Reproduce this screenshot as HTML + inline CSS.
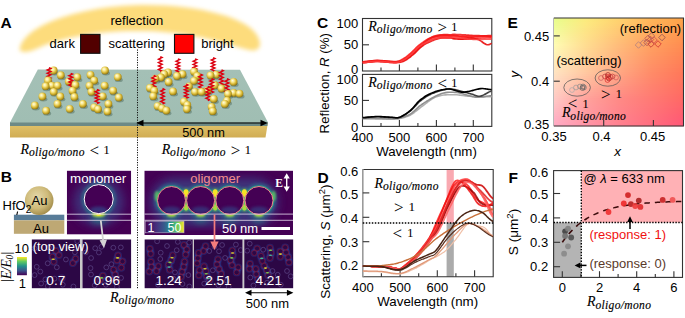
<!DOCTYPE html>
<html><head><meta charset="utf-8"><style>
html,body{margin:0;padding:0;background:#fff;width:685px;height:318px;overflow:hidden}
svg{display:block}
text{font-family:"Liberation Sans",sans-serif}
</style></head><body>
<svg width="685" height="318" viewBox="0 0 685 318">
<defs>
<filter id="blur07" x="-50%" y="-50%" width="200%" height="200%"><feGaussianBlur stdDeviation="0.7"/></filter>
<filter id="blur1" x="-50%" y="-50%" width="200%" height="200%"><feGaussianBlur stdDeviation="1"/></filter>
<filter id="blur15" x="-50%" y="-50%" width="200%" height="200%"><feGaussianBlur stdDeviation="1.5"/></filter>
<filter id="blur3" x="-50%" y="-50%" width="200%" height="200%"><feGaussianBlur stdDeviation="3"/></filter>
<filter id="blur5" x="-50%" y="-50%" width="200%" height="200%"><feGaussianBlur stdDeviation="5"/></filter>
<filter id="blur2b" x="-50%" y="-50%" width="200%" height="200%"><feGaussianBlur stdDeviation="2"/></filter>
<clipPath id="clipMonoIn"><circle cx="98.7" cy="199.1" r="14"/></clipPath>
<clipPath id="clipO0"><circle cx="171.5" cy="200.5" r="13.5"/></clipPath>
<clipPath id="clipO1"><circle cx="200.6" cy="200.5" r="13.5"/></clipPath>
<clipPath id="clipO2"><circle cx="229.8" cy="200.5" r="13.5"/></clipPath>
<clipPath id="clipO3"><circle cx="259" cy="200.5" r="13.5"/></clipPath>
<filter id="blur2" x="-10%" y="-30%" width="120%" height="160%"><feGaussianBlur stdDeviation="2.2"/></filter>
<linearGradient id="goldside" x1="0" y1="0" x2="0" y2="1"><stop offset="0" stop-color="#e4c66c"/><stop offset="1" stop-color="#d0ac54"/></linearGradient>
<linearGradient id="slabtop" x1="0" y1="0" x2="0" y2="1"><stop offset="0" stop-color="#a4c0b6"/><stop offset="1" stop-color="#a0beb3"/></linearGradient>
<radialGradient id="sph" cx="0.42" cy="0.4" r="0.68" fx="0.36" fy="0.32"><stop offset="0" stop-color="#fffde6"/><stop offset="0.3" stop-color="#f8e88e"/><stop offset="0.58" stop-color="#dcbc3a"/><stop offset="0.85" stop-color="#a08418"/><stop offset="1" stop-color="#6a5a1c"/></radialGradient>
<radialGradient id="bigsph" cx="0.42" cy="0.38" r="0.65"><stop offset="0" stop-color="#e4d8aa"/><stop offset="0.6" stop-color="#cfbb7a"/><stop offset="1" stop-color="#a08a48"/></radialGradient>
<radialGradient id="halo"><stop offset="0.3" stop-color="#3e3f86" stop-opacity="0.9"/><stop offset="0.65" stop-color="#472a78" stop-opacity="0.6"/><stop offset="1" stop-color="#440154" stop-opacity="0"/></radialGradient>
<radialGradient id="ring"><stop offset="0.8" stop-color="#2a7a8e"/><stop offset="0.88" stop-color="#2f6090" stop-opacity="0.7"/><stop offset="1" stop-color="#3b3f86" stop-opacity="0"/></radialGradient>
<radialGradient id="teal"><stop offset="0" stop-color="#2ab07e"/><stop offset="0.45" stop-color="#23888d" stop-opacity="0.8"/><stop offset="1" stop-color="#3b528b" stop-opacity="0"/></radialGradient>
<radialGradient id="hotspot"><stop offset="0" stop-color="#fde725"/><stop offset="0.5" stop-color="#a0da40"/><stop offset="1" stop-color="#5ec962" stop-opacity="0"/></radialGradient>
<radialGradient id="blueglow"><stop offset="0.45" stop-color="#2a4aa0" stop-opacity="0.75"/><stop offset="1" stop-color="#2c0747" stop-opacity="0"/></radialGradient>
<linearGradient id="vir_v" x1="0" y1="1" x2="0" y2="0"><stop offset="0" stop-color="#440154"/><stop offset="0.25" stop-color="#3b528b"/><stop offset="0.5" stop-color="#21918c"/><stop offset="0.75" stop-color="#5ec962"/><stop offset="1" stop-color="#fde725"/></linearGradient>
<linearGradient id="vir_h" x1="0" y1="0" x2="1" y2="0"><stop offset="0" stop-color="#440154"/><stop offset="0.3" stop-color="#46327e"/><stop offset="0.5" stop-color="#365c8d"/><stop offset="0.65" stop-color="#21918c"/><stop offset="0.82" stop-color="#5ec962"/><stop offset="1" stop-color="#fde725"/></linearGradient>
<clipPath id="clipC1"><rect x="362.5" y="18.5" width="129.3" height="52.5"/></clipPath>
<clipPath id="clipC2"><rect x="362.5" y="74.4" width="129.3" height="52"/></clipPath>
<clipPath id="clipD"><rect x="362.8" y="169.5" width="130.4" height="107.3"/></clipPath>
<clipPath id="clipF"><rect x="554" y="170" width="128.5" height="107.4"/></clipPath>
<clipPath id="clipMono"><rect x="66.8" y="170.6" width="64.4" height="64"/></clipPath>
<clipPath id="clipOlig"><rect x="144.3" y="170.6" width="148.7" height="64.4"/></clipPath>
<clipPath id="clipTV0"><rect x="31.6" y="239.3" width="48.4" height="49.1"/></clipPath><clipPath id="clipTV1"><rect x="82.2" y="239.3" width="49.1" height="49.1"/></clipPath><clipPath id="clipTV2"><rect x="144.4" y="239.3" width="48.5" height="49.1"/></clipPath><clipPath id="clipTV3"><rect x="194" y="239.3" width="48.8" height="49.1"/></clipPath><clipPath id="clipTV4"><rect x="244.1" y="239.3" width="49.3" height="49.1"/></clipPath>
</defs>
<text x="0.40" y="27.70" font-size="15.5" text-anchor="start" fill="#000" font-weight="bold">A</text>
<path d="M20,48 C26,22 90,5 145,5 C200,5 250,18 258,37 C263,47 258,52 249,50 C228,45 195,32 145,31 C100,30 58,38 36,49 C27,53 18,53 20,48 Z" fill="#fddc7c" filter="url(#blur2)"/>
<text x="110.50" y="24.70" font-size="13" text-anchor="start" fill="#000" >reflection</text>
<text x="49.60" y="47.70" font-size="13" text-anchor="start" fill="#000" >dark</text>
<rect x="80.6" y="34.4" width="19.4" height="18.9" fill="#520000" stroke="#111" stroke-width="1.1"/>
<text x="108.50" y="47.70" font-size="13" text-anchor="start" fill="#000" >scattering</text>
<rect x="174.5" y="34.4" width="19.4" height="18.9" fill="#ff0000" stroke="#111" stroke-width="1.1"/>
<text x="201.20" y="47.70" font-size="13" text-anchor="start" fill="#000" >bright</text>
<polygon points="10,122 268,122 265.5,137.6 10,137.6" fill="url(#goldside)"/>
<polygon points="10,122 268,122 267.4,126 10,126" fill="#6d8a86"/>
<polygon points="37.8,69.5 240,69.8 268,122.4 10,122.4" fill="url(#slabtop)"/>
<path d="M160.3,72.0 L162.1,71.1 L158.5,69.4 L162.1,67.7 L158.5,66.0 L162.1,64.3 L158.5,62.6 L162.1,60.9 L158.5,59.2 L162.1,57.5 L160.3,56.6" fill="none" stroke="#dc0010" stroke-width="1.45" stroke-linejoin="miter"/>
<path d="M213.1,72.0 L214.9,71.2 L211.3,69.6 L214.9,68.0 L211.3,66.4 L214.9,64.8 L211.3,63.3 L214.9,61.7 L211.3,60.1 L214.9,58.5 L213.1,57.7" fill="none" stroke="#dc0010" stroke-width="1.45" stroke-linejoin="miter"/>
<path d="M177.9,73.1 L179.7,72.3 L176.1,70.7 L179.7,69.1 L176.1,67.5 L179.7,65.9 L176.1,64.4 L179.7,62.8 L176.1,61.2 L179.7,59.6 L177.9,58.8" fill="none" stroke="#dc0010" stroke-width="1.45" stroke-linejoin="miter"/>
<path d="M195.0,73.1 L196.8,72.3 L193.2,70.7 L196.8,69.1 L193.2,67.5 L196.8,65.9 L193.2,64.4 L196.8,62.8 L193.2,61.2 L196.8,59.6 L195.0,58.8" fill="none" stroke="#dc0010" stroke-width="1.45" stroke-linejoin="miter"/>
<ellipse cx="54.7" cy="73.3" rx="4" ry="2.2" fill="#3d5a4a" opacity="0.4"/>
<circle cx="53.7" cy="70.5" r="3.9" fill="url(#sph)"/>
<ellipse cx="106.0" cy="73.3" rx="4" ry="2.2" fill="#3d5a4a" opacity="0.4"/>
<circle cx="105.0" cy="70.5" r="3.9" fill="url(#sph)"/>
<ellipse cx="195.0" cy="74.4" rx="4" ry="2.2" fill="#3d5a4a" opacity="0.4"/>
<circle cx="194.0" cy="71.6" r="3.9" fill="url(#sph)"/>
<ellipse cx="169.0" cy="75.3" rx="4" ry="2.2" fill="#3d5a4a" opacity="0.4"/>
<circle cx="168.0" cy="72.5" r="3.9" fill="url(#sph)"/>
<ellipse cx="165.2" cy="77.0" rx="4" ry="2.2" fill="#3d5a4a" opacity="0.4"/>
<circle cx="164.2" cy="74.2" r="3.9" fill="url(#sph)"/>
<ellipse cx="183.5" cy="77.0" rx="4" ry="2.2" fill="#3d5a4a" opacity="0.4"/>
<circle cx="182.5" cy="74.2" r="3.9" fill="url(#sph)"/>
<ellipse cx="217.0" cy="77.5" rx="4" ry="2.2" fill="#3d5a4a" opacity="0.4"/>
<circle cx="216.0" cy="74.7" r="3.9" fill="url(#sph)"/>
<ellipse cx="91.5" cy="77.6" rx="4" ry="2.2" fill="#3d5a4a" opacity="0.4"/>
<circle cx="90.5" cy="74.8" r="3.9" fill="url(#sph)"/>
<ellipse cx="61.8" cy="78.0" rx="4" ry="2.2" fill="#3d5a4a" opacity="0.4"/>
<circle cx="60.8" cy="75.2" r="3.9" fill="url(#sph)"/>
<ellipse cx="211.5" cy="78.1" rx="4" ry="2.2" fill="#3d5a4a" opacity="0.4"/>
<circle cx="210.5" cy="75.3" r="3.9" fill="url(#sph)"/>
<ellipse cx="178.0" cy="78.8" rx="4" ry="2.2" fill="#3d5a4a" opacity="0.4"/>
<circle cx="177.0" cy="76.0" r="3.9" fill="url(#sph)"/>
<ellipse cx="198.2" cy="78.8" rx="4" ry="2.2" fill="#3d5a4a" opacity="0.4"/>
<circle cx="197.2" cy="76.0" r="3.9" fill="url(#sph)"/>
<ellipse cx="78.3" cy="79.9" rx="4" ry="2.2" fill="#3d5a4a" opacity="0.4"/>
<circle cx="77.3" cy="77.1" r="3.9" fill="url(#sph)"/>
<ellipse cx="118.8" cy="79.9" rx="4" ry="2.2" fill="#3d5a4a" opacity="0.4"/>
<circle cx="117.8" cy="77.1" r="3.9" fill="url(#sph)"/>
<ellipse cx="161.9" cy="80.3" rx="4" ry="2.2" fill="#3d5a4a" opacity="0.4"/>
<circle cx="160.9" cy="77.5" r="3.9" fill="url(#sph)"/>
<ellipse cx="156.4" cy="81.4" rx="4" ry="2.2" fill="#3d5a4a" opacity="0.4"/>
<circle cx="155.4" cy="78.6" r="3.9" fill="url(#sph)"/>
<path d="M49.0,81.8 L50.8,81.0 L47.2,79.5 L50.8,77.9 L47.2,76.3 L50.8,74.8 L47.2,73.2 L50.8,71.6 L47.2,70.0 L50.8,68.5 L49.0,67.7" fill="none" stroke="#dc0010" stroke-width="1.45" stroke-linejoin="miter"/>
<ellipse cx="49.0" cy="83.3" rx="4" ry="2.2" fill="#3d5a4a" opacity="0.4"/>
<circle cx="48.0" cy="80.5" r="3.9" fill="url(#sph)"/>
<ellipse cx="95.2" cy="83.3" rx="4" ry="2.2" fill="#3d5a4a" opacity="0.4"/>
<circle cx="94.2" cy="80.5" r="3.9" fill="url(#sph)"/>
<ellipse cx="195.0" cy="83.6" rx="4" ry="2.2" fill="#3d5a4a" opacity="0.4"/>
<circle cx="194.0" cy="80.8" r="3.9" fill="url(#sph)"/>
<ellipse cx="69.8" cy="84.2" rx="4" ry="2.2" fill="#3d5a4a" opacity="0.4"/>
<circle cx="68.8" cy="81.4" r="3.9" fill="url(#sph)"/>
<ellipse cx="169.6" cy="84.7" rx="4" ry="2.2" fill="#3d5a4a" opacity="0.4"/>
<circle cx="168.6" cy="81.9" r="3.9" fill="url(#sph)"/>
<ellipse cx="234.6" cy="84.7" rx="4" ry="2.2" fill="#3d5a4a" opacity="0.4"/>
<circle cx="233.6" cy="81.9" r="3.9" fill="url(#sph)"/>
<path d="M221.5,85.2 L223.3,84.3 L219.7,82.6 L223.3,80.9 L219.7,79.2 L223.3,77.5 L219.7,75.8 L223.3,74.1 L219.7,72.4 L223.3,70.7 L221.5,69.8" fill="none" stroke="#dc0010" stroke-width="1.45" stroke-linejoin="miter"/>
<path d="M70.7,87.5 L72.5,86.7 L68.9,85.1 L72.5,83.6 L68.9,82.0 L72.5,80.4 L68.9,78.8 L72.5,77.2 L68.9,75.7 L72.5,74.1 L70.7,73.3" fill="none" stroke="#dc0010" stroke-width="1.45" stroke-linejoin="miter"/>
<ellipse cx="76.4" cy="87.8" rx="4" ry="2.2" fill="#3d5a4a" opacity="0.4"/>
<circle cx="75.4" cy="85.0" r="3.9" fill="url(#sph)"/>
<ellipse cx="215.9" cy="88.0" rx="4" ry="2.2" fill="#3d5a4a" opacity="0.4"/>
<circle cx="214.9" cy="85.2" r="3.9" fill="url(#sph)"/>
<ellipse cx="52.8" cy="88.4" rx="4" ry="2.2" fill="#3d5a4a" opacity="0.4"/>
<circle cx="51.8" cy="85.6" r="3.9" fill="url(#sph)"/>
<ellipse cx="58.5" cy="88.4" rx="4" ry="2.2" fill="#3d5a4a" opacity="0.4"/>
<circle cx="57.5" cy="85.6" r="3.9" fill="url(#sph)"/>
<ellipse cx="90.5" cy="88.4" rx="4" ry="2.2" fill="#3d5a4a" opacity="0.4"/>
<circle cx="89.5" cy="85.6" r="3.9" fill="url(#sph)"/>
<ellipse cx="105.6" cy="88.4" rx="4" ry="2.2" fill="#3d5a4a" opacity="0.4"/>
<circle cx="104.6" cy="85.6" r="3.9" fill="url(#sph)"/>
<ellipse cx="46.6" cy="89.0" rx="4" ry="2.2" fill="#3d5a4a" opacity="0.4"/>
<circle cx="45.6" cy="86.2" r="3.9" fill="url(#sph)"/>
<ellipse cx="189.9" cy="89.1" rx="4" ry="2.2" fill="#3d5a4a" opacity="0.4"/>
<circle cx="188.9" cy="86.3" r="3.9" fill="url(#sph)"/>
<path d="M200.5,89.6 L202.3,88.7 L198.7,87.0 L202.3,85.3 L198.7,83.6 L202.3,81.9 L198.7,80.2 L202.3,78.5 L198.7,76.8 L202.3,75.1 L200.5,74.2" fill="none" stroke="#dc0010" stroke-width="1.45" stroke-linejoin="miter"/>
<path d="M153.7,90.7 L155.5,89.8 L151.9,88.1 L155.5,86.4 L151.9,84.7 L155.5,83.0 L151.9,81.3 L155.5,79.6 L151.9,77.9 L155.5,76.2 L153.7,75.3" fill="none" stroke="#dc0010" stroke-width="1.45" stroke-linejoin="miter"/>
<ellipse cx="150.9" cy="90.7" rx="4" ry="2.2" fill="#3d5a4a" opacity="0.4"/>
<circle cx="149.9" cy="87.9" r="3.9" fill="url(#sph)"/>
<ellipse cx="222.5" cy="91.3" rx="4" ry="2.2" fill="#3d5a4a" opacity="0.4"/>
<circle cx="221.5" cy="88.5" r="3.9" fill="url(#sph)"/>
<path d="M211.6,92.9 L213.4,92.1 L209.8,90.5 L213.4,88.9 L209.8,87.3 L213.4,85.8 L209.8,84.2 L213.4,82.6 L209.8,81.0 L213.4,79.4 L211.6,78.6" fill="none" stroke="#dc0010" stroke-width="1.45" stroke-linejoin="miter"/>
<ellipse cx="73.5" cy="93.5" rx="4" ry="2.2" fill="#3d5a4a" opacity="0.4"/>
<circle cx="72.5" cy="90.7" r="3.9" fill="url(#sph)"/>
<ellipse cx="114.1" cy="93.5" rx="4" ry="2.2" fill="#3d5a4a" opacity="0.4"/>
<circle cx="113.1" cy="90.7" r="3.9" fill="url(#sph)"/>
<ellipse cx="155.3" cy="93.5" rx="4" ry="2.2" fill="#3d5a4a" opacity="0.4"/>
<circle cx="154.3" cy="90.7" r="3.9" fill="url(#sph)"/>
<ellipse cx="208.2" cy="93.5" rx="4" ry="2.2" fill="#3d5a4a" opacity="0.4"/>
<circle cx="207.2" cy="90.7" r="3.9" fill="url(#sph)"/>
<path d="M227.0,94.0 L228.8,93.1 L225.2,91.4 L228.8,89.7 L225.2,88.0 L228.8,86.3 L225.2,84.6 L228.8,82.9 L225.2,81.2 L228.8,79.5 L227.0,78.6" fill="none" stroke="#dc0010" stroke-width="1.45" stroke-linejoin="miter"/>
<ellipse cx="174.0" cy="94.2" rx="4" ry="2.2" fill="#3d5a4a" opacity="0.4"/>
<circle cx="173.0" cy="91.4" r="3.9" fill="url(#sph)"/>
<ellipse cx="54.7" cy="94.6" rx="4" ry="2.2" fill="#3d5a4a" opacity="0.4"/>
<circle cx="53.7" cy="91.8" r="3.9" fill="url(#sph)"/>
<ellipse cx="92.4" cy="94.6" rx="4" ry="2.2" fill="#3d5a4a" opacity="0.4"/>
<circle cx="91.4" cy="91.8" r="3.9" fill="url(#sph)"/>
<ellipse cx="196.0" cy="94.6" rx="4" ry="2.2" fill="#3d5a4a" opacity="0.4"/>
<circle cx="195.0" cy="91.8" r="3.9" fill="url(#sph)"/>
<ellipse cx="202.6" cy="94.6" rx="4" ry="2.2" fill="#3d5a4a" opacity="0.4"/>
<circle cx="201.6" cy="91.8" r="3.9" fill="url(#sph)"/>
<ellipse cx="234.6" cy="95.7" rx="4" ry="2.2" fill="#3d5a4a" opacity="0.4"/>
<circle cx="233.6" cy="92.9" r="3.9" fill="url(#sph)"/>
<ellipse cx="240.5" cy="96.4" rx="4" ry="2.2" fill="#3d5a4a" opacity="0.4"/>
<circle cx="239.5" cy="93.6" r="3.9" fill="url(#sph)"/>
<ellipse cx="229.0" cy="96.8" rx="4" ry="2.2" fill="#3d5a4a" opacity="0.4"/>
<circle cx="228.0" cy="94.0" r="3.9" fill="url(#sph)"/>
<path d="M186.2,98.4 L188.0,97.6 L184.4,96.0 L188.0,94.4 L184.4,92.8 L188.0,91.2 L184.4,89.7 L188.0,88.1 L184.4,86.5 L188.0,84.9 L186.2,84.1" fill="none" stroke="#dc0010" stroke-width="1.45" stroke-linejoin="miter"/>
<ellipse cx="154.2" cy="99.0" rx="4" ry="2.2" fill="#3d5a4a" opacity="0.4"/>
<circle cx="153.2" cy="96.2" r="3.9" fill="url(#sph)"/>
<ellipse cx="103.7" cy="99.1" rx="4" ry="2.2" fill="#3d5a4a" opacity="0.4"/>
<circle cx="102.7" cy="96.3" r="3.9" fill="url(#sph)"/>
<ellipse cx="43.4" cy="99.3" rx="4" ry="2.2" fill="#3d5a4a" opacity="0.4"/>
<circle cx="42.4" cy="96.5" r="3.9" fill="url(#sph)"/>
<ellipse cx="61.3" cy="99.3" rx="4" ry="2.2" fill="#3d5a4a" opacity="0.4"/>
<circle cx="60.3" cy="96.5" r="3.9" fill="url(#sph)"/>
<ellipse cx="75.4" cy="99.7" rx="4" ry="2.2" fill="#3d5a4a" opacity="0.4"/>
<circle cx="74.4" cy="96.9" r="3.9" fill="url(#sph)"/>
<ellipse cx="119.8" cy="100.3" rx="4" ry="2.2" fill="#3d5a4a" opacity="0.4"/>
<circle cx="118.8" cy="97.5" r="3.9" fill="url(#sph)"/>
<path d="M207.8,100.6 L209.6,99.8 L206.0,98.2 L209.6,96.6 L206.0,95.0 L209.6,93.4 L206.0,91.9 L209.6,90.3 L206.0,88.7 L209.6,87.1 L207.8,86.3" fill="none" stroke="#dc0010" stroke-width="1.45" stroke-linejoin="miter"/>
<ellipse cx="214.8" cy="101.7" rx="4" ry="2.2" fill="#3d5a4a" opacity="0.4"/>
<circle cx="213.8" cy="98.9" r="3.9" fill="url(#sph)"/>
<path d="M97.0,103.5 L98.8,102.7 L95.2,101.2 L98.8,99.6 L95.2,98.0 L98.8,96.5 L95.2,94.9 L98.8,93.3 L95.2,91.8 L98.8,90.2 L97.0,89.4" fill="none" stroke="#dc0010" stroke-width="1.45" stroke-linejoin="miter"/>
<ellipse cx="228.0" cy="103.4" rx="4" ry="2.2" fill="#3d5a4a" opacity="0.4"/>
<circle cx="227.0" cy="100.6" r="3.9" fill="url(#sph)"/>
<path d="M162.5,104.0 L164.3,103.1 L160.7,101.4 L164.3,99.7 L160.7,98.0 L164.3,96.2 L160.7,94.5 L164.3,92.8 L160.7,91.1 L164.3,89.4 L162.5,88.5" fill="none" stroke="#dc0010" stroke-width="1.45" stroke-linejoin="miter"/>
<ellipse cx="185.0" cy="104.5" rx="4" ry="2.2" fill="#3d5a4a" opacity="0.4"/>
<circle cx="184.0" cy="101.7" r="3.9" fill="url(#sph)"/>
<ellipse cx="58.5" cy="106.7" rx="4" ry="2.2" fill="#3d5a4a" opacity="0.4"/>
<circle cx="57.5" cy="103.9" r="3.9" fill="url(#sph)"/>
<ellipse cx="83.9" cy="106.7" rx="4" ry="2.2" fill="#3d5a4a" opacity="0.4"/>
<circle cx="82.9" cy="103.9" r="3.9" fill="url(#sph)"/>
<ellipse cx="109.4" cy="106.7" rx="4" ry="2.2" fill="#3d5a4a" opacity="0.4"/>
<circle cx="108.4" cy="103.9" r="3.9" fill="url(#sph)"/>
<ellipse cx="225.8" cy="106.7" rx="4" ry="2.2" fill="#3d5a4a" opacity="0.4"/>
<circle cx="224.8" cy="103.9" r="3.9" fill="url(#sph)"/>
<ellipse cx="188.3" cy="107.8" rx="4" ry="2.2" fill="#3d5a4a" opacity="0.4"/>
<circle cx="187.3" cy="105.0" r="3.9" fill="url(#sph)"/>
<ellipse cx="35.8" cy="108.2" rx="4" ry="2.2" fill="#3d5a4a" opacity="0.4"/>
<circle cx="34.8" cy="105.4" r="3.9" fill="url(#sph)"/>
<ellipse cx="158.6" cy="108.9" rx="4" ry="2.2" fill="#3d5a4a" opacity="0.4"/>
<circle cx="157.6" cy="106.1" r="3.9" fill="url(#sph)"/>
<ellipse cx="212.6" cy="109.6" rx="4" ry="2.2" fill="#3d5a4a" opacity="0.4"/>
<circle cx="211.6" cy="106.8" r="3.9" fill="url(#sph)"/>
<ellipse cx="95.2" cy="110.1" rx="4" ry="2.2" fill="#3d5a4a" opacity="0.4"/>
<circle cx="94.2" cy="107.3" r="3.9" fill="url(#sph)"/>
<ellipse cx="163.0" cy="111.1" rx="4" ry="2.2" fill="#3d5a4a" opacity="0.4"/>
<circle cx="162.0" cy="108.3" r="3.9" fill="url(#sph)"/>
<ellipse cx="70.7" cy="111.6" rx="4" ry="2.2" fill="#3d5a4a" opacity="0.4"/>
<circle cx="69.7" cy="108.8" r="3.9" fill="url(#sph)"/>
<ellipse cx="187.9" cy="111.8" rx="4" ry="2.2" fill="#3d5a4a" opacity="0.4"/>
<circle cx="186.9" cy="109.0" r="3.9" fill="url(#sph)"/>
<ellipse cx="99.0" cy="112.0" rx="4" ry="2.2" fill="#3d5a4a" opacity="0.4"/>
<circle cx="98.0" cy="109.2" r="3.9" fill="url(#sph)"/>
<ellipse cx="167.4" cy="113.3" rx="4" ry="2.2" fill="#3d5a4a" opacity="0.4"/>
<circle cx="166.4" cy="110.5" r="3.9" fill="url(#sph)"/>
<ellipse cx="47.1" cy="113.5" rx="4" ry="2.2" fill="#3d5a4a" opacity="0.4"/>
<circle cx="46.1" cy="110.7" r="3.9" fill="url(#sph)"/>
<ellipse cx="213.7" cy="114.0" rx="4" ry="2.2" fill="#3d5a4a" opacity="0.4"/>
<circle cx="212.7" cy="111.2" r="3.9" fill="url(#sph)"/>
<ellipse cx="108.5" cy="114.2" rx="4" ry="2.2" fill="#3d5a4a" opacity="0.4"/>
<circle cx="107.5" cy="111.4" r="3.9" fill="url(#sph)"/>
<line x1="137.5" y1="49.5" x2="137.5" y2="289" stroke="#111" stroke-width="1" stroke-dasharray="1.2,1.3"/>
<line x1="140" y1="123" x2="264" y2="123" stroke="#000" stroke-width="1.2"/>
<path d="M136.3,123 L143.5,119.8 L143.5,126.2 Z M267.7,123 L260.5,119.8 L260.5,126.2 Z" fill="#000"/>
<text x="203.50" y="137.00" font-size="12.8" text-anchor="middle" fill="#000" >500 nm</text>
<text x="20.5" y="153.8" font-size="14" style="font-family:'Liberation Serif',serif" font-style="italic" stroke="#000" stroke-width="0.1">R</text>
<text x="28.9" y="156.1" font-size="11.5" style="font-family:'Liberation Serif',serif" font-style="italic" textLength="55.5" lengthAdjust="spacing" stroke="#000" stroke-width="0.15">oligo/mono</text>
<text x="89.6" y="156.0" font-size="17" style="font-family:'Liberation Serif',serif">&lt;</text>
<text x="103.2" y="153.8" font-size="13.2" style="font-family:'Liberation Serif',serif">1</text>
<text x="161.7" y="153.8" font-size="14" style="font-family:'Liberation Serif',serif" font-style="italic" stroke="#000" stroke-width="0.1">R</text>
<text x="170.1" y="156.1" font-size="11.5" style="font-family:'Liberation Serif',serif" font-style="italic" textLength="55.5" lengthAdjust="spacing" stroke="#000" stroke-width="0.15">oligo/mono</text>
<text x="230.8" y="156.0" font-size="17" style="font-family:'Liberation Serif',serif">&gt;</text>
<text x="244.4" y="153.8" font-size="13.2" style="font-family:'Liberation Serif',serif">1</text>
<text x="0.80" y="182.40" font-size="15.5" text-anchor="start" fill="#000" font-weight="bold">B</text>
<rect x="13.9" y="214.7" width="50.4" height="5.6" fill="#587c98"/>
<rect x="13.9" y="220.3" width="50.4" height="13.5" fill="#bea874"/>
<circle cx="39.2" cy="200.6" r="14.3" fill="url(#bigsph)"/>
<text x="31.60" y="205.20" font-size="13" text-anchor="start" fill="#000" >Au</text>
<text x="33.00" y="232.60" font-size="13" text-anchor="start" fill="#000" >Au</text>
<text x="2.6" y="210.2" font-size="13">HfO<tspan font-size="10" dy="3">2</tspan></text>
<line x1="17.6" y1="211.5" x2="16.8" y2="215" stroke="#000" stroke-width="1.1"/>
<g clip-path="url(#clipMono)">
<rect x="66.8" y="170.6" width="64.4" height="64" fill="#440154"/>
<ellipse cx="98.7" cy="202" rx="25" ry="24" fill="#3d3f85" opacity="0.75" filter="url(#blur5)"/>
<circle cx="98.7" cy="199.1" r="15.8" fill="none" stroke="#2c7a8e" stroke-width="2.5" opacity="0.8" filter="url(#blur15)"/>
<ellipse cx="98.7" cy="219" rx="8" ry="5" fill="#21918c" opacity="0.6" filter="url(#blur3)"/>
<ellipse cx="98.7" cy="208" rx="12" ry="5" fill="#2d6e8e" opacity="0.8" filter="url(#blur2b)"/>
<ellipse cx="98.7" cy="214.2" rx="6.5" ry="2.8" fill="#b8de3a" filter="url(#blur1)"/>
<ellipse cx="98.7" cy="214.3" rx="2.5" ry="1.5" fill="#fde725"/>
<circle cx="98.7" cy="199.1" r="14.5" fill="#440154"/>
<ellipse cx="98.7" cy="210" rx="9" ry="3.5" fill="#31488a" opacity="0.7" filter="url(#blur15)" clip-path="url(#clipMonoIn)"/>
<circle cx="98.7" cy="199.1" r="14.5" fill="none" stroke="#fff" stroke-width="1"/>
<line x1="66.8" y1="214.2" x2="131.2" y2="214.2" stroke="#e8e0f0" stroke-width="0.8"/>
<line x1="66.8" y1="220.3" x2="131.2" y2="220.3" stroke="#e8e0f0" stroke-width="0.8"/>
</g>
<text x="98.20" y="183.20" font-size="13.3" text-anchor="middle" fill="#fff" >monomer</text>
<g clip-path="url(#clipOlig)">
<rect x="144.3" y="170.6" width="148.7" height="64.4" fill="#440154"/>
<rect x="150" y="178" width="128" height="48" rx="24" fill="#3d3f85" opacity="0.8" filter="url(#blur5)"/>
<circle cx="171.5" cy="200.5" r="15.5" fill="none" stroke="#2a6f8e" stroke-width="3" opacity="0.8" filter="url(#blur15)"/>
<circle cx="171.5" cy="200.5" r="14.6" fill="none" stroke="#25a088" stroke-width="1.4" opacity="0.9" filter="url(#blur07)"/>
<ellipse cx="171.5" cy="219" rx="7" ry="4.5" fill="#21918c" opacity="0.55" filter="url(#blur3)"/>
<ellipse cx="171.5" cy="214.6" rx="4.5" ry="2.2" fill="#b8de3a" filter="url(#blur1)"/>
<circle cx="200.6" cy="200.5" r="15.5" fill="none" stroke="#2a6f8e" stroke-width="3" opacity="0.8" filter="url(#blur15)"/>
<circle cx="200.6" cy="200.5" r="14.6" fill="none" stroke="#25a088" stroke-width="1.4" opacity="0.9" filter="url(#blur07)"/>
<ellipse cx="200.6" cy="219" rx="7" ry="4.5" fill="#21918c" opacity="0.55" filter="url(#blur3)"/>
<ellipse cx="200.6" cy="214.6" rx="4.5" ry="2.2" fill="#b8de3a" filter="url(#blur1)"/>
<circle cx="229.8" cy="200.5" r="15.5" fill="none" stroke="#2a6f8e" stroke-width="3" opacity="0.8" filter="url(#blur15)"/>
<circle cx="229.8" cy="200.5" r="14.6" fill="none" stroke="#25a088" stroke-width="1.4" opacity="0.9" filter="url(#blur07)"/>
<ellipse cx="229.8" cy="219" rx="7" ry="4.5" fill="#21918c" opacity="0.55" filter="url(#blur3)"/>
<ellipse cx="229.8" cy="214.6" rx="4.5" ry="2.2" fill="#b8de3a" filter="url(#blur1)"/>
<circle cx="259" cy="200.5" r="15.5" fill="none" stroke="#2a6f8e" stroke-width="3" opacity="0.8" filter="url(#blur15)"/>
<circle cx="259" cy="200.5" r="14.6" fill="none" stroke="#25a088" stroke-width="1.4" opacity="0.9" filter="url(#blur07)"/>
<ellipse cx="259" cy="219" rx="7" ry="4.5" fill="#21918c" opacity="0.55" filter="url(#blur3)"/>
<ellipse cx="259" cy="214.6" rx="4.5" ry="2.2" fill="#b8de3a" filter="url(#blur1)"/>
<ellipse cx="186.05" cy="200" rx="3.5" ry="12" fill="#5ec962" filter="url(#blur15)"/>
<ellipse cx="186.05" cy="193" rx="2.6" ry="3.8" fill="#f6e426" filter="url(#blur07)"/>
<ellipse cx="186.05" cy="207.5" rx="2.2" ry="3" fill="#a8d840" filter="url(#blur07)"/>
<ellipse cx="215.2" cy="200" rx="3.5" ry="12" fill="#5ec962" filter="url(#blur15)"/>
<ellipse cx="215.2" cy="193" rx="2.6" ry="3.8" fill="#f6e426" filter="url(#blur07)"/>
<ellipse cx="215.2" cy="207.5" rx="2.2" ry="3" fill="#a8d840" filter="url(#blur07)"/>
<ellipse cx="244.4" cy="200" rx="3.5" ry="12" fill="#5ec962" filter="url(#blur15)"/>
<ellipse cx="244.4" cy="193" rx="2.6" ry="3.8" fill="#f6e426" filter="url(#blur07)"/>
<ellipse cx="244.4" cy="207.5" rx="2.2" ry="3" fill="#a8d840" filter="url(#blur07)"/>
<ellipse cx="157" cy="196" rx="2.5" ry="5" fill="#5ec962" opacity="0.8" filter="url(#blur1)"/>
<ellipse cx="273.5" cy="196" rx="2.5" ry="5" fill="#5ec962" opacity="0.8" filter="url(#blur1)"/>
<circle cx="171.5" cy="200.5" r="14" fill="#440154"/>
<ellipse cx="171.5" cy="210" rx="9" ry="3.5" fill="#31488a" opacity="0.6" filter="url(#blur15)" clip-path="url(#clipO0)"/>
<circle cx="171.5" cy="200.5" r="14" fill="none" stroke="#f08a8a" stroke-width="1"/>
<circle cx="200.6" cy="200.5" r="14" fill="#440154"/>
<ellipse cx="200.6" cy="210" rx="9" ry="3.5" fill="#31488a" opacity="0.6" filter="url(#blur15)" clip-path="url(#clipO1)"/>
<circle cx="200.6" cy="200.5" r="14" fill="none" stroke="#f08a8a" stroke-width="1"/>
<circle cx="229.8" cy="200.5" r="14" fill="#440154"/>
<ellipse cx="229.8" cy="210" rx="9" ry="3.5" fill="#31488a" opacity="0.6" filter="url(#blur15)" clip-path="url(#clipO2)"/>
<circle cx="229.8" cy="200.5" r="14" fill="none" stroke="#f08a8a" stroke-width="1"/>
<circle cx="259" cy="200.5" r="14" fill="#440154"/>
<ellipse cx="259" cy="210" rx="9" ry="3.5" fill="#31488a" opacity="0.6" filter="url(#blur15)" clip-path="url(#clipO3)"/>
<circle cx="259" cy="200.5" r="14" fill="none" stroke="#f08a8a" stroke-width="1"/>
<line x1="144.3" y1="214.1" x2="293" y2="214.1" stroke="#e8e0f0" stroke-width="0.8"/>
<line x1="144.3" y1="220.3" x2="293" y2="220.3" stroke="#e8e0f0" stroke-width="0.8"/>
</g>
<text x="215.20" y="183.40" font-size="13" text-anchor="middle" fill="#f48c8c" >oligomer</text>
<text x="275.2" y="186.6" font-size="11.5" style="font-family:'Liberation Serif',serif" font-weight="bold" fill="#fff">E</text>
<line x1="286.7" y1="176.5" x2="286.7" y2="188.5" stroke="#fff" stroke-width="1.4"/>
<path d="M286.7,173.3 L283.6,178.6 L289.8,178.6 Z M286.7,191.7 L283.6,186.4 L289.8,186.4 Z" fill="#fff"/>
<rect x="145.2" y="221.2" width="38.8" height="11.6" fill="url(#vir_h)" stroke="#b8b0c8" stroke-width="0.6"/>
<text x="147.60" y="232.30" font-size="12.5" text-anchor="start" fill="#fff" >1</text>
<text x="167.50" y="232.30" font-size="12.5" text-anchor="start" fill="#fff" >50</text>
<text x="222.00" y="232.80" font-size="13" text-anchor="start" fill="#fff" >50 nm</text>
<rect x="261.5" y="227" width="28.5" height="3" fill="#fff"/>
<g clip-path="url(#clipTV0)">
<rect x="31.6" y="239.3" width="48.4" height="49.1" fill="#2c0745"/>
<circle cx="52.5" cy="256.8" r="3.2" fill="none" stroke="#3050b0" stroke-width="1.5" opacity="0.3" filter="url(#blur07)"/>
<circle cx="53.8" cy="261.8" r="3.2" fill="none" stroke="#3050b0" stroke-width="1.5" opacity="0.3" filter="url(#blur07)"/>
<circle cx="75.6" cy="258.7" r="3.2" fill="none" stroke="#3050b0" stroke-width="1.5" opacity="0.3" filter="url(#blur07)"/>
<circle cx="72.8" cy="263.1" r="3.2" fill="none" stroke="#3050b0" stroke-width="1.5" opacity="0.3" filter="url(#blur07)"/>
<circle cx="56.0" cy="250.8" r="3.2" fill="none" stroke="#3050b0" stroke-width="1.5" opacity="0.3" filter="url(#blur07)"/>
<circle cx="58.9" cy="255.1" r="3.2" fill="none" stroke="#3050b0" stroke-width="1.5" opacity="0.3" filter="url(#blur07)"/>
<circle cx="61.8" cy="278.2" r="3.2" fill="none" stroke="#3050b0" stroke-width="1.5" opacity="0.3" filter="url(#blur07)"/>
<ellipse cx="53.2" cy="259.3" rx="3.4" ry="2.4" fill="#2f5ac0" opacity="0.5" filter="url(#blur1)"/>
<ellipse cx="74.2" cy="260.9" rx="3.4" ry="2.4" fill="#2f5ac0" opacity="0.5" filter="url(#blur1)"/>
<ellipse cx="57.5" cy="252.9" rx="3.4" ry="2.4" fill="#2f5ac0" opacity="0.5" filter="url(#blur1)"/>
<circle cx="52.5" cy="256.8" r="2.5" fill="#2c0745" stroke="#80183c" stroke-width="0.8" opacity="0.9"/>
<circle cx="53.8" cy="261.8" r="2.5" fill="#2c0745" stroke="#80183c" stroke-width="0.8" opacity="0.9"/>
<circle cx="75.6" cy="258.7" r="2.5" fill="#2c0745" stroke="#80183c" stroke-width="0.8" opacity="0.9"/>
<circle cx="72.8" cy="263.1" r="2.5" fill="#2c0745" stroke="#80183c" stroke-width="0.8" opacity="0.9"/>
<circle cx="56.0" cy="250.8" r="2.5" fill="#2c0745" stroke="#80183c" stroke-width="0.8" opacity="0.9"/>
<circle cx="58.9" cy="255.1" r="2.5" fill="#2c0745" stroke="#80183c" stroke-width="0.8" opacity="0.9"/>
<circle cx="61.8" cy="278.2" r="2.5" fill="#2c0745" stroke="#80183c" stroke-width="0.8" opacity="0.9"/>
<circle cx="34.6" cy="275.1" r="2.4" fill="none" stroke="#7262a4" stroke-width="0.7" opacity="0.7"/>
<circle cx="34.5" cy="248.4" r="2.4" fill="none" stroke="#7262a4" stroke-width="0.7" opacity="0.7"/>
<circle cx="65.9" cy="259.5" r="2.4" fill="none" stroke="#7262a4" stroke-width="0.7" opacity="0.7"/>
<circle cx="40.3" cy="271.6" r="2.4" fill="none" stroke="#7262a4" stroke-width="0.7" opacity="0.7"/>
<circle cx="54.5" cy="278.7" r="2.4" fill="none" stroke="#7262a4" stroke-width="0.7" opacity="0.7"/>
<circle cx="62.8" cy="284.7" r="2.4" fill="none" stroke="#7262a4" stroke-width="0.7" opacity="0.7"/>
<circle cx="73.4" cy="286.5" r="2.4" fill="none" stroke="#7262a4" stroke-width="0.7" opacity="0.7"/>
<circle cx="36.7" cy="266.8" r="2.4" fill="none" stroke="#7262a4" stroke-width="0.7" opacity="0.7"/>
<circle cx="48.8" cy="247.7" r="2.4" fill="none" stroke="#7262a4" stroke-width="0.7" opacity="0.7"/>
<circle cx="47.7" cy="263.3" r="2.4" fill="none" stroke="#7262a4" stroke-width="0.7" opacity="0.7"/>
<circle cx="45.4" cy="279.4" r="2.4" fill="none" stroke="#7262a4" stroke-width="0.7" opacity="0.7"/>
<circle cx="77.2" cy="241.1" r="2.4" fill="none" stroke="#7262a4" stroke-width="0.7" opacity="0.7"/>
<circle cx="56.8" cy="267.3" r="2.4" fill="none" stroke="#7262a4" stroke-width="0.7" opacity="0.7"/>
<circle cx="47.7" cy="286.1" r="2.4" fill="none" stroke="#7262a4" stroke-width="0.7" opacity="0.7"/>
<circle cx="74.9" cy="252.3" r="2.4" fill="none" stroke="#7262a4" stroke-width="0.7" opacity="0.7"/>
<circle cx="41.1" cy="283.5" r="2.4" fill="none" stroke="#7262a4" stroke-width="0.7" opacity="0.7"/>
<ellipse cx="53.2" cy="259.3" rx="1.7" ry="0.8" fill="#d8e030" opacity="0.95"/>
</g>
<text x="55.80" y="285.30" font-size="13.6" text-anchor="middle" fill="#fff" >0.7</text>
<g clip-path="url(#clipTV1)">
<rect x="82.2" y="239.3" width="49.1" height="49.1" fill="#2c0745"/>
<circle cx="118.1" cy="255.4" r="3.2" fill="none" stroke="#3050b0" stroke-width="1.5" opacity="0.3" filter="url(#blur07)"/>
<circle cx="117.0" cy="260.4" r="3.2" fill="none" stroke="#3050b0" stroke-width="1.5" opacity="0.3" filter="url(#blur07)"/>
<circle cx="102.9" cy="275.6" r="3.2" fill="none" stroke="#3050b0" stroke-width="1.5" opacity="0.3" filter="url(#blur07)"/>
<circle cx="100.2" cy="280.1" r="3.2" fill="none" stroke="#3050b0" stroke-width="1.5" opacity="0.3" filter="url(#blur07)"/>
<circle cx="122.5" cy="261.4" r="3.2" fill="none" stroke="#3050b0" stroke-width="1.5" opacity="0.3" filter="url(#blur07)"/>
<circle cx="113.6" cy="269.7" r="3.2" fill="none" stroke="#3050b0" stroke-width="1.5" opacity="0.3" filter="url(#blur07)"/>
<circle cx="115.2" cy="274.6" r="3.2" fill="none" stroke="#3050b0" stroke-width="1.5" opacity="0.3" filter="url(#blur07)"/>
<circle cx="114.8" cy="279.8" r="3.2" fill="none" stroke="#3050b0" stroke-width="1.5" opacity="0.3" filter="url(#blur07)"/>
<circle cx="121.3" cy="267.7" r="3.2" fill="none" stroke="#3050b0" stroke-width="1.5" opacity="0.3" filter="url(#blur07)"/>
<ellipse cx="117.6" cy="257.9" rx="3.4" ry="2.4" fill="#2f5ac0" opacity="0.5" filter="url(#blur1)"/>
<ellipse cx="101.6" cy="277.9" rx="3.4" ry="2.4" fill="#2f5ac0" opacity="0.5" filter="url(#blur1)"/>
<ellipse cx="114.4" cy="272.2" rx="3.4" ry="2.4" fill="#2f5ac0" opacity="0.5" filter="url(#blur1)"/>
<ellipse cx="115.0" cy="277.2" rx="3.4" ry="2.4" fill="#2f5ac0" opacity="0.5" filter="url(#blur1)"/>
<circle cx="118.1" cy="255.4" r="2.5" fill="#2c0745" stroke="#80183c" stroke-width="0.8" opacity="0.9"/>
<circle cx="117.0" cy="260.4" r="2.5" fill="#2c0745" stroke="#80183c" stroke-width="0.8" opacity="0.9"/>
<circle cx="102.9" cy="275.6" r="2.5" fill="#2c0745" stroke="#80183c" stroke-width="0.8" opacity="0.9"/>
<circle cx="100.2" cy="280.1" r="2.5" fill="#2c0745" stroke="#80183c" stroke-width="0.8" opacity="0.9"/>
<circle cx="122.5" cy="261.4" r="2.5" fill="#2c0745" stroke="#80183c" stroke-width="0.8" opacity="0.9"/>
<circle cx="113.6" cy="269.7" r="2.5" fill="#2c0745" stroke="#80183c" stroke-width="0.8" opacity="0.9"/>
<circle cx="115.2" cy="274.6" r="2.5" fill="#2c0745" stroke="#80183c" stroke-width="0.8" opacity="0.9"/>
<circle cx="114.8" cy="279.8" r="2.5" fill="#2c0745" stroke="#80183c" stroke-width="0.8" opacity="0.9"/>
<circle cx="121.3" cy="267.7" r="2.5" fill="#2c0745" stroke="#80183c" stroke-width="0.8" opacity="0.9"/>
<circle cx="85.8" cy="252.4" r="2.4" fill="none" stroke="#7262a4" stroke-width="0.7" opacity="0.7"/>
<circle cx="113.3" cy="247.7" r="2.4" fill="none" stroke="#7262a4" stroke-width="0.7" opacity="0.7"/>
<circle cx="91.0" cy="274.5" r="2.4" fill="none" stroke="#7262a4" stroke-width="0.7" opacity="0.7"/>
<circle cx="105.8" cy="284.8" r="2.4" fill="none" stroke="#7262a4" stroke-width="0.7" opacity="0.7"/>
<circle cx="91.1" cy="258.0" r="2.4" fill="none" stroke="#7262a4" stroke-width="0.7" opacity="0.7"/>
<circle cx="90.5" cy="268.1" r="2.4" fill="none" stroke="#7262a4" stroke-width="0.7" opacity="0.7"/>
<circle cx="101.4" cy="246.8" r="2.4" fill="none" stroke="#7262a4" stroke-width="0.7" opacity="0.7"/>
<circle cx="98.9" cy="252.5" r="2.4" fill="none" stroke="#7262a4" stroke-width="0.7" opacity="0.7"/>
<circle cx="120.8" cy="247.4" r="2.4" fill="none" stroke="#7262a4" stroke-width="0.7" opacity="0.7"/>
<circle cx="111.4" cy="264.2" r="2.4" fill="none" stroke="#7262a4" stroke-width="0.7" opacity="0.7"/>
<circle cx="94.7" cy="285.3" r="2.4" fill="none" stroke="#7262a4" stroke-width="0.7" opacity="0.7"/>
<circle cx="95.2" cy="248.2" r="2.4" fill="none" stroke="#7262a4" stroke-width="0.7" opacity="0.7"/>
<circle cx="116.9" cy="286.6" r="2.4" fill="none" stroke="#7262a4" stroke-width="0.7" opacity="0.7"/>
<circle cx="121.1" cy="277.9" r="2.4" fill="none" stroke="#7262a4" stroke-width="0.7" opacity="0.7"/>
<circle cx="106.3" cy="267.4" r="2.4" fill="none" stroke="#7262a4" stroke-width="0.7" opacity="0.7"/>
<ellipse cx="117.6" cy="257.9" rx="1.7" ry="0.8" fill="#d8e030" opacity="0.95"/>
<ellipse cx="101.6" cy="277.9" rx="1.7" ry="0.8" fill="#7ad050" opacity="0.95"/>
</g>
<text x="106.75" y="285.30" font-size="13.6" text-anchor="middle" fill="#fff" >0.96</text>
<g clip-path="url(#clipTV2)">
<rect x="144.4" y="239.3" width="48.5" height="49.1" fill="#2c0745"/>
<circle cx="172.7" cy="255.2" r="3.2" fill="none" stroke="#3050b0" stroke-width="1.5" opacity="0.3" filter="url(#blur07)"/>
<circle cx="171.3" cy="260.2" r="3.2" fill="none" stroke="#3050b0" stroke-width="1.5" opacity="0.3" filter="url(#blur07)"/>
<circle cx="168.5" cy="264.6" r="3.2" fill="none" stroke="#3050b0" stroke-width="1.5" opacity="0.3" filter="url(#blur07)"/>
<circle cx="169.7" cy="269.7" r="3.2" fill="none" stroke="#3050b0" stroke-width="1.5" opacity="0.3" filter="url(#blur07)"/>
<circle cx="151.0" cy="261.8" r="3.2" fill="none" stroke="#3050b0" stroke-width="1.5" opacity="0.3" filter="url(#blur07)"/>
<circle cx="151.5" cy="266.9" r="3.2" fill="none" stroke="#3050b0" stroke-width="1.5" opacity="0.3" filter="url(#blur07)"/>
<circle cx="149.3" cy="271.6" r="3.2" fill="none" stroke="#3050b0" stroke-width="1.5" opacity="0.3" filter="url(#blur07)"/>
<circle cx="183.9" cy="245.0" r="3.2" fill="none" stroke="#3050b0" stroke-width="1.5" opacity="0.3" filter="url(#blur07)"/>
<circle cx="186.7" cy="249.4" r="3.2" fill="none" stroke="#3050b0" stroke-width="1.5" opacity="0.3" filter="url(#blur07)"/>
<circle cx="185.7" cy="254.5" r="3.2" fill="none" stroke="#3050b0" stroke-width="1.5" opacity="0.3" filter="url(#blur07)"/>
<circle cx="158.4" cy="266.2" r="3.2" fill="none" stroke="#3050b0" stroke-width="1.5" opacity="0.3" filter="url(#blur07)"/>
<circle cx="156.5" cy="271.1" r="3.2" fill="none" stroke="#3050b0" stroke-width="1.5" opacity="0.3" filter="url(#blur07)"/>
<circle cx="149.9" cy="248.7" r="3.2" fill="none" stroke="#3050b0" stroke-width="1.5" opacity="0.3" filter="url(#blur07)"/>
<circle cx="150.7" cy="253.8" r="3.2" fill="none" stroke="#3050b0" stroke-width="1.5" opacity="0.3" filter="url(#blur07)"/>
<circle cx="184.5" cy="261.7" r="3.2" fill="none" stroke="#3050b0" stroke-width="1.5" opacity="0.3" filter="url(#blur07)"/>
<circle cx="183.7" cy="266.8" r="3.2" fill="none" stroke="#3050b0" stroke-width="1.5" opacity="0.3" filter="url(#blur07)"/>
<circle cx="182.1" cy="271.8" r="3.2" fill="none" stroke="#3050b0" stroke-width="1.5" opacity="0.3" filter="url(#blur07)"/>
<circle cx="181.0" cy="276.9" r="3.2" fill="none" stroke="#3050b0" stroke-width="1.5" opacity="0.3" filter="url(#blur07)"/>
<ellipse cx="172.0" cy="257.7" rx="3.4" ry="2.4" fill="#2f5ac0" opacity="0.5" filter="url(#blur1)"/>
<ellipse cx="169.9" cy="262.4" rx="3.4" ry="2.4" fill="#2f5ac0" opacity="0.5" filter="url(#blur1)"/>
<ellipse cx="169.1" cy="267.1" rx="3.4" ry="2.4" fill="#2f5ac0" opacity="0.5" filter="url(#blur1)"/>
<ellipse cx="151.3" cy="264.3" rx="3.4" ry="2.4" fill="#2f5ac0" opacity="0.5" filter="url(#blur1)"/>
<ellipse cx="150.4" cy="269.3" rx="3.4" ry="2.4" fill="#2f5ac0" opacity="0.5" filter="url(#blur1)"/>
<ellipse cx="185.3" cy="247.2" rx="3.4" ry="2.4" fill="#2f5ac0" opacity="0.5" filter="url(#blur1)"/>
<ellipse cx="186.2" cy="251.9" rx="3.4" ry="2.4" fill="#2f5ac0" opacity="0.5" filter="url(#blur1)"/>
<ellipse cx="157.4" cy="268.7" rx="3.4" ry="2.4" fill="#2f5ac0" opacity="0.5" filter="url(#blur1)"/>
<ellipse cx="150.3" cy="251.3" rx="3.4" ry="2.4" fill="#2f5ac0" opacity="0.5" filter="url(#blur1)"/>
<ellipse cx="184.1" cy="264.3" rx="3.4" ry="2.4" fill="#2f5ac0" opacity="0.5" filter="url(#blur1)"/>
<ellipse cx="182.9" cy="269.3" rx="3.4" ry="2.4" fill="#2f5ac0" opacity="0.5" filter="url(#blur1)"/>
<ellipse cx="181.6" cy="274.3" rx="3.4" ry="2.4" fill="#2f5ac0" opacity="0.5" filter="url(#blur1)"/>
<circle cx="172.7" cy="255.2" r="2.5" fill="#2c0745" stroke="#80183c" stroke-width="0.8" opacity="0.9"/>
<circle cx="171.3" cy="260.2" r="2.5" fill="#2c0745" stroke="#80183c" stroke-width="0.8" opacity="0.9"/>
<circle cx="168.5" cy="264.6" r="2.5" fill="#2c0745" stroke="#80183c" stroke-width="0.8" opacity="0.9"/>
<circle cx="169.7" cy="269.7" r="2.5" fill="#2c0745" stroke="#80183c" stroke-width="0.8" opacity="0.9"/>
<circle cx="151.0" cy="261.8" r="2.5" fill="#2c0745" stroke="#80183c" stroke-width="0.8" opacity="0.9"/>
<circle cx="151.5" cy="266.9" r="2.5" fill="#2c0745" stroke="#80183c" stroke-width="0.8" opacity="0.9"/>
<circle cx="149.3" cy="271.6" r="2.5" fill="#2c0745" stroke="#80183c" stroke-width="0.8" opacity="0.9"/>
<circle cx="183.9" cy="245.0" r="2.5" fill="#2c0745" stroke="#80183c" stroke-width="0.8" opacity="0.9"/>
<circle cx="186.7" cy="249.4" r="2.5" fill="#2c0745" stroke="#80183c" stroke-width="0.8" opacity="0.9"/>
<circle cx="185.7" cy="254.5" r="2.5" fill="#2c0745" stroke="#80183c" stroke-width="0.8" opacity="0.9"/>
<circle cx="158.4" cy="266.2" r="2.5" fill="#2c0745" stroke="#80183c" stroke-width="0.8" opacity="0.9"/>
<circle cx="156.5" cy="271.1" r="2.5" fill="#2c0745" stroke="#80183c" stroke-width="0.8" opacity="0.9"/>
<circle cx="149.9" cy="248.7" r="2.5" fill="#2c0745" stroke="#80183c" stroke-width="0.8" opacity="0.9"/>
<circle cx="150.7" cy="253.8" r="2.5" fill="#2c0745" stroke="#80183c" stroke-width="0.8" opacity="0.9"/>
<circle cx="184.5" cy="261.7" r="2.5" fill="#2c0745" stroke="#80183c" stroke-width="0.8" opacity="0.9"/>
<circle cx="183.7" cy="266.8" r="2.5" fill="#2c0745" stroke="#80183c" stroke-width="0.8" opacity="0.9"/>
<circle cx="182.1" cy="271.8" r="2.5" fill="#2c0745" stroke="#80183c" stroke-width="0.8" opacity="0.9"/>
<circle cx="181.0" cy="276.9" r="2.5" fill="#2c0745" stroke="#80183c" stroke-width="0.8" opacity="0.9"/>
<circle cx="173.8" cy="278.9" r="2.4" fill="none" stroke="#7262a4" stroke-width="0.7" opacity="0.7"/>
<circle cx="189.3" cy="286.5" r="2.4" fill="none" stroke="#7262a4" stroke-width="0.7" opacity="0.7"/>
<circle cx="160.3" cy="259.0" r="2.4" fill="none" stroke="#7262a4" stroke-width="0.7" opacity="0.7"/>
<circle cx="188.4" cy="275.1" r="2.4" fill="none" stroke="#7262a4" stroke-width="0.7" opacity="0.7"/>
<circle cx="167.0" cy="246.0" r="2.4" fill="none" stroke="#7262a4" stroke-width="0.7" opacity="0.7"/>
<circle cx="175.0" cy="272.4" r="2.4" fill="none" stroke="#7262a4" stroke-width="0.7" opacity="0.7"/>
<circle cx="158.0" cy="284.8" r="2.4" fill="none" stroke="#7262a4" stroke-width="0.7" opacity="0.7"/>
<circle cx="160.7" cy="252.7" r="2.4" fill="none" stroke="#7262a4" stroke-width="0.7" opacity="0.7"/>
<circle cx="176.7" cy="250.2" r="2.4" fill="none" stroke="#7262a4" stroke-width="0.7" opacity="0.7"/>
<circle cx="189.2" cy="242.6" r="2.4" fill="none" stroke="#7262a4" stroke-width="0.7" opacity="0.7"/>
<circle cx="182.5" cy="284.0" r="2.4" fill="none" stroke="#7262a4" stroke-width="0.7" opacity="0.7"/>
<circle cx="177.8" cy="241.9" r="2.4" fill="none" stroke="#7262a4" stroke-width="0.7" opacity="0.7"/>
<circle cx="157.1" cy="241.3" r="2.4" fill="none" stroke="#7262a4" stroke-width="0.7" opacity="0.7"/>
<ellipse cx="172.0" cy="257.7" rx="1.7" ry="0.8" fill="#d8e030" opacity="0.95"/>
<ellipse cx="169.9" cy="262.4" rx="1.7" ry="0.8" fill="#7ad050" opacity="0.95"/>
<ellipse cx="169.1" cy="267.1" rx="1.7" ry="0.8" fill="#40c0a0" opacity="0.95"/>
</g>
<text x="168.65" y="285.30" font-size="13.6" text-anchor="middle" fill="#fff" >1.24</text>
<g clip-path="url(#clipTV3)">
<rect x="194" y="239.3" width="48.8" height="49.1" fill="#2c0745"/>
<circle cx="204.0" cy="266.3" r="3.2" fill="none" stroke="#3050b0" stroke-width="1.5" opacity="0.3" filter="url(#blur07)"/>
<circle cx="205.9" cy="271.2" r="3.2" fill="none" stroke="#3050b0" stroke-width="1.5" opacity="0.3" filter="url(#blur07)"/>
<circle cx="206.7" cy="276.3" r="3.2" fill="none" stroke="#3050b0" stroke-width="1.5" opacity="0.3" filter="url(#blur07)"/>
<circle cx="209.6" cy="280.6" r="3.2" fill="none" stroke="#3050b0" stroke-width="1.5" opacity="0.3" filter="url(#blur07)"/>
<circle cx="232.3" cy="250.4" r="3.2" fill="none" stroke="#3050b0" stroke-width="1.5" opacity="0.3" filter="url(#blur07)"/>
<circle cx="232.8" cy="255.6" r="3.2" fill="none" stroke="#3050b0" stroke-width="1.5" opacity="0.3" filter="url(#blur07)"/>
<circle cx="230.5" cy="260.2" r="3.2" fill="none" stroke="#3050b0" stroke-width="1.5" opacity="0.3" filter="url(#blur07)"/>
<circle cx="232.1" cy="265.2" r="3.2" fill="none" stroke="#3050b0" stroke-width="1.5" opacity="0.3" filter="url(#blur07)"/>
<circle cx="218.0" cy="259.3" r="3.2" fill="none" stroke="#3050b0" stroke-width="1.5" opacity="0.3" filter="url(#blur07)"/>
<circle cx="217.0" cy="264.4" r="3.2" fill="none" stroke="#3050b0" stroke-width="1.5" opacity="0.3" filter="url(#blur07)"/>
<circle cx="219.1" cy="269.1" r="3.2" fill="none" stroke="#3050b0" stroke-width="1.5" opacity="0.3" filter="url(#blur07)"/>
<circle cx="221.2" cy="273.9" r="3.2" fill="none" stroke="#3050b0" stroke-width="1.5" opacity="0.3" filter="url(#blur07)"/>
<circle cx="205.6" cy="246.2" r="3.2" fill="none" stroke="#3050b0" stroke-width="1.5" opacity="0.3" filter="url(#blur07)"/>
<circle cx="203.6" cy="251.0" r="3.2" fill="none" stroke="#3050b0" stroke-width="1.5" opacity="0.3" filter="url(#blur07)"/>
<circle cx="198.5" cy="253.0" r="3.2" fill="none" stroke="#3050b0" stroke-width="1.5" opacity="0.3" filter="url(#blur07)"/>
<circle cx="197.8" cy="258.2" r="3.2" fill="none" stroke="#3050b0" stroke-width="1.5" opacity="0.3" filter="url(#blur07)"/>
<circle cx="197.1" cy="263.3" r="3.2" fill="none" stroke="#3050b0" stroke-width="1.5" opacity="0.3" filter="url(#blur07)"/>
<circle cx="238.2" cy="267.4" r="3.2" fill="none" stroke="#3050b0" stroke-width="1.5" opacity="0.3" filter="url(#blur07)"/>
<circle cx="236.7" cy="272.4" r="3.2" fill="none" stroke="#3050b0" stroke-width="1.5" opacity="0.3" filter="url(#blur07)"/>
<circle cx="199.5" cy="270.2" r="3.2" fill="none" stroke="#3050b0" stroke-width="1.5" opacity="0.3" filter="url(#blur07)"/>
<circle cx="198.9" cy="275.3" r="3.2" fill="none" stroke="#3050b0" stroke-width="1.5" opacity="0.3" filter="url(#blur07)"/>
<ellipse cx="205.0" cy="268.8" rx="3.4" ry="2.4" fill="#2f5ac0" opacity="0.5" filter="url(#blur1)"/>
<ellipse cx="206.3" cy="273.8" rx="3.4" ry="2.4" fill="#2f5ac0" opacity="0.5" filter="url(#blur1)"/>
<ellipse cx="208.2" cy="278.5" rx="3.4" ry="2.4" fill="#2f5ac0" opacity="0.5" filter="url(#blur1)"/>
<ellipse cx="232.6" cy="253.0" rx="3.4" ry="2.4" fill="#2f5ac0" opacity="0.5" filter="url(#blur1)"/>
<ellipse cx="231.7" cy="257.9" rx="3.4" ry="2.4" fill="#2f5ac0" opacity="0.5" filter="url(#blur1)"/>
<ellipse cx="231.3" cy="262.7" rx="3.4" ry="2.4" fill="#2f5ac0" opacity="0.5" filter="url(#blur1)"/>
<ellipse cx="217.5" cy="261.8" rx="3.4" ry="2.4" fill="#2f5ac0" opacity="0.5" filter="url(#blur1)"/>
<ellipse cx="218.0" cy="266.8" rx="3.4" ry="2.4" fill="#2f5ac0" opacity="0.5" filter="url(#blur1)"/>
<ellipse cx="220.1" cy="271.5" rx="3.4" ry="2.4" fill="#2f5ac0" opacity="0.5" filter="url(#blur1)"/>
<ellipse cx="204.6" cy="248.6" rx="3.4" ry="2.4" fill="#2f5ac0" opacity="0.5" filter="url(#blur1)"/>
<ellipse cx="198.1" cy="255.6" rx="3.4" ry="2.4" fill="#2f5ac0" opacity="0.5" filter="url(#blur1)"/>
<ellipse cx="197.4" cy="260.8" rx="3.4" ry="2.4" fill="#2f5ac0" opacity="0.5" filter="url(#blur1)"/>
<ellipse cx="237.4" cy="269.9" rx="3.4" ry="2.4" fill="#2f5ac0" opacity="0.5" filter="url(#blur1)"/>
<ellipse cx="199.2" cy="272.7" rx="3.4" ry="2.4" fill="#2f5ac0" opacity="0.5" filter="url(#blur1)"/>
<circle cx="204.0" cy="266.3" r="2.5" fill="#2c0745" stroke="#80183c" stroke-width="0.8" opacity="0.9"/>
<circle cx="205.9" cy="271.2" r="2.5" fill="#2c0745" stroke="#80183c" stroke-width="0.8" opacity="0.9"/>
<circle cx="206.7" cy="276.3" r="2.5" fill="#2c0745" stroke="#80183c" stroke-width="0.8" opacity="0.9"/>
<circle cx="209.6" cy="280.6" r="2.5" fill="#2c0745" stroke="#80183c" stroke-width="0.8" opacity="0.9"/>
<circle cx="232.3" cy="250.4" r="2.5" fill="#2c0745" stroke="#80183c" stroke-width="0.8" opacity="0.9"/>
<circle cx="232.8" cy="255.6" r="2.5" fill="#2c0745" stroke="#80183c" stroke-width="0.8" opacity="0.9"/>
<circle cx="230.5" cy="260.2" r="2.5" fill="#2c0745" stroke="#80183c" stroke-width="0.8" opacity="0.9"/>
<circle cx="232.1" cy="265.2" r="2.5" fill="#2c0745" stroke="#80183c" stroke-width="0.8" opacity="0.9"/>
<circle cx="218.0" cy="259.3" r="2.5" fill="#2c0745" stroke="#80183c" stroke-width="0.8" opacity="0.9"/>
<circle cx="217.0" cy="264.4" r="2.5" fill="#2c0745" stroke="#80183c" stroke-width="0.8" opacity="0.9"/>
<circle cx="219.1" cy="269.1" r="2.5" fill="#2c0745" stroke="#80183c" stroke-width="0.8" opacity="0.9"/>
<circle cx="221.2" cy="273.9" r="2.5" fill="#2c0745" stroke="#80183c" stroke-width="0.8" opacity="0.9"/>
<circle cx="205.6" cy="246.2" r="2.5" fill="#2c0745" stroke="#80183c" stroke-width="0.8" opacity="0.9"/>
<circle cx="203.6" cy="251.0" r="2.5" fill="#2c0745" stroke="#80183c" stroke-width="0.8" opacity="0.9"/>
<circle cx="198.5" cy="253.0" r="2.5" fill="#2c0745" stroke="#80183c" stroke-width="0.8" opacity="0.9"/>
<circle cx="197.8" cy="258.2" r="2.5" fill="#2c0745" stroke="#80183c" stroke-width="0.8" opacity="0.9"/>
<circle cx="197.1" cy="263.3" r="2.5" fill="#2c0745" stroke="#80183c" stroke-width="0.8" opacity="0.9"/>
<circle cx="238.2" cy="267.4" r="2.5" fill="#2c0745" stroke="#80183c" stroke-width="0.8" opacity="0.9"/>
<circle cx="236.7" cy="272.4" r="2.5" fill="#2c0745" stroke="#80183c" stroke-width="0.8" opacity="0.9"/>
<circle cx="199.5" cy="270.2" r="2.5" fill="#2c0745" stroke="#80183c" stroke-width="0.8" opacity="0.9"/>
<circle cx="198.9" cy="275.3" r="2.5" fill="#2c0745" stroke="#80183c" stroke-width="0.8" opacity="0.9"/>
<circle cx="228.7" cy="286.7" r="2.4" fill="none" stroke="#7262a4" stroke-width="0.7" opacity="0.7"/>
<circle cx="240.7" cy="250.1" r="2.4" fill="none" stroke="#7262a4" stroke-width="0.7" opacity="0.7"/>
<circle cx="227.0" cy="280.8" r="2.4" fill="none" stroke="#7262a4" stroke-width="0.7" opacity="0.7"/>
<circle cx="235.9" cy="244.6" r="2.4" fill="none" stroke="#7262a4" stroke-width="0.7" opacity="0.7"/>
<circle cx="209.3" cy="251.0" r="2.4" fill="none" stroke="#7262a4" stroke-width="0.7" opacity="0.7"/>
<circle cx="225.1" cy="257.9" r="2.4" fill="none" stroke="#7262a4" stroke-width="0.7" opacity="0.7"/>
<circle cx="214.5" cy="246.7" r="2.4" fill="none" stroke="#7262a4" stroke-width="0.7" opacity="0.7"/>
<circle cx="218.4" cy="285.3" r="2.4" fill="none" stroke="#7262a4" stroke-width="0.7" opacity="0.7"/>
<circle cx="212.8" cy="270.3" r="2.4" fill="none" stroke="#7262a4" stroke-width="0.7" opacity="0.7"/>
<circle cx="219.0" cy="251.3" r="2.4" fill="none" stroke="#7262a4" stroke-width="0.7" opacity="0.7"/>
<circle cx="222.1" cy="245.0" r="2.4" fill="none" stroke="#7262a4" stroke-width="0.7" opacity="0.7"/>
<circle cx="204.2" cy="283.6" r="2.4" fill="none" stroke="#7262a4" stroke-width="0.7" opacity="0.7"/>
<ellipse cx="205.0" cy="268.8" rx="1.7" ry="0.8" fill="#d8e030" opacity="0.95"/>
<ellipse cx="206.3" cy="273.8" rx="1.7" ry="0.8" fill="#7ad050" opacity="0.95"/>
<ellipse cx="208.2" cy="278.5" rx="1.7" ry="0.8" fill="#40c0a0" opacity="0.95"/>
<ellipse cx="232.6" cy="253.0" rx="1.7" ry="0.8" fill="#d8e030" opacity="0.95"/>
<ellipse cx="231.7" cy="257.9" rx="1.7" ry="0.8" fill="#7ad050" opacity="0.95"/>
</g>
<text x="218.40" y="285.30" font-size="13.6" text-anchor="middle" fill="#fff" >2.51</text>
<g clip-path="url(#clipTV4)">
<rect x="244.1" y="239.3" width="49.3" height="49.1" fill="#2c0745"/>
<circle cx="280.3" cy="251.5" r="3.2" fill="none" stroke="#3050b0" stroke-width="1.5" opacity="0.3" filter="url(#blur07)"/>
<circle cx="280.4" cy="256.7" r="3.2" fill="none" stroke="#3050b0" stroke-width="1.5" opacity="0.3" filter="url(#blur07)"/>
<circle cx="270.0" cy="247.7" r="3.2" fill="none" stroke="#3050b0" stroke-width="1.5" opacity="0.3" filter="url(#blur07)"/>
<circle cx="271.0" cy="252.8" r="3.2" fill="none" stroke="#3050b0" stroke-width="1.5" opacity="0.3" filter="url(#blur07)"/>
<circle cx="270.0" cy="257.9" r="3.2" fill="none" stroke="#3050b0" stroke-width="1.5" opacity="0.3" filter="url(#blur07)"/>
<circle cx="264.2" cy="265.8" r="3.2" fill="none" stroke="#3050b0" stroke-width="1.5" opacity="0.3" filter="url(#blur07)"/>
<circle cx="266.8" cy="270.3" r="3.2" fill="none" stroke="#3050b0" stroke-width="1.5" opacity="0.3" filter="url(#blur07)"/>
<circle cx="268.1" cy="275.3" r="3.2" fill="none" stroke="#3050b0" stroke-width="1.5" opacity="0.3" filter="url(#blur07)"/>
<circle cx="261.0" cy="255.9" r="3.2" fill="none" stroke="#3050b0" stroke-width="1.5" opacity="0.3" filter="url(#blur07)"/>
<circle cx="262.4" cy="260.9" r="3.2" fill="none" stroke="#3050b0" stroke-width="1.5" opacity="0.3" filter="url(#blur07)"/>
<circle cx="250.0" cy="263.7" r="3.2" fill="none" stroke="#3050b0" stroke-width="1.5" opacity="0.3" filter="url(#blur07)"/>
<circle cx="249.4" cy="268.8" r="3.2" fill="none" stroke="#3050b0" stroke-width="1.5" opacity="0.3" filter="url(#blur07)"/>
<circle cx="255.8" cy="269.0" r="3.2" fill="none" stroke="#3050b0" stroke-width="1.5" opacity="0.3" filter="url(#blur07)"/>
<circle cx="256.3" cy="274.2" r="3.2" fill="none" stroke="#3050b0" stroke-width="1.5" opacity="0.3" filter="url(#blur07)"/>
<circle cx="258.1" cy="279.1" r="3.2" fill="none" stroke="#3050b0" stroke-width="1.5" opacity="0.3" filter="url(#blur07)"/>
<circle cx="257.1" cy="248.5" r="3.2" fill="none" stroke="#3050b0" stroke-width="1.5" opacity="0.3" filter="url(#blur07)"/>
<circle cx="254.3" cy="252.9" r="3.2" fill="none" stroke="#3050b0" stroke-width="1.5" opacity="0.3" filter="url(#blur07)"/>
<circle cx="285.2" cy="247.4" r="3.2" fill="none" stroke="#3050b0" stroke-width="1.5" opacity="0.3" filter="url(#blur07)"/>
<circle cx="286.0" cy="252.5" r="3.2" fill="none" stroke="#3050b0" stroke-width="1.5" opacity="0.3" filter="url(#blur07)"/>
<circle cx="288.2" cy="257.2" r="3.2" fill="none" stroke="#3050b0" stroke-width="1.5" opacity="0.3" filter="url(#blur07)"/>
<circle cx="289.0" cy="262.4" r="3.2" fill="none" stroke="#3050b0" stroke-width="1.5" opacity="0.3" filter="url(#blur07)"/>
<ellipse cx="280.4" cy="254.1" rx="3.4" ry="2.4" fill="#2f5ac0" opacity="0.5" filter="url(#blur1)"/>
<ellipse cx="270.5" cy="250.2" rx="3.4" ry="2.4" fill="#2f5ac0" opacity="0.5" filter="url(#blur1)"/>
<ellipse cx="270.5" cy="255.3" rx="3.4" ry="2.4" fill="#2f5ac0" opacity="0.5" filter="url(#blur1)"/>
<ellipse cx="265.5" cy="268.1" rx="3.4" ry="2.4" fill="#2f5ac0" opacity="0.5" filter="url(#blur1)"/>
<ellipse cx="267.5" cy="272.8" rx="3.4" ry="2.4" fill="#2f5ac0" opacity="0.5" filter="url(#blur1)"/>
<ellipse cx="261.7" cy="258.4" rx="3.4" ry="2.4" fill="#2f5ac0" opacity="0.5" filter="url(#blur1)"/>
<ellipse cx="249.7" cy="266.2" rx="3.4" ry="2.4" fill="#2f5ac0" opacity="0.5" filter="url(#blur1)"/>
<ellipse cx="256.0" cy="271.6" rx="3.4" ry="2.4" fill="#2f5ac0" opacity="0.5" filter="url(#blur1)"/>
<ellipse cx="257.2" cy="276.6" rx="3.4" ry="2.4" fill="#2f5ac0" opacity="0.5" filter="url(#blur1)"/>
<ellipse cx="255.7" cy="250.7" rx="3.4" ry="2.4" fill="#2f5ac0" opacity="0.5" filter="url(#blur1)"/>
<ellipse cx="285.6" cy="249.9" rx="3.4" ry="2.4" fill="#2f5ac0" opacity="0.5" filter="url(#blur1)"/>
<ellipse cx="287.1" cy="254.9" rx="3.4" ry="2.4" fill="#2f5ac0" opacity="0.5" filter="url(#blur1)"/>
<ellipse cx="288.6" cy="259.8" rx="3.4" ry="2.4" fill="#2f5ac0" opacity="0.5" filter="url(#blur1)"/>
<circle cx="280.3" cy="251.5" r="2.5" fill="#2c0745" stroke="#80183c" stroke-width="0.8" opacity="0.9"/>
<circle cx="280.4" cy="256.7" r="2.5" fill="#2c0745" stroke="#80183c" stroke-width="0.8" opacity="0.9"/>
<circle cx="270.0" cy="247.7" r="2.5" fill="#2c0745" stroke="#80183c" stroke-width="0.8" opacity="0.9"/>
<circle cx="271.0" cy="252.8" r="2.5" fill="#2c0745" stroke="#80183c" stroke-width="0.8" opacity="0.9"/>
<circle cx="270.0" cy="257.9" r="2.5" fill="#2c0745" stroke="#80183c" stroke-width="0.8" opacity="0.9"/>
<circle cx="264.2" cy="265.8" r="2.5" fill="#2c0745" stroke="#80183c" stroke-width="0.8" opacity="0.9"/>
<circle cx="266.8" cy="270.3" r="2.5" fill="#2c0745" stroke="#80183c" stroke-width="0.8" opacity="0.9"/>
<circle cx="268.1" cy="275.3" r="2.5" fill="#2c0745" stroke="#80183c" stroke-width="0.8" opacity="0.9"/>
<circle cx="261.0" cy="255.9" r="2.5" fill="#2c0745" stroke="#80183c" stroke-width="0.8" opacity="0.9"/>
<circle cx="262.4" cy="260.9" r="2.5" fill="#2c0745" stroke="#80183c" stroke-width="0.8" opacity="0.9"/>
<circle cx="250.0" cy="263.7" r="2.5" fill="#2c0745" stroke="#80183c" stroke-width="0.8" opacity="0.9"/>
<circle cx="249.4" cy="268.8" r="2.5" fill="#2c0745" stroke="#80183c" stroke-width="0.8" opacity="0.9"/>
<circle cx="255.8" cy="269.0" r="2.5" fill="#2c0745" stroke="#80183c" stroke-width="0.8" opacity="0.9"/>
<circle cx="256.3" cy="274.2" r="2.5" fill="#2c0745" stroke="#80183c" stroke-width="0.8" opacity="0.9"/>
<circle cx="258.1" cy="279.1" r="2.5" fill="#2c0745" stroke="#80183c" stroke-width="0.8" opacity="0.9"/>
<circle cx="257.1" cy="248.5" r="2.5" fill="#2c0745" stroke="#80183c" stroke-width="0.8" opacity="0.9"/>
<circle cx="254.3" cy="252.9" r="2.5" fill="#2c0745" stroke="#80183c" stroke-width="0.8" opacity="0.9"/>
<circle cx="285.2" cy="247.4" r="2.5" fill="#2c0745" stroke="#80183c" stroke-width="0.8" opacity="0.9"/>
<circle cx="286.0" cy="252.5" r="2.5" fill="#2c0745" stroke="#80183c" stroke-width="0.8" opacity="0.9"/>
<circle cx="288.2" cy="257.2" r="2.5" fill="#2c0745" stroke="#80183c" stroke-width="0.8" opacity="0.9"/>
<circle cx="289.0" cy="262.4" r="2.5" fill="#2c0745" stroke="#80183c" stroke-width="0.8" opacity="0.9"/>
<circle cx="287.0" cy="271.0" r="2.4" fill="none" stroke="#7262a4" stroke-width="0.7" opacity="0.7"/>
<circle cx="277.7" cy="274.8" r="2.4" fill="none" stroke="#7262a4" stroke-width="0.7" opacity="0.7"/>
<circle cx="249.7" cy="243.7" r="2.4" fill="none" stroke="#7262a4" stroke-width="0.7" opacity="0.7"/>
<circle cx="290.7" cy="276.3" r="2.4" fill="none" stroke="#7262a4" stroke-width="0.7" opacity="0.7"/>
<circle cx="247.2" cy="250.7" r="2.4" fill="none" stroke="#7262a4" stroke-width="0.7" opacity="0.7"/>
<circle cx="263.2" cy="249.7" r="2.4" fill="none" stroke="#7262a4" stroke-width="0.7" opacity="0.7"/>
<circle cx="272.5" cy="271.0" r="2.4" fill="none" stroke="#7262a4" stroke-width="0.7" opacity="0.7"/>
<circle cx="280.8" cy="284.7" r="2.4" fill="none" stroke="#7262a4" stroke-width="0.7" opacity="0.7"/>
<circle cx="267.1" cy="282.7" r="2.4" fill="none" stroke="#7262a4" stroke-width="0.7" opacity="0.7"/>
<circle cx="250.3" cy="277.5" r="2.4" fill="none" stroke="#7262a4" stroke-width="0.7" opacity="0.7"/>
<circle cx="253.4" cy="285.5" r="2.4" fill="none" stroke="#7262a4" stroke-width="0.7" opacity="0.7"/>
<ellipse cx="280.4" cy="254.1" rx="1.7" ry="0.8" fill="#d8e030" opacity="0.95"/>
<ellipse cx="270.5" cy="250.2" rx="1.7" ry="0.8" fill="#7ad050" opacity="0.95"/>
<ellipse cx="270.5" cy="255.3" rx="1.7" ry="0.8" fill="#40c0a0" opacity="0.95"/>
<ellipse cx="265.5" cy="268.1" rx="1.7" ry="0.8" fill="#d8e030" opacity="0.95"/>
<ellipse cx="267.5" cy="272.8" rx="1.7" ry="0.8" fill="#7ad050" opacity="0.95"/>
<ellipse cx="261.7" cy="258.4" rx="1.7" ry="0.8" fill="#40c0a0" opacity="0.95"/>
</g>
<text x="268.75" y="285.30" font-size="13.6" text-anchor="middle" fill="#fff" >4.21</text>
<rect x="80" y="239.3" width="2.2" height="49.1" fill="#c8c8c8"/>
<rect x="192.9" y="239.3" width="1.1" height="49.1" fill="#c8c8c8"/>
<rect x="242.8" y="239.3" width="1.3" height="49.1" fill="#c8c8c8"/>
<text x="32.70" y="251.20" font-size="12.9" text-anchor="start" fill="#fff" >(top view)</text>
<line x1="100.8" y1="220.5" x2="103.2" y2="241" stroke="#d4d4d4" stroke-width="1.8"/>
<path d="M104,248.3 L99.6,240.3 L107,239.6 Z" fill="#d4d4d4"/>
<line x1="214.5" y1="214.5" x2="214.5" y2="242" stroke="#f47c7c" stroke-width="1.7"/>
<path d="M214.5,250 L210.3,241.5 L218.7,241.5 Z" fill="#f47c7c"/>
<rect x="17" y="257" width="9.9" height="18.2" fill="url(#vir_v)"/>
<text x="14.60" y="253.20" font-size="13" text-anchor="start" fill="#000" >10</text>
<text x="18.80" y="287.80" font-size="13" text-anchor="start" fill="#000" >1</text>
<text transform="translate(10.6,282.4) rotate(-90)" font-size="13.6" style="font-family:'Liberation Serif',serif" font-style="italic" textLength="31" lengthAdjust="spacing">|E/E<tspan font-size="9.5" dy="2">0</tspan><tspan dy="-2">|</tspan></text>
<text x="110.0" y="302.0" font-size="14" style="font-family:'Liberation Serif',serif" font-style="italic" stroke="#000" stroke-width="0.1">R</text>
<text x="118.4" y="304.3" font-size="11.5" style="font-family:'Liberation Serif',serif" font-style="italic" textLength="55.5" lengthAdjust="spacing" stroke="#000" stroke-width="0.15">oligo/mono</text>
<line x1="248" y1="292.8" x2="290.5" y2="292.8" stroke="#000" stroke-width="1.1"/>
<path d="M245,292.8 L251.5,289.8 L251.5,295.8 Z M293.4,292.8 L286.9,289.8 L286.9,295.8 Z" fill="#000"/>
<text x="267.50" y="307.60" font-size="13" text-anchor="middle" fill="#000" >500 nm</text>
<text x="317.00" y="27.80" font-size="15.5" text-anchor="start" fill="#000" font-weight="bold">C</text>
<rect x="362.5" y="18.5" width="129.3" height="52.5" fill="none" stroke="#333" stroke-width="1.1"/>
<rect x="362.5" y="74.4" width="129.3" height="52" fill="none" stroke="#333" stroke-width="1.1"/>
<line x1="381.0" y1="71" x2="381.0" y2="67.5" stroke="#333" stroke-width="1.1"/>
<line x1="399.4" y1="71" x2="399.4" y2="64.5" stroke="#333" stroke-width="1.1"/>
<line x1="417.9" y1="71" x2="417.9" y2="67.5" stroke="#333" stroke-width="1.1"/>
<line x1="436.4" y1="71" x2="436.4" y2="64.5" stroke="#333" stroke-width="1.1"/>
<line x1="454.9" y1="71" x2="454.9" y2="67.5" stroke="#333" stroke-width="1.1"/>
<line x1="473.3" y1="71" x2="473.3" y2="64.5" stroke="#333" stroke-width="1.1"/>
<line x1="381.0" y1="126.4" x2="381.0" y2="122.9" stroke="#333" stroke-width="1.1"/>
<line x1="399.4" y1="126.4" x2="399.4" y2="119.9" stroke="#333" stroke-width="1.1"/>
<line x1="417.9" y1="126.4" x2="417.9" y2="122.9" stroke="#333" stroke-width="1.1"/>
<line x1="436.4" y1="126.4" x2="436.4" y2="119.9" stroke="#333" stroke-width="1.1"/>
<line x1="454.9" y1="126.4" x2="454.9" y2="122.9" stroke="#333" stroke-width="1.1"/>
<line x1="473.3" y1="126.4" x2="473.3" y2="119.9" stroke="#333" stroke-width="1.1"/>
<line x1="362.5" y1="44.8" x2="369.0" y2="44.8" stroke="#333" stroke-width="1.1"/>
<line x1="362.5" y1="100.4" x2="369.0" y2="100.4" stroke="#333" stroke-width="1.1"/>
<text x="358.30" y="27.60" font-size="13" text-anchor="end" fill="#000" >100</text>
<text x="358.30" y="49.40" font-size="13" text-anchor="end" fill="#000" >50</text>
<text x="358.30" y="73.70" font-size="13" text-anchor="end" fill="#000" >0</text>
<text x="358.30" y="84.00" font-size="13" text-anchor="end" fill="#000" >100</text>
<text x="358.30" y="105.20" font-size="13" text-anchor="end" fill="#000" >50</text>
<text x="358.30" y="131.60" font-size="13" text-anchor="end" fill="#000" >0</text>
<text x="362.50" y="142.00" font-size="13" text-anchor="middle" fill="#000" >400</text>
<text x="399.44" y="142.00" font-size="13" text-anchor="middle" fill="#000" >500</text>
<text x="436.39" y="142.00" font-size="13" text-anchor="middle" fill="#000" >600</text>
<text x="473.33" y="142.00" font-size="13" text-anchor="middle" fill="#000" >700</text>
<text x="426.50" y="156.20" font-size="13.3" text-anchor="middle" fill="#000" >Wavelength (nm)</text>
<text transform="translate(329.3,83.2) rotate(-90)" font-size="13.3" text-anchor="middle">Reflection, <tspan font-style="italic">R</tspan> (%)</text>
<text x="368.3" y="30.8" font-size="14" style="font-family:'Liberation Serif',serif" font-style="italic" stroke="#000" stroke-width="0.1">R</text>
<text x="376.7" y="33.1" font-size="11.5" style="font-family:'Liberation Serif',serif" font-style="italic" textLength="55.5" lengthAdjust="spacing" stroke="#000" stroke-width="0.15">oligo/mono</text>
<text x="437.4" y="33.0" font-size="17" style="font-family:'Liberation Serif',serif">&gt;</text>
<text x="451.0" y="30.8" font-size="13.2" style="font-family:'Liberation Serif',serif">1</text>
<text x="368.3" y="86.8" font-size="14" style="font-family:'Liberation Serif',serif" font-style="italic" stroke="#000" stroke-width="0.1">R</text>
<text x="376.7" y="89.1" font-size="11.5" style="font-family:'Liberation Serif',serif" font-style="italic" textLength="55.5" lengthAdjust="spacing" stroke="#000" stroke-width="0.15">oligo/mono</text>
<text x="437.4" y="89.0" font-size="17" style="font-family:'Liberation Serif',serif">&lt;</text>
<text x="451.0" y="86.8" font-size="13.2" style="font-family:'Liberation Serif',serif">1</text>
<path d="M362.50,62.34 C362.81,62.32 363.73,62.27 364.35,62.22 C364.96,62.17 365.58,62.11 366.19,62.04 C366.81,61.98 367.43,61.90 368.04,61.83 C368.66,61.76 369.27,61.68 369.89,61.61 C370.50,61.53 371.12,61.46 371.74,61.39 C372.35,61.33 372.97,61.26 373.58,61.21 C374.20,61.16 374.81,61.11 375.43,61.08 C376.05,61.05 376.66,61.03 377.28,61.02 C377.89,61.02 378.51,61.03 379.12,61.05 C379.74,61.07 380.36,61.11 380.97,61.15 C381.59,61.18 382.20,61.23 382.82,61.29 C383.43,61.34 384.05,61.40 384.67,61.46 C385.28,61.51 385.90,61.58 386.51,61.64 C387.13,61.70 387.74,61.76 388.36,61.82 C388.98,61.88 389.59,61.93 390.21,61.98 C390.82,62.03 391.44,62.07 392.05,62.11 C392.67,62.14 393.29,62.17 393.90,62.18 C394.52,62.19 395.13,62.20 395.75,62.18 C396.36,62.16 396.98,62.12 397.60,62.03 C398.21,61.95 398.83,61.82 399.44,61.65 C400.06,61.49 400.67,61.28 401.29,61.02 C401.91,60.76 402.52,60.44 403.14,60.10 C403.75,59.76 404.37,59.38 404.98,58.98 C405.60,58.58 406.22,58.15 406.83,57.70 C407.45,57.25 408.06,56.78 408.68,56.30 C409.29,55.81 409.91,55.32 410.53,54.81 C411.14,54.30 411.76,53.79 412.37,53.23 C412.99,52.67 413.60,52.06 414.22,51.45 C414.84,50.84 415.45,50.19 416.07,49.57 C416.68,48.95 417.30,48.32 417.91,47.74 C418.53,47.16 419.15,46.61 419.76,46.10 C420.38,45.59 420.99,45.13 421.61,44.68 C422.22,44.23 422.84,43.80 423.46,43.39 C424.07,42.98 424.69,42.58 425.30,42.21 C425.92,41.83 426.53,41.47 427.15,41.12 C427.77,40.78 428.38,40.45 429.00,40.13 C429.61,39.82 430.23,39.52 430.84,39.23 C431.46,38.95 432.08,38.68 432.69,38.44 C433.31,38.19 433.92,37.96 434.54,37.76 C435.15,37.56 435.77,37.38 436.39,37.24 C437.00,37.09 437.62,36.97 438.23,36.88 C438.85,36.78 439.46,36.71 440.08,36.66 C440.70,36.60 441.31,36.56 441.93,36.53 C442.54,36.50 443.16,36.48 443.77,36.48 C444.39,36.47 445.01,36.47 445.62,36.48 C446.24,36.48 446.85,36.50 447.47,36.51 C448.08,36.53 448.70,36.55 449.32,36.56 C449.93,36.58 450.55,36.72 451.16,36.61 C451.78,36.51 452.39,36.01 453.01,35.92 C453.63,35.83 454.24,36.03 454.86,36.10 C455.47,36.17 456.09,36.25 456.70,36.33 C457.32,36.42 457.94,36.51 458.55,36.60 C459.17,36.70 459.78,36.79 460.40,36.88 C461.01,36.97 461.63,37.05 462.25,37.14 C462.86,37.22 463.48,37.29 464.09,37.37 C464.71,37.45 465.32,37.53 465.94,37.60 C466.56,37.68 467.17,37.75 467.79,37.81 C468.40,37.88 469.02,37.94 469.63,38.00 C470.25,38.06 470.87,38.11 471.48,38.15 C472.10,38.20 472.71,38.23 473.33,38.26 C473.94,38.28 474.56,38.30 475.18,38.30 C475.79,38.30 476.41,38.29 477.02,38.27 C477.64,38.25 478.25,38.22 478.87,38.19 C479.49,38.15 480.10,38.11 480.72,38.07 C481.33,38.03 481.95,37.99 482.56,37.95 C483.18,37.91 483.80,37.86 484.41,37.83 C485.03,37.80 485.64,37.78 486.26,37.77 C486.87,37.75 487.49,37.75 488.11,37.74 C488.72,37.73 489.34,37.72 489.95,37.70 C490.57,37.68 491.49,37.63 491.80,37.62" fill="none" stroke="#ff3030" stroke-width="1.7" opacity="0.85" clip-path="url(#clipC1)"/>
<path d="M362.50,61.94 C362.81,61.92 363.73,61.87 364.35,61.83 C364.96,61.78 365.58,61.71 366.19,61.65 C366.81,61.59 367.43,61.51 368.04,61.44 C368.66,61.37 369.27,61.29 369.89,61.21 C370.50,61.14 371.12,61.07 371.74,61.00 C372.35,60.93 372.97,60.87 373.58,60.82 C374.20,60.76 374.81,60.72 375.43,60.69 C376.05,60.65 376.66,60.64 377.28,60.63 C377.89,60.63 378.51,60.64 379.12,60.66 C379.74,60.68 380.36,60.71 380.97,60.75 C381.59,60.79 382.20,60.84 382.82,60.89 C383.43,60.94 384.05,61.00 384.67,61.06 C385.28,61.12 385.90,61.18 386.51,61.24 C387.13,61.30 387.74,61.37 388.36,61.42 C388.98,61.48 389.59,61.54 390.21,61.58 C390.82,61.63 391.44,61.68 392.05,61.71 C392.67,61.74 393.29,61.77 393.90,61.78 C394.52,61.80 395.13,61.80 395.75,61.79 C396.36,61.77 396.98,61.75 397.60,61.70 C398.21,61.64 398.83,61.57 399.44,61.47 C400.06,61.36 400.67,61.23 401.29,61.06 C401.91,60.89 402.52,60.68 403.14,60.43 C403.75,60.18 404.37,59.88 404.98,59.54 C405.60,59.20 406.22,58.81 406.83,58.40 C407.45,57.99 408.06,57.54 408.68,57.08 C409.29,56.62 409.91,56.12 410.53,55.63 C411.14,55.13 411.76,54.63 412.37,54.11 C412.99,53.59 413.60,53.07 414.22,52.50 C414.84,51.94 415.45,51.33 416.07,50.72 C416.68,50.11 417.30,49.48 417.91,48.87 C418.53,48.26 419.15,47.63 419.76,47.06 C420.38,46.48 420.99,45.93 421.61,45.41 C422.22,44.88 422.84,44.38 423.46,43.89 C424.07,43.39 424.69,42.90 425.30,42.42 C425.92,41.95 426.53,41.48 427.15,41.04 C427.77,40.60 428.38,40.17 429.00,39.78 C429.61,39.38 430.23,39.00 430.84,38.65 C431.46,38.31 432.08,37.99 432.69,37.70 C433.31,37.42 433.92,37.16 434.54,36.92 C435.15,36.69 435.77,36.49 436.39,36.31 C437.00,36.13 437.62,35.97 438.23,35.84 C438.85,35.70 439.46,35.60 440.08,35.51 C440.70,35.42 441.31,35.35 441.93,35.30 C442.54,35.25 443.16,35.22 443.77,35.20 C444.39,35.18 445.01,35.17 445.62,35.17 C446.24,35.17 446.85,35.18 447.47,35.20 C448.08,35.21 448.70,35.23 449.32,35.25 C449.93,35.27 450.55,35.32 451.16,35.30 C451.78,35.28 452.39,35.10 453.01,35.11 C453.63,35.13 454.24,35.29 454.86,35.39 C455.47,35.49 456.09,35.60 456.70,35.71 C457.32,35.81 457.94,35.92 458.55,36.03 C459.17,36.13 459.78,36.23 460.40,36.32 C461.01,36.41 461.63,36.50 462.25,36.57 C462.86,36.64 463.48,36.71 464.09,36.77 C464.71,36.83 465.32,36.88 465.94,36.93 C466.56,36.98 467.17,37.02 467.79,37.05 C468.40,37.08 469.02,37.11 469.63,37.12 C470.25,37.14 470.87,37.15 471.48,37.14 C472.10,37.14 472.71,37.13 473.33,37.11 C473.94,37.08 474.56,37.04 475.18,37.00 C475.79,36.95 476.41,36.88 477.02,36.81 C477.64,36.75 478.25,36.67 478.87,36.59 C479.49,36.51 480.10,36.42 480.72,36.34 C481.33,36.26 481.95,36.17 482.56,36.10 C483.18,36.02 483.80,35.95 484.41,35.89 C485.03,35.83 485.64,35.79 486.26,35.75 C486.87,35.72 487.49,35.70 488.11,35.68 C488.72,35.66 489.34,35.65 489.95,35.63 C490.57,35.62 491.49,35.58 491.80,35.57" fill="none" stroke="#ee1010" stroke-width="1.7" opacity="0.85" clip-path="url(#clipC1)"/>
<path d="M362.50,62.57 C362.81,62.55 363.73,62.50 364.35,62.46 C364.96,62.41 365.58,62.34 366.19,62.28 C366.81,62.22 367.43,62.14 368.04,62.07 C368.66,62.00 369.27,61.92 369.89,61.84 C370.50,61.77 371.12,61.70 371.74,61.63 C372.35,61.56 372.97,61.50 373.58,61.45 C374.20,61.39 374.81,61.35 375.43,61.32 C376.05,61.28 376.66,61.27 377.28,61.26 C377.89,61.26 378.51,61.27 379.12,61.29 C379.74,61.31 380.36,61.34 380.97,61.38 C381.59,61.42 382.20,61.47 382.82,61.52 C383.43,61.58 384.05,61.63 384.67,61.69 C385.28,61.75 385.90,61.82 386.51,61.88 C387.13,61.94 387.74,62.00 388.36,62.06 C388.98,62.12 389.59,62.17 390.21,62.22 C390.82,62.27 391.44,62.31 392.05,62.35 C392.67,62.38 393.29,62.40 393.90,62.42 C394.52,62.43 395.13,62.45 395.75,62.42 C396.36,62.38 396.98,62.32 397.60,62.19 C398.21,62.06 398.83,61.86 399.44,61.62 C400.06,61.38 400.67,61.07 401.29,60.74 C401.91,60.41 402.52,60.03 403.14,59.64 C403.75,59.25 404.37,58.84 404.98,58.41 C405.60,57.99 406.22,57.54 406.83,57.07 C407.45,56.61 408.06,56.13 408.68,55.64 C409.29,55.15 409.91,54.66 410.53,54.12 C411.14,53.58 411.76,53.00 412.37,52.40 C412.99,51.80 413.60,51.15 414.22,50.53 C414.84,49.91 415.45,49.26 416.07,48.66 C416.68,48.06 417.30,47.46 417.91,46.93 C418.53,46.41 419.15,45.94 419.76,45.49 C420.38,45.05 420.99,44.64 421.61,44.25 C422.22,43.86 422.84,43.50 423.46,43.15 C424.07,42.80 424.69,42.48 425.30,42.16 C425.92,41.84 426.53,41.54 427.15,41.24 C427.77,40.95 428.38,40.66 429.00,40.38 C429.61,40.10 430.23,39.82 430.84,39.56 C431.46,39.30 432.08,39.05 432.69,38.83 C433.31,38.61 433.92,38.40 434.54,38.22 C435.15,38.05 435.77,37.90 436.39,37.78 C437.00,37.67 437.62,37.59 438.23,37.52 C438.85,37.46 439.46,37.41 440.08,37.36 C440.70,37.32 441.31,37.30 441.93,37.28 C442.54,37.26 443.16,37.25 443.77,37.25 C444.39,37.25 445.01,37.25 445.62,37.26 C446.24,37.27 446.85,37.29 447.47,37.30 C448.08,37.32 448.70,37.34 449.32,37.35 C449.93,37.37 450.55,37.30 451.16,37.40 C451.78,37.50 452.39,37.82 453.01,37.95 C453.63,38.09 454.24,38.11 454.86,38.20 C455.47,38.28 456.09,38.36 456.70,38.44 C457.32,38.52 457.94,38.60 458.55,38.67 C459.17,38.74 459.78,38.81 460.40,38.86 C461.01,38.91 461.63,38.94 462.25,38.97 C462.86,39.00 463.48,39.01 464.09,39.03 C464.71,39.04 465.32,39.04 465.94,39.04 C466.56,39.04 467.17,39.03 467.79,39.01 C468.40,38.99 469.02,38.97 469.63,38.94 C470.25,38.91 470.87,38.87 471.48,38.82 C472.10,38.78 472.71,38.73 473.33,38.67 C473.94,38.61 474.56,38.54 475.18,38.46 C475.79,38.39 476.41,38.30 477.02,38.21 C477.64,38.13 478.25,38.03 478.87,37.95 C479.49,37.86 480.10,37.77 480.72,37.69 C481.33,37.60 481.95,37.53 482.56,37.46 C483.18,37.40 483.80,37.34 484.41,37.30 C485.03,37.26 485.64,37.24 486.26,37.24 C486.87,37.23 487.49,37.25 488.11,37.26 C488.72,37.28 489.34,37.31 489.95,37.34 C490.57,37.36 491.49,37.40 491.80,37.41" fill="none" stroke="#ff5050" stroke-width="1.7" opacity="0.85" clip-path="url(#clipC1)"/>
<path d="M362.50,62.73 C362.81,62.71 363.73,62.66 364.35,62.61 C364.96,62.56 365.58,62.50 366.19,62.44 C366.81,62.37 367.43,62.30 368.04,62.23 C368.66,62.15 369.27,62.07 369.89,62.00 C370.50,61.93 371.12,61.85 371.74,61.79 C372.35,61.72 372.97,61.66 373.58,61.60 C374.20,61.55 374.81,61.50 375.43,61.47 C376.05,61.44 376.66,61.42 377.28,61.42 C377.89,61.41 378.51,61.43 379.12,61.45 C379.74,61.47 380.36,61.50 380.97,61.54 C381.59,61.58 382.20,61.63 382.82,61.68 C383.43,61.73 384.05,61.79 384.67,61.85 C385.28,61.91 385.90,61.97 386.51,62.03 C387.13,62.09 387.74,62.15 388.36,62.21 C388.98,62.27 389.59,62.32 390.21,62.37 C390.82,62.42 391.44,62.46 392.05,62.50 C392.67,62.53 393.29,62.56 393.90,62.57 C394.52,62.58 395.13,62.59 395.75,62.57 C396.36,62.56 396.98,62.54 397.60,62.49 C398.21,62.45 398.83,62.39 399.44,62.29 C400.06,62.20 400.67,62.08 401.29,61.93 C401.91,61.77 402.52,61.59 403.14,61.35 C403.75,61.12 404.37,60.85 404.98,60.53 C405.60,60.21 406.22,59.84 406.83,59.45 C407.45,59.05 408.06,58.61 408.68,58.15 C409.29,57.70 409.91,57.21 410.53,56.72 C411.14,56.23 411.76,55.72 412.37,55.21 C412.99,54.69 413.60,54.18 414.22,53.62 C414.84,53.05 415.45,52.43 416.07,51.81 C416.68,51.19 417.30,50.53 417.91,49.91 C418.53,49.28 419.15,48.65 419.76,48.07 C420.38,47.50 420.99,46.96 421.61,46.47 C422.22,45.99 422.84,45.58 423.46,45.18 C424.07,44.78 424.69,44.42 425.30,44.07 C425.92,43.72 426.53,43.41 427.15,43.10 C427.77,42.79 428.38,42.51 429.00,42.23 C429.61,41.94 430.23,41.67 430.84,41.40 C431.46,41.13 432.08,40.85 432.69,40.59 C433.31,40.33 433.92,40.06 434.54,39.82 C435.15,39.58 435.77,39.35 436.39,39.14 C437.00,38.93 437.62,38.74 438.23,38.58 C438.85,38.42 439.46,38.29 440.08,38.19 C440.70,38.08 441.31,38.01 441.93,37.96 C442.54,37.90 443.16,37.86 443.77,37.84 C444.39,37.81 445.01,37.80 445.62,37.80 C446.24,37.80 446.85,37.81 447.47,37.82 C448.08,37.83 448.70,37.86 449.32,37.87 C449.93,37.89 450.55,37.77 451.16,37.93 C451.78,38.08 452.39,38.63 453.01,38.79 C453.63,38.95 454.24,38.85 454.86,38.88 C455.47,38.92 456.09,38.95 456.70,38.98 C457.32,39.01 457.94,39.04 458.55,39.06 C459.17,39.08 459.78,39.09 460.40,39.10 C461.01,39.10 461.63,39.09 462.25,39.08 C462.86,39.07 463.48,39.04 464.09,39.02 C464.71,38.99 465.32,38.96 465.94,38.94 C466.56,38.91 467.17,38.87 467.79,38.84 C468.40,38.81 469.02,38.77 469.63,38.74 C470.25,38.71 470.87,38.68 471.48,38.66 C472.10,38.64 472.71,38.63 473.33,38.64 C473.94,38.66 474.56,38.67 475.18,38.75 C475.79,38.82 476.41,38.91 477.02,39.08 C477.64,39.26 478.25,39.48 478.87,39.77 C479.49,40.07 480.10,40.45 480.72,40.85 C481.33,41.25 481.95,41.75 482.56,42.20 C483.18,42.64 483.80,43.15 484.41,43.53 C485.03,43.90 485.64,44.27 486.26,44.47 C486.87,44.67 487.49,44.77 488.11,44.73 C488.72,44.69 489.34,44.49 489.95,44.23 C490.57,43.96 491.49,43.33 491.80,43.15" fill="none" stroke="#e80000" stroke-width="1.7" opacity="0.85" clip-path="url(#clipC1)"/>
<path d="M362.50,62.10 C362.81,62.08 363.73,62.03 364.35,61.98 C364.96,61.93 365.58,61.87 366.19,61.81 C366.81,61.74 367.43,61.67 368.04,61.60 C368.66,61.52 369.27,61.44 369.89,61.37 C370.50,61.30 371.12,61.22 371.74,61.16 C372.35,61.09 372.97,61.03 373.58,60.97 C374.20,60.92 374.81,60.87 375.43,60.84 C376.05,60.81 376.66,60.79 377.28,60.79 C377.89,60.78 378.51,60.80 379.12,60.82 C379.74,60.84 380.36,60.87 380.97,60.91 C381.59,60.95 382.20,61.00 382.82,61.05 C383.43,61.10 384.05,61.16 384.67,61.22 C385.28,61.28 385.90,61.35 386.51,61.41 C387.13,61.47 387.74,61.53 388.36,61.59 C388.98,61.64 389.59,61.70 390.21,61.75 C390.82,61.80 391.44,61.84 392.05,61.87 C392.67,61.91 393.29,61.93 393.90,61.94 C394.52,61.96 395.13,61.99 395.75,61.94 C396.36,61.90 396.98,61.83 397.60,61.68 C398.21,61.52 398.83,61.29 399.44,61.02 C400.06,60.75 400.67,60.40 401.29,60.05 C401.91,59.70 402.52,59.31 403.14,58.92 C403.75,58.52 404.37,58.10 404.98,57.67 C405.60,57.23 406.22,56.78 406.83,56.31 C407.45,55.85 408.06,55.37 408.68,54.87 C409.29,54.37 409.91,53.88 410.53,53.33 C411.14,52.78 411.76,52.19 412.37,51.59 C412.99,51.00 413.60,50.36 414.22,49.74 C414.84,49.13 415.45,48.49 416.07,47.90 C416.68,47.31 417.30,46.72 417.91,46.19 C418.53,45.65 419.15,45.16 419.76,44.68 C420.38,44.19 420.99,43.72 421.61,43.26 C422.22,42.80 422.84,42.35 423.46,41.92 C424.07,41.50 424.69,41.08 425.30,40.69 C425.92,40.30 426.53,39.93 427.15,39.58 C427.77,39.23 428.38,38.90 429.00,38.60 C429.61,38.29 430.23,38.01 430.84,37.76 C431.46,37.50 432.08,37.26 432.69,37.06 C433.31,36.85 433.92,36.67 434.54,36.52 C435.15,36.36 435.77,36.24 436.39,36.14 C437.00,36.04 437.62,35.98 438.23,35.91 C438.85,35.85 439.46,35.81 440.08,35.77 C440.70,35.73 441.31,35.71 441.93,35.69 C442.54,35.68 443.16,35.67 443.77,35.67 C444.39,35.67 445.01,35.68 445.62,35.69 C446.24,35.70 446.85,35.71 447.47,35.73 C448.08,35.74 448.70,35.76 449.32,35.78 C449.93,35.80 450.55,35.74 451.16,35.82 C451.78,35.91 452.39,36.19 453.01,36.26 C453.63,36.33 454.24,36.25 454.86,36.24 C455.47,36.24 456.09,36.25 456.70,36.25 C457.32,36.25 457.94,36.25 458.55,36.26 C459.17,36.26 459.78,36.26 460.40,36.25 C461.01,36.25 461.63,36.24 462.25,36.22 C462.86,36.21 463.48,36.19 464.09,36.18 C464.71,36.16 465.32,36.15 465.94,36.14 C466.56,36.13 467.17,36.12 467.79,36.12 C468.40,36.11 469.02,36.11 469.63,36.10 C470.25,36.10 470.87,36.10 471.48,36.10 C472.10,36.10 472.71,36.10 473.33,36.10 C473.94,36.09 474.56,36.09 475.18,36.08 C475.79,36.08 476.41,36.07 477.02,36.06 C477.64,36.05 478.25,36.04 478.87,36.04 C479.49,36.03 480.10,36.03 480.72,36.04 C481.33,36.05 481.95,36.06 482.56,36.08 C483.18,36.10 483.80,36.13 484.41,36.17 C485.03,36.22 485.64,36.28 486.26,36.35 C486.87,36.42 487.49,36.51 488.11,36.59 C488.72,36.67 489.34,36.76 489.95,36.84 C490.57,36.91 491.49,37.01 491.80,37.04" fill="none" stroke="#ff2020" stroke-width="1.7" opacity="0.85" clip-path="url(#clipC1)"/>
<path d="M362.50,61.79 C362.81,61.77 363.73,61.72 364.35,61.67 C364.96,61.62 365.58,61.56 366.19,61.49 C366.81,61.43 367.43,61.35 368.04,61.28 C368.66,61.21 369.27,61.13 369.89,61.06 C370.50,60.98 371.12,60.91 371.74,60.84 C372.35,60.78 372.97,60.71 373.58,60.66 C374.20,60.61 374.81,60.56 375.43,60.53 C376.05,60.50 376.66,60.48 377.28,60.47 C377.89,60.47 378.51,60.48 379.12,60.50 C379.74,60.52 380.36,60.56 380.97,60.59 C381.59,60.63 382.20,60.68 382.82,60.73 C383.43,60.79 384.05,60.84 384.67,60.90 C385.28,60.96 385.90,61.03 386.51,61.09 C387.13,61.15 387.74,61.21 388.36,61.27 C388.98,61.32 389.59,61.38 390.21,61.43 C390.82,61.48 391.44,61.52 392.05,61.55 C392.67,61.59 393.29,61.61 393.90,61.63 C394.52,61.64 395.13,61.65 395.75,61.63 C396.36,61.61 396.98,61.58 397.60,61.52 C398.21,61.45 398.83,61.36 399.44,61.22 C400.06,61.09 400.67,60.93 401.29,60.71 C401.91,60.50 402.52,60.25 403.14,59.95 C403.75,59.65 404.37,59.30 404.98,58.93 C405.60,58.55 406.22,58.14 406.83,57.71 C407.45,57.27 408.06,56.81 408.68,56.34 C409.29,55.86 409.91,55.37 410.53,54.87 C411.14,54.37 411.76,53.87 412.37,53.34 C412.99,52.80 413.60,52.24 414.22,51.66 C414.84,51.07 415.45,50.45 416.07,49.84 C416.68,49.23 417.30,48.60 417.91,48.00 C418.53,47.40 419.15,46.80 419.76,46.23 C420.38,45.67 420.99,45.15 421.61,44.62 C422.22,44.09 422.84,43.57 423.46,43.05 C424.07,42.54 424.69,42.03 425.30,41.54 C425.92,41.05 426.53,40.56 427.15,40.11 C427.77,39.66 428.38,39.22 429.00,38.82 C429.61,38.43 430.23,38.05 430.84,37.72 C431.46,37.39 432.08,37.09 432.69,36.82 C433.31,36.55 433.92,36.32 434.54,36.11 C435.15,35.90 435.77,35.72 436.39,35.56 C437.00,35.40 437.62,35.27 438.23,35.16 C438.85,35.05 439.46,34.96 440.08,34.89 C440.70,34.82 441.31,34.77 441.93,34.73 C442.54,34.69 443.16,34.67 443.77,34.65 C444.39,34.64 445.01,34.64 445.62,34.64 C446.24,34.65 446.85,34.66 447.47,34.67 C448.08,34.69 448.70,34.71 449.32,34.73 C449.93,34.74 450.55,34.82 451.16,34.77 C451.78,34.73 452.39,34.51 453.01,34.46 C453.63,34.41 454.24,34.45 454.86,34.46 C455.47,34.47 456.09,34.49 456.70,34.51 C457.32,34.53 457.94,34.56 458.55,34.59 C459.17,34.62 459.78,34.66 460.40,34.69 C461.01,34.72 461.63,34.75 462.25,34.78 C462.86,34.81 463.48,34.83 464.09,34.87 C464.71,34.90 465.32,34.94 465.94,34.98 C466.56,35.02 467.17,35.06 467.79,35.10 C468.40,35.15 469.02,35.19 469.63,35.24 C470.25,35.28 470.87,35.33 471.48,35.37 C472.10,35.42 472.71,35.46 473.33,35.50 C473.94,35.54 474.56,35.57 475.18,35.60 C475.79,35.63 476.41,35.64 477.02,35.66 C477.64,35.68 478.25,35.69 478.87,35.70 C479.49,35.72 480.10,35.73 480.72,35.74 C481.33,35.75 481.95,35.76 482.56,35.78 C483.18,35.80 483.80,35.82 484.41,35.85 C485.03,35.88 485.64,35.93 486.26,35.97 C486.87,36.02 487.49,36.08 488.11,36.13 C488.72,36.18 489.34,36.23 489.95,36.27 C490.57,36.31 491.49,36.34 491.80,36.35" fill="none" stroke="#f01818" stroke-width="1.7" opacity="0.85" clip-path="url(#clipC1)"/>
<path d="M362.50,62.73 C362.81,62.71 363.73,62.66 364.35,62.61 C364.96,62.56 365.58,62.50 366.19,62.44 C366.81,62.37 367.43,62.30 368.04,62.23 C368.66,62.15 369.27,62.07 369.89,62.00 C370.50,61.93 371.12,61.85 371.74,61.79 C372.35,61.72 372.97,61.66 373.58,61.60 C374.20,61.55 374.81,61.50 375.43,61.47 C376.05,61.44 376.66,61.42 377.28,61.42 C377.89,61.41 378.51,61.43 379.12,61.45 C379.74,61.47 380.36,61.50 380.97,61.54 C381.59,61.58 382.20,61.63 382.82,61.68 C383.43,61.73 384.05,61.79 384.67,61.85 C385.28,61.91 385.90,61.97 386.51,62.03 C387.13,62.10 387.74,62.16 388.36,62.22 C388.98,62.27 389.59,62.33 390.21,62.38 C390.82,62.42 391.44,62.47 392.05,62.50 C392.67,62.53 393.29,62.56 393.90,62.57 C394.52,62.58 395.13,62.60 395.75,62.57 C396.36,62.55 396.98,62.51 397.60,62.41 C398.21,62.31 398.83,62.16 399.44,61.97 C400.06,61.78 400.67,61.54 401.29,61.26 C401.91,60.98 402.52,60.63 403.14,60.28 C403.75,59.92 404.37,59.52 404.98,59.11 C405.60,58.70 406.22,58.26 406.83,57.81 C407.45,57.35 408.06,56.88 408.68,56.39 C409.29,55.91 409.91,55.42 410.53,54.90 C411.14,54.38 411.76,53.85 412.37,53.27 C412.99,52.69 413.60,52.05 414.22,51.43 C414.84,50.81 415.45,50.15 416.07,49.53 C416.68,48.91 417.30,48.29 417.91,47.73 C418.53,47.17 419.15,46.66 419.76,46.19 C420.38,45.73 420.99,45.33 421.61,44.94 C422.22,44.56 422.84,44.20 423.46,43.87 C424.07,43.53 424.69,43.22 425.30,42.92 C425.92,42.62 426.53,42.34 427.15,42.06 C427.77,41.78 428.38,41.51 429.00,41.24 C429.61,40.97 430.23,40.69 430.84,40.43 C431.46,40.17 432.08,39.90 432.69,39.66 C433.31,39.43 433.92,39.19 434.54,39.00 C435.15,38.80 435.77,38.61 436.39,38.47 C437.00,38.33 437.62,38.22 438.23,38.14 C438.85,38.05 439.46,37.99 440.08,37.94 C440.70,37.89 441.31,37.85 441.93,37.83 C442.54,37.80 443.16,37.79 443.77,37.78 C444.39,37.78 445.01,37.78 445.62,37.79 C446.24,37.80 446.85,37.81 447.47,37.83 C448.08,37.84 448.70,37.86 449.32,37.88 C449.93,37.89 450.55,38.04 451.16,37.92 C451.78,37.81 452.39,37.31 453.01,37.21 C453.63,37.12 454.24,37.29 454.86,37.35 C455.47,37.40 456.09,37.47 456.70,37.54 C457.32,37.61 457.94,37.70 458.55,37.78 C459.17,37.85 459.78,37.94 460.40,38.02 C461.01,38.10 461.63,38.18 462.25,38.25 C462.86,38.33 463.48,38.40 464.09,38.47 C464.71,38.54 465.32,38.62 465.94,38.69 C466.56,38.77 467.17,38.84 467.79,38.91 C468.40,38.97 469.02,39.04 469.63,39.10 C470.25,39.16 470.87,39.22 471.48,39.27 C472.10,39.32 472.71,39.37 473.33,39.40 C473.94,39.44 474.56,39.46 475.18,39.48 C475.79,39.49 476.41,39.49 477.02,39.48 C477.64,39.48 478.25,39.46 478.87,39.44 C479.49,39.42 480.10,39.40 480.72,39.37 C481.33,39.35 481.95,39.32 482.56,39.29 C483.18,39.27 483.80,39.24 484.41,39.22 C485.03,39.20 485.64,39.20 486.26,39.19 C486.87,39.19 487.49,39.20 488.11,39.20 C488.72,39.20 489.34,39.21 489.95,39.19 C490.57,39.18 491.49,39.14 491.80,39.14" fill="none" stroke="#ff4040" stroke-width="1.7" opacity="0.85" clip-path="url(#clipC1)"/>
<path d="M362.50,118.60 C362.81,118.60 363.73,118.61 364.35,118.62 C364.96,118.63 365.58,118.64 366.19,118.65 C366.81,118.66 367.43,118.67 368.04,118.68 C368.66,118.69 369.27,118.70 369.89,118.72 C370.50,118.73 371.12,118.74 371.74,118.76 C372.35,118.77 372.97,118.79 373.58,118.80 C374.20,118.82 374.81,118.83 375.43,118.85 C376.05,118.86 376.66,118.88 377.28,118.89 C377.89,118.91 378.51,118.92 379.12,118.94 C379.74,118.95 380.36,118.96 380.97,118.98 C381.59,118.99 382.20,119.00 382.82,119.02 C383.43,119.03 384.05,119.04 384.67,119.05 C385.28,119.06 385.90,119.07 386.51,119.08 C387.13,119.09 387.74,119.10 388.36,119.10 C388.98,119.11 389.59,119.11 390.21,119.12 C390.82,119.12 391.44,119.12 392.05,119.12 C392.67,119.12 393.29,119.13 393.90,119.12 C394.52,119.11 395.13,119.10 395.75,119.07 C396.36,119.03 396.98,118.99 397.60,118.92 C398.21,118.84 398.83,118.72 399.44,118.60 C400.06,118.48 400.67,118.32 401.29,118.18 C401.91,118.03 402.52,117.89 403.14,117.73 C403.75,117.57 404.37,117.40 404.98,117.22 C405.60,117.03 406.22,116.83 406.83,116.60 C407.45,116.38 408.06,116.14 408.68,115.86 C409.29,115.59 409.91,115.30 410.53,114.96 C411.14,114.62 411.76,114.24 412.37,113.83 C412.99,113.42 413.60,112.96 414.22,112.49 C414.84,112.03 415.45,111.53 416.07,111.03 C416.68,110.53 417.30,110.01 417.91,109.51 C418.53,109.01 419.15,108.50 419.76,108.02 C420.38,107.54 420.99,107.09 421.61,106.64 C422.22,106.19 422.84,105.75 423.46,105.30 C424.07,104.84 424.69,104.37 425.30,103.90 C425.92,103.43 426.53,102.96 427.15,102.49 C427.77,102.03 428.38,101.56 429.00,101.11 C429.61,100.66 430.23,100.22 430.84,99.81 C431.46,99.39 432.08,98.99 432.69,98.62 C433.31,98.25 433.92,97.90 434.54,97.59 C435.15,97.28 435.77,97.00 436.39,96.76 C437.00,96.52 437.62,96.31 438.23,96.13 C438.85,95.94 439.46,95.79 440.08,95.65 C440.70,95.51 441.31,95.39 441.93,95.29 C442.54,95.19 443.16,95.11 443.77,95.04 C444.39,94.97 445.01,94.92 445.62,94.88 C446.24,94.84 446.85,94.81 447.47,94.78 C448.08,94.76 448.70,94.74 449.32,94.73 C449.93,94.72 450.55,94.71 451.16,94.70 C451.78,94.69 452.39,94.67 453.01,94.68 C453.63,94.68 454.24,94.69 454.86,94.71 C455.47,94.73 456.09,94.77 456.70,94.82 C457.32,94.87 457.94,94.93 458.55,94.99 C459.17,95.06 459.78,95.13 460.40,95.20 C461.01,95.28 461.63,95.36 462.25,95.44 C462.86,95.52 463.48,95.60 464.09,95.68 C464.71,95.76 465.32,95.84 465.94,95.91 C466.56,95.98 467.17,96.05 467.79,96.11 C468.40,96.17 469.02,96.22 469.63,96.27 C470.25,96.31 470.87,96.35 471.48,96.39 C472.10,96.43 472.71,96.46 473.33,96.49 C473.94,96.53 474.56,96.55 475.18,96.58 C475.79,96.61 476.41,96.63 477.02,96.65 C477.64,96.68 478.25,96.69 478.87,96.71 C479.49,96.73 480.10,96.75 480.72,96.76 C481.33,96.77 481.95,96.78 482.56,96.79 C483.18,96.80 483.80,96.80 484.41,96.80 C485.03,96.80 485.64,96.80 486.26,96.79 C486.87,96.79 487.49,96.78 488.11,96.78 C488.72,96.77 489.34,96.77 489.95,96.77 C490.57,96.76 491.49,96.76 491.80,96.76" fill="none" stroke="#b0b0b0" stroke-width="1.6" clip-path="url(#clipC2)"/>
<path d="M362.50,118.34 C362.81,118.34 363.73,118.35 364.35,118.35 C364.96,118.36 365.58,118.36 366.19,118.37 C366.81,118.37 367.43,118.38 368.04,118.39 C368.66,118.39 369.27,118.40 369.89,118.41 C370.50,118.42 371.12,118.42 371.74,118.43 C372.35,118.44 372.97,118.45 373.58,118.46 C374.20,118.47 374.81,118.48 375.43,118.49 C376.05,118.49 376.66,118.50 377.28,118.51 C377.89,118.52 378.51,118.53 379.12,118.54 C379.74,118.54 380.36,118.55 380.97,118.56 C381.59,118.57 382.20,118.57 382.82,118.58 C383.43,118.58 384.05,118.59 384.67,118.59 C385.28,118.60 385.90,118.60 386.51,118.61 C387.13,118.61 387.74,118.61 388.36,118.61 C388.98,118.61 389.59,118.61 390.21,118.61 C390.82,118.61 391.44,118.60 392.05,118.60 C392.67,118.60 393.29,118.60 393.90,118.60 C394.52,118.59 395.13,118.60 395.75,118.57 C396.36,118.54 396.98,118.50 397.60,118.42 C398.21,118.34 398.83,118.22 399.44,118.08 C400.06,117.94 400.67,117.77 401.29,117.60 C401.91,117.44 402.52,117.27 403.14,117.09 C403.75,116.90 404.37,116.71 404.98,116.49 C405.60,116.28 406.22,116.05 406.83,115.79 C407.45,115.53 408.06,115.26 408.68,114.95 C409.29,114.63 409.91,114.31 410.53,113.92 C411.14,113.53 411.76,113.09 412.37,112.61 C412.99,112.13 413.60,111.58 414.22,111.03 C414.84,110.48 415.45,109.88 416.07,109.30 C416.68,108.72 417.30,108.12 417.91,107.56 C418.53,107.00 419.15,106.43 419.76,105.94 C420.38,105.44 420.99,104.99 421.61,104.56 C422.22,104.13 422.84,103.76 423.46,103.36 C424.07,102.96 424.69,102.56 425.30,102.17 C425.92,101.78 426.53,101.39 427.15,101.01 C427.77,100.63 428.38,100.25 429.00,99.88 C429.61,99.51 430.23,99.14 430.84,98.79 C431.46,98.43 432.08,98.08 432.69,97.74 C433.31,97.40 433.92,97.07 434.54,96.75 C435.15,96.43 435.77,96.12 436.39,95.83 C437.00,95.53 437.62,95.25 438.23,94.97 C438.85,94.70 439.46,94.44 440.08,94.20 C440.70,93.95 441.31,93.72 441.93,93.51 C442.54,93.31 443.16,93.13 443.77,92.97 C444.39,92.82 445.01,92.69 445.62,92.59 C446.24,92.49 446.85,92.41 447.47,92.35 C448.08,92.28 448.70,92.24 449.32,92.22 C449.93,92.19 450.55,92.19 451.16,92.19 C451.78,92.19 452.39,92.21 453.01,92.24 C453.63,92.26 454.24,92.29 454.86,92.34 C455.47,92.38 456.09,92.43 456.70,92.51 C457.32,92.58 457.94,92.69 458.55,92.81 C459.17,92.94 459.78,93.08 460.40,93.24 C461.01,93.39 461.63,93.57 462.25,93.74 C462.86,93.92 463.48,94.10 464.09,94.29 C464.71,94.47 465.32,94.66 465.94,94.84 C466.56,95.01 467.17,95.19 467.79,95.35 C468.40,95.52 469.02,95.65 469.63,95.81 C470.25,95.96 470.87,96.13 471.48,96.29 C472.10,96.45 472.71,96.62 473.33,96.77 C473.94,96.91 474.56,97.05 475.18,97.13 C475.79,97.22 476.41,97.26 477.02,97.28 C477.64,97.30 478.25,97.26 478.87,97.22 C479.49,97.19 480.10,97.13 480.72,97.07 C481.33,97.01 481.95,96.93 482.56,96.85 C483.18,96.78 483.80,96.69 484.41,96.60 C485.03,96.51 485.64,96.42 486.26,96.33 C486.87,96.24 487.49,96.15 488.11,96.07 C488.72,96.00 489.34,95.92 489.95,95.86 C490.57,95.80 491.49,95.74 491.80,95.72" fill="none" stroke="#909090" stroke-width="1.6" clip-path="url(#clipC2)"/>
<path d="M362.50,117.82 C362.81,117.80 363.73,117.77 364.35,117.73 C364.96,117.69 365.58,117.64 366.19,117.59 C366.81,117.54 367.43,117.48 368.04,117.43 C368.66,117.37 369.27,117.31 369.89,117.25 C370.50,117.19 371.12,117.13 371.74,117.08 C372.35,117.03 372.97,116.98 373.58,116.94 C374.20,116.89 374.81,116.86 375.43,116.83 C376.05,116.80 376.66,116.79 377.28,116.78 C377.89,116.77 378.51,116.78 379.12,116.79 C379.74,116.81 380.36,116.83 380.97,116.86 C381.59,116.89 382.20,116.92 382.82,116.96 C383.43,117.00 384.05,117.04 384.67,117.09 C385.28,117.13 385.90,117.18 386.51,117.23 C387.13,117.27 387.74,117.32 388.36,117.36 C388.98,117.40 389.59,117.44 390.21,117.47 C390.82,117.51 391.44,117.52 392.05,117.56 C392.67,117.60 393.29,117.66 393.90,117.72 C394.52,117.79 395.13,117.89 395.75,117.93 C396.36,117.97 396.98,118.01 397.60,117.95 C398.21,117.89 398.83,117.75 399.44,117.56 C400.06,117.37 400.67,117.08 401.29,116.79 C401.91,116.51 402.52,116.19 403.14,115.86 C403.75,115.52 404.37,115.16 404.98,114.77 C405.60,114.39 406.22,113.98 406.83,113.55 C407.45,113.13 408.06,112.68 408.68,112.22 C409.29,111.77 409.91,111.32 410.53,110.80 C411.14,110.28 411.76,109.73 412.37,109.13 C412.99,108.53 413.60,107.84 414.22,107.18 C414.84,106.51 415.45,105.79 416.07,105.12 C416.68,104.45 417.30,103.76 417.91,103.15 C418.53,102.53 419.15,101.97 419.76,101.44 C420.38,100.91 420.99,100.44 421.61,99.96 C422.22,99.48 422.84,99.02 423.46,98.57 C424.07,98.12 424.69,97.69 425.30,97.27 C425.92,96.86 426.53,96.47 427.15,96.10 C427.77,95.73 428.38,95.37 429.00,95.05 C429.61,94.73 430.23,94.44 430.84,94.16 C431.46,93.88 432.08,93.63 432.69,93.37 C433.31,93.12 433.92,92.87 434.54,92.63 C435.15,92.39 435.77,92.16 436.39,91.94 C437.00,91.72 437.62,91.51 438.23,91.30 C438.85,91.10 439.46,90.91 440.08,90.73 C440.70,90.54 441.31,90.37 441.93,90.21 C442.54,90.05 443.16,89.90 443.77,89.76 C444.39,89.62 445.01,89.49 445.62,89.37 C446.24,89.26 446.85,89.15 447.47,89.06 C448.08,88.98 448.70,88.89 449.32,88.87 C449.93,88.85 450.55,88.88 451.16,88.94 C451.78,89.00 452.39,89.10 453.01,89.22 C453.63,89.33 454.24,89.48 454.86,89.62 C455.47,89.77 456.09,89.93 456.70,90.08 C457.32,90.23 457.94,90.38 458.55,90.52 C459.17,90.66 459.78,90.80 460.40,90.95 C461.01,91.10 461.63,91.26 462.25,91.42 C462.86,91.58 463.48,91.75 464.09,91.92 C464.71,92.09 465.32,92.27 465.94,92.44 C466.56,92.62 467.17,92.80 467.79,92.97 C468.40,93.15 469.02,93.33 469.63,93.50 C470.25,93.67 470.87,93.82 471.48,94.00 C472.10,94.19 472.71,94.40 473.33,94.62 C473.94,94.85 474.56,95.13 475.18,95.35 C475.79,95.58 476.41,95.82 477.02,95.98 C477.64,96.14 478.25,96.27 478.87,96.29 C479.49,96.31 480.10,96.23 480.72,96.10 C481.33,95.96 481.95,95.72 482.56,95.47 C483.18,95.22 483.80,94.89 484.41,94.57 C485.03,94.25 485.64,93.88 486.26,93.54 C486.87,93.20 487.49,92.83 488.11,92.51 C488.72,92.20 489.34,91.88 489.95,91.63 C490.57,91.39 491.49,91.14 491.80,91.04" fill="none" stroke="#404040" stroke-width="1.6" clip-path="url(#clipC2)"/>
<path d="M362.50,117.56 C362.81,117.54 363.73,117.51 364.35,117.47 C364.96,117.43 365.58,117.38 366.19,117.33 C366.81,117.28 367.43,117.22 368.04,117.17 C368.66,117.11 369.27,117.05 369.89,116.99 C370.50,116.93 371.12,116.87 371.74,116.82 C372.35,116.77 372.97,116.72 373.58,116.68 C374.20,116.63 374.81,116.60 375.43,116.57 C376.05,116.54 376.66,116.53 377.28,116.52 C377.89,116.51 378.51,116.52 379.12,116.53 C379.74,116.55 380.36,116.57 380.97,116.60 C381.59,116.63 382.20,116.66 382.82,116.70 C383.43,116.74 384.05,116.78 384.67,116.83 C385.28,116.87 385.90,116.92 386.51,116.97 C387.13,117.01 387.74,117.06 388.36,117.10 C388.98,117.14 389.59,117.18 390.21,117.21 C390.82,117.25 391.44,117.26 392.05,117.30 C392.67,117.34 393.29,117.40 393.90,117.47 C394.52,117.53 395.13,117.64 395.75,117.68 C396.36,117.72 396.98,117.77 397.60,117.71 C398.21,117.64 398.83,117.50 399.44,117.30 C400.06,117.10 400.67,116.80 401.29,116.51 C401.91,116.21 402.52,115.89 403.14,115.54 C403.75,115.19 404.37,114.81 404.98,114.42 C405.60,114.02 406.22,113.59 406.83,113.15 C407.45,112.71 408.06,112.25 408.68,111.77 C409.29,111.29 409.91,110.82 410.53,110.28 C411.14,109.74 411.76,109.16 412.37,108.52 C412.99,107.87 413.60,107.14 414.22,106.43 C414.84,105.72 415.45,104.96 416.07,104.25 C416.68,103.54 417.30,102.81 417.91,102.16 C418.53,101.52 419.15,100.94 419.76,100.40 C420.38,99.86 420.99,99.39 421.61,98.92 C422.22,98.44 422.84,97.98 423.46,97.54 C424.07,97.11 424.69,96.69 425.30,96.29 C425.92,95.90 426.53,95.53 427.15,95.18 C427.77,94.83 428.38,94.50 429.00,94.20 C429.61,93.90 430.23,93.64 430.84,93.38 C431.46,93.12 432.08,92.89 432.69,92.65 C433.31,92.42 433.92,92.19 434.54,91.97 C435.15,91.75 435.77,91.54 436.39,91.33 C437.00,91.13 437.62,90.94 438.23,90.76 C438.85,90.57 439.46,90.40 440.08,90.24 C440.70,90.08 441.31,89.94 441.93,89.80 C442.54,89.67 443.16,89.55 443.77,89.44 C444.39,89.34 445.01,89.25 445.62,89.17 C446.24,89.10 446.85,89.03 447.47,89.00 C448.08,88.97 448.70,88.94 449.32,88.97 C449.93,89.01 450.55,89.10 451.16,89.22 C451.78,89.34 452.39,89.51 453.01,89.68 C453.63,89.85 454.24,90.06 454.86,90.26 C455.47,90.47 456.09,90.69 456.70,90.89 C457.32,91.09 457.94,91.30 458.55,91.47 C459.17,91.64 459.78,91.80 460.40,91.91 C461.01,92.02 461.63,92.11 462.25,92.14 C462.86,92.17 463.48,92.15 464.09,92.11 C464.71,92.07 465.32,91.98 465.94,91.89 C466.56,91.80 467.17,91.68 467.79,91.57 C468.40,91.46 469.02,91.36 469.63,91.23 C470.25,91.11 470.87,90.97 471.48,90.81 C472.10,90.66 472.71,90.49 473.33,90.32 C473.94,90.14 474.56,89.96 475.18,89.79 C475.79,89.62 476.41,89.45 477.02,89.30 C477.64,89.15 478.25,89.00 478.87,88.89 C479.49,88.78 480.10,88.68 480.72,88.63 C481.33,88.57 481.95,88.55 482.56,88.57 C483.18,88.58 483.80,88.63 484.41,88.70 C485.03,88.76 485.64,88.86 486.26,88.95 C486.87,89.04 487.49,89.15 488.11,89.25 C488.72,89.34 489.34,89.45 489.95,89.52 C490.57,89.59 491.49,89.66 491.80,89.69" fill="none" stroke="#000000" stroke-width="1.6" clip-path="url(#clipC2)"/>
<text x="317.60" y="182.60" font-size="15.5" text-anchor="start" fill="#000" font-weight="bold">D</text>
<rect x="446.6" y="169.5" width="7.2" height="53.5" fill="#f9a9b1"/>
<rect x="446.6" y="223" width="7.2" height="53.8" fill="#ababab"/>
<path d="M362.8,169.5 L493.2,169.5 L493.2,276.8 L362.8,276.8" fill="none" stroke="#333" stroke-width="1.1"/>
<line x1="362.8" y1="169" x2="362.8" y2="277.3" stroke="#9a9a9a" stroke-width="1.6"/>
<line x1="381.4" y1="276.8" x2="381.4" y2="273.3" stroke="#333" stroke-width="1.1"/>
<line x1="400.1" y1="276.8" x2="400.1" y2="270.3" stroke="#333" stroke-width="1.1"/>
<line x1="418.7" y1="276.8" x2="418.7" y2="273.3" stroke="#333" stroke-width="1.1"/>
<line x1="437.3" y1="276.8" x2="437.3" y2="270.3" stroke="#333" stroke-width="1.1"/>
<line x1="455.9" y1="276.8" x2="455.9" y2="273.3" stroke="#333" stroke-width="1.1"/>
<line x1="474.6" y1="276.8" x2="474.6" y2="270.3" stroke="#333" stroke-width="1.1"/>
<line x1="362.8" y1="266.1" x2="369.3" y2="266.1" stroke="#333" stroke-width="1.1"/>
<line x1="362.8" y1="241.7" x2="369.3" y2="241.7" stroke="#333" stroke-width="1.1"/>
<line x1="362.8" y1="217.3" x2="369.3" y2="217.3" stroke="#333" stroke-width="1.1"/>
<line x1="362.8" y1="192.9" x2="369.3" y2="192.9" stroke="#333" stroke-width="1.1"/>
<text x="358.30" y="270.10" font-size="13" text-anchor="end" fill="#000" >0.2</text>
<text x="358.30" y="246.50" font-size="13" text-anchor="end" fill="#000" >0.3</text>
<text x="358.30" y="222.80" font-size="13" text-anchor="end" fill="#000" >0.4</text>
<text x="358.30" y="198.80" font-size="13" text-anchor="end" fill="#000" >0.5</text>
<text x="358.30" y="175.90" font-size="13" text-anchor="end" fill="#000" >0.6</text>
<text x="362.80" y="291.60" font-size="13" text-anchor="middle" fill="#000" >400</text>
<text x="400.06" y="291.60" font-size="13" text-anchor="middle" fill="#000" >500</text>
<text x="437.31" y="291.60" font-size="13" text-anchor="middle" fill="#000" >600</text>
<text x="474.57" y="291.60" font-size="13" text-anchor="middle" fill="#000" >700</text>
<text x="427.70" y="306.20" font-size="13.3" text-anchor="middle" fill="#000" >Wavelength (nm)</text>
<text transform="translate(330.2,241.6) rotate(-90)" font-size="13.5" text-anchor="middle">Scattering, <tspan font-style="italic">S</tspan> (μm<tspan font-size="9.5" dy="-5">2</tspan><tspan dy="5">)</tspan></text>
<text x="374.5" y="187.6" font-size="14" style="font-family:'Liberation Serif',serif" font-style="italic" stroke="#000" stroke-width="0.1">R</text>
<text x="382.9" y="189.9" font-size="11.5" style="font-family:'Liberation Serif',serif" font-style="italic" textLength="55.5" lengthAdjust="spacing" stroke="#000" stroke-width="0.15">oligo/mono</text>
<text x="393.9" y="213.0" font-size="17" style="font-family:'Liberation Serif',serif">&gt;</text>
<text x="408.4" y="210.8" font-size="13.2" style="font-family:'Liberation Serif',serif">1</text>
<text x="392.5" y="239.4" font-size="17" style="font-family:'Liberation Serif',serif">&lt;</text>
<text x="407.0" y="237.2" font-size="13.2" style="font-family:'Liberation Serif',serif">1</text>
<path d="M362.80,266.10 C363.11,266.10 364.04,266.12 364.66,266.12 C365.28,266.13 365.90,266.14 366.53,266.15 C367.15,266.16 367.77,266.16 368.39,266.17 C369.01,266.18 369.63,266.19 370.25,266.20 C370.87,266.22 371.49,266.23 372.11,266.24 C372.74,266.25 373.36,266.27 373.98,266.29 C374.60,266.30 375.22,266.32 375.84,266.34 C376.46,266.36 377.08,266.38 377.70,266.41 C378.32,266.43 378.94,266.46 379.57,266.49 C380.19,266.52 380.81,266.55 381.43,266.59 C382.05,266.63 382.67,266.67 383.29,266.72 C383.91,266.77 384.53,266.83 385.15,266.89 C385.78,266.95 386.40,267.02 387.02,267.10 C387.64,267.17 388.26,267.24 388.88,267.32 C389.50,267.40 390.12,267.48 390.74,267.56 C391.36,267.64 391.98,267.70 392.61,267.81 C393.23,267.91 393.85,268.05 394.47,268.20 C395.09,268.35 395.71,268.57 396.33,268.71 C396.95,268.86 397.57,269.03 398.19,269.08 C398.82,269.13 399.44,269.17 400.06,269.03 C400.68,268.89 401.30,268.61 401.92,268.25 C402.54,267.89 403.16,267.37 403.78,266.89 C404.40,266.41 405.02,265.87 405.65,265.37 C406.27,264.86 406.89,264.38 407.51,263.86 C408.13,263.34 408.75,262.81 409.37,262.26 C409.99,261.72 410.61,261.15 411.23,260.57 C411.86,259.99 412.48,259.39 413.10,258.78 C413.72,258.17 414.34,257.54 414.96,256.90 C415.58,256.26 416.20,255.61 416.82,254.93 C417.44,254.26 418.06,253.58 418.69,252.87 C419.31,252.16 419.93,251.43 420.55,250.69 C421.17,249.96 421.79,249.20 422.41,248.47 C423.03,247.73 423.65,247.02 424.27,246.26 C424.90,245.49 425.52,244.73 426.14,243.88 C426.76,243.03 427.38,242.16 428.00,241.15 C428.62,240.15 429.24,239.07 429.86,237.85 C430.48,236.62 431.10,235.22 431.73,233.80 C432.35,232.38 432.97,230.82 433.59,229.31 C434.21,227.81 434.83,226.24 435.45,224.77 C436.07,223.30 436.69,221.91 437.31,220.52 C437.94,219.13 438.56,217.78 439.18,216.43 C439.80,215.07 440.42,213.73 441.04,212.38 C441.66,211.03 442.28,209.69 442.90,208.33 C443.52,206.97 444.14,205.63 444.77,204.22 C445.39,202.81 446.01,201.38 446.63,199.86 C447.25,198.35 447.87,196.70 448.49,195.13 C449.11,193.56 449.73,191.92 450.35,190.42 C450.98,188.92 451.60,187.43 452.22,186.14 C452.84,184.86 453.46,183.61 454.08,182.71 C454.70,181.82 455.32,181.13 455.94,180.76 C456.56,180.39 457.18,180.43 457.81,180.48 C458.43,180.53 459.05,180.84 459.67,181.04 C460.29,181.24 460.91,181.44 461.53,181.66 C462.15,181.89 462.77,182.10 463.39,182.40 C464.02,182.69 464.64,183.01 465.26,183.42 C465.88,183.83 466.50,184.28 467.12,184.83 C467.74,185.39 468.36,185.96 468.98,186.75 C469.60,187.53 470.22,188.52 470.85,189.54 C471.47,190.57 472.09,191.79 472.71,192.89 C473.33,194.00 473.95,195.19 474.57,196.17 C475.19,197.15 475.81,198.06 476.43,198.76 C477.06,199.46 477.68,199.93 478.30,200.37 C478.92,200.81 479.54,201.10 480.16,201.40 C480.78,201.71 481.40,201.92 482.02,202.21 C482.64,202.50 483.26,202.77 483.89,203.15 C484.51,203.54 485.13,204.01 485.75,204.50 C486.37,204.98 486.99,205.54 487.61,206.06 C488.23,206.59 488.85,207.15 489.47,207.64 C490.10,208.13 490.72,208.63 491.34,209.02 C491.96,209.41 492.89,209.82 493.20,209.98" fill="none" stroke="#ff2020" stroke-width="1.8" opacity="0.85" clip-path="url(#clipD)"/>
<path d="M362.80,266.10 C363.11,266.10 364.04,266.12 364.66,266.12 C365.28,266.13 365.90,266.14 366.53,266.15 C367.15,266.16 367.77,266.16 368.39,266.17 C369.01,266.18 369.63,266.19 370.25,266.20 C370.87,266.22 371.49,266.23 372.11,266.24 C372.74,266.25 373.36,266.27 373.98,266.29 C374.60,266.30 375.22,266.32 375.84,266.34 C376.46,266.36 377.08,266.38 377.70,266.41 C378.32,266.43 378.94,266.46 379.57,266.49 C380.19,266.52 380.81,266.55 381.43,266.59 C382.05,266.63 382.67,266.67 383.29,266.72 C383.91,266.77 384.53,266.83 385.15,266.89 C385.78,266.95 386.40,267.02 387.02,267.10 C387.64,267.17 388.26,267.24 388.88,267.32 C389.50,267.40 390.12,267.48 390.74,267.56 C391.36,267.64 391.98,267.70 392.61,267.81 C393.23,267.91 393.85,268.05 394.47,268.19 C395.09,268.34 395.71,268.55 396.33,268.70 C396.95,268.84 397.57,269.00 398.19,269.06 C398.82,269.11 399.44,269.12 400.06,269.03 C400.68,268.93 401.30,268.73 401.92,268.49 C402.54,268.24 403.16,267.92 403.78,267.57 C404.40,267.22 405.02,266.81 405.65,266.40 C406.27,265.99 406.89,265.56 407.51,265.10 C408.13,264.64 408.75,264.15 409.37,263.64 C409.99,263.12 410.61,262.57 411.23,262.00 C411.86,261.43 412.48,260.84 413.10,260.24 C413.72,259.64 414.34,259.03 414.96,258.41 C415.58,257.79 416.20,257.16 416.82,256.51 C417.44,255.87 418.06,255.21 418.69,254.53 C419.31,253.85 419.93,253.16 420.55,252.44 C421.17,251.73 421.79,250.99 422.41,250.24 C423.03,249.49 423.65,248.73 424.27,247.95 C424.90,247.17 425.52,246.39 426.14,245.58 C426.76,244.77 427.38,243.95 428.00,243.08 C428.62,242.22 429.24,241.34 429.86,240.40 C430.48,239.46 431.10,238.49 431.73,237.46 C432.35,236.42 432.97,235.32 433.59,234.20 C434.21,233.07 434.83,231.89 435.45,230.70 C436.07,229.51 436.69,228.29 437.31,227.06 C437.94,225.83 438.56,224.57 439.18,223.29 C439.80,222.02 440.42,220.71 441.04,219.41 C441.66,218.10 442.28,216.77 442.90,215.45 C443.52,214.13 444.14,212.80 444.77,211.48 C445.39,210.16 446.01,208.87 446.63,207.54 C447.25,206.21 447.87,204.86 448.49,203.48 C449.11,202.10 449.73,200.66 450.35,199.27 C450.98,197.87 451.60,196.46 452.22,195.13 C452.84,193.80 453.46,192.49 454.08,191.30 C454.70,190.12 455.32,189.03 455.94,188.02 C456.56,187.01 457.18,186.11 457.81,185.26 C458.43,184.42 459.05,183.63 459.67,182.95 C460.29,182.27 460.91,181.67 461.53,181.21 C462.15,180.74 462.77,180.38 463.39,180.16 C464.02,179.94 464.64,179.89 465.26,179.89 C465.88,179.89 466.50,180.02 467.12,180.18 C467.74,180.34 468.36,180.60 468.98,180.87 C469.60,181.14 470.22,181.48 470.85,181.80 C471.47,182.13 472.09,182.50 472.71,182.84 C473.33,183.17 473.95,183.53 474.57,183.82 C475.19,184.11 475.81,184.42 476.43,184.60 C477.06,184.79 477.68,184.86 478.30,184.95 C478.92,185.04 479.54,185.00 480.16,185.14 C480.78,185.27 481.40,185.41 482.02,185.78 C482.64,186.16 483.26,186.75 483.89,187.40 C484.51,188.05 485.13,188.88 485.75,189.70 C486.37,190.52 486.99,191.45 487.61,192.32 C488.23,193.20 488.85,194.12 489.47,194.93 C490.10,195.74 490.72,196.55 491.34,197.19 C491.96,197.83 492.89,198.49 493.20,198.76" fill="none" stroke="#cc0000" stroke-width="1.8" opacity="0.85" clip-path="url(#clipD)"/>
<path d="M362.80,266.10 C363.11,266.10 364.04,266.12 364.66,266.12 C365.28,266.13 365.90,266.14 366.53,266.15 C367.15,266.16 367.77,266.16 368.39,266.17 C369.01,266.18 369.63,266.19 370.25,266.20 C370.87,266.22 371.49,266.23 372.11,266.24 C372.74,266.25 373.36,266.27 373.98,266.29 C374.60,266.30 375.22,266.32 375.84,266.34 C376.46,266.36 377.08,266.38 377.70,266.41 C378.32,266.43 378.94,266.46 379.57,266.49 C380.19,266.52 380.81,266.55 381.43,266.59 C382.05,266.63 382.67,266.67 383.29,266.72 C383.91,266.77 384.53,266.83 385.15,266.89 C385.78,266.95 386.40,267.02 387.02,267.10 C387.64,267.17 388.26,267.24 388.88,267.32 C389.50,267.40 390.12,267.48 390.74,267.56 C391.36,267.64 391.98,267.70 392.61,267.81 C393.23,267.91 393.85,268.05 394.47,268.20 C395.09,268.34 395.71,268.56 396.33,268.70 C396.95,268.85 397.57,269.01 398.19,269.06 C398.82,269.12 399.44,269.13 400.06,269.03 C400.68,268.92 401.30,268.71 401.92,268.44 C402.54,268.17 403.16,267.81 403.78,267.43 C404.40,267.06 405.02,266.61 405.65,266.17 C406.27,265.74 406.89,265.29 407.51,264.81 C408.13,264.33 408.75,263.83 409.37,263.30 C409.99,262.77 410.61,262.21 411.23,261.64 C411.86,261.07 412.48,260.48 413.10,259.88 C413.72,259.28 414.34,258.66 414.96,258.04 C415.58,257.41 416.20,256.78 416.82,256.12 C417.44,255.47 418.06,254.81 418.69,254.12 C419.31,253.44 419.93,252.74 420.55,252.01 C421.17,251.29 421.79,250.55 422.41,249.78 C423.03,249.01 423.65,248.21 424.27,247.40 C424.90,246.58 425.52,245.74 426.14,244.89 C426.76,244.05 427.38,243.18 428.00,242.33 C428.62,241.48 429.24,240.60 429.86,239.77 C430.48,238.93 431.10,238.12 431.73,237.33 C432.35,236.53 432.97,235.80 433.59,235.00 C434.21,234.19 434.83,233.40 435.45,232.49 C436.07,231.57 436.69,230.59 437.31,229.50 C437.94,228.41 438.56,227.20 439.18,225.97 C439.80,224.73 440.42,223.42 441.04,222.11 C441.66,220.79 442.28,219.42 442.90,218.06 C443.52,216.71 444.14,215.32 444.77,213.98 C445.39,212.63 446.01,211.32 446.63,209.98 C447.25,208.64 447.87,207.31 448.49,205.95 C449.11,204.58 449.73,203.16 450.35,201.79 C450.98,200.41 451.60,199.01 452.22,197.69 C452.84,196.37 453.46,195.05 454.08,193.85 C454.70,192.64 455.32,191.54 455.94,190.46 C456.56,189.38 457.18,188.37 457.81,187.36 C458.43,186.36 459.05,185.34 459.67,184.43 C460.29,183.51 460.91,182.63 461.53,181.89 C462.15,181.16 462.77,180.48 463.39,180.00 C464.02,179.52 464.64,179.15 465.26,178.99 C465.88,178.84 466.50,178.89 467.12,179.06 C467.74,179.24 468.36,179.62 468.98,180.06 C469.60,180.49 470.22,181.08 470.85,181.67 C471.47,182.27 472.09,182.96 472.71,183.61 C473.33,184.27 473.95,184.91 474.57,185.58 C475.19,186.25 475.81,186.91 476.43,187.64 C477.06,188.38 477.68,189.18 478.30,190.00 C478.92,190.81 479.54,191.68 480.16,192.54 C480.78,193.41 481.40,194.30 482.02,195.17 C482.64,196.04 483.26,196.88 483.89,197.78 C484.51,198.68 485.13,199.61 485.75,200.60 C486.37,201.59 486.99,202.68 487.61,203.70 C488.23,204.73 488.85,205.80 489.47,206.74 C490.10,207.68 490.72,208.61 491.34,209.36 C491.96,210.10 492.89,210.89 493.20,211.20" fill="none" stroke="#ff8080" stroke-width="1.8" opacity="0.85" clip-path="url(#clipD)"/>
<path d="M362.80,266.10 C363.11,266.10 364.04,266.12 364.66,266.12 C365.28,266.13 365.90,266.14 366.53,266.15 C367.15,266.16 367.77,266.16 368.39,266.17 C369.01,266.18 369.63,266.19 370.25,266.20 C370.87,266.22 371.49,266.23 372.11,266.24 C372.74,266.25 373.36,266.27 373.98,266.29 C374.60,266.30 375.22,266.32 375.84,266.34 C376.46,266.36 377.08,266.38 377.70,266.41 C378.32,266.43 378.94,266.46 379.57,266.49 C380.19,266.52 380.81,266.55 381.43,266.59 C382.05,266.63 382.67,266.67 383.29,266.72 C383.91,266.77 384.53,266.83 385.15,266.89 C385.78,266.95 386.40,267.02 387.02,267.10 C387.64,267.17 388.26,267.24 388.88,267.32 C389.50,267.40 390.12,267.48 390.74,267.56 C391.36,267.64 391.98,267.70 392.61,267.81 C393.23,267.91 393.85,268.05 394.47,268.19 C395.09,268.34 395.71,268.55 396.33,268.69 C396.95,268.84 397.57,269.00 398.19,269.05 C398.82,269.11 399.44,269.12 400.06,269.03 C400.68,268.94 401.30,268.75 401.92,268.52 C402.54,268.30 403.16,268.01 403.78,267.69 C404.40,267.37 405.02,266.99 405.65,266.60 C406.27,266.22 406.89,265.81 407.51,265.37 C408.13,264.93 408.75,264.47 409.37,263.96 C409.99,263.46 410.61,262.92 411.23,262.36 C411.86,261.80 412.48,261.20 413.10,260.61 C413.72,260.01 414.34,259.40 414.96,258.78 C415.58,258.16 416.20,257.54 416.82,256.90 C417.44,256.26 418.06,255.61 418.69,254.93 C419.31,254.26 419.93,253.58 420.55,252.87 C421.17,252.16 421.79,251.44 422.41,250.69 C423.03,249.94 423.65,249.17 424.27,248.37 C424.90,247.57 425.52,246.74 426.14,245.90 C426.76,245.07 427.38,244.21 428.00,243.36 C428.62,242.51 429.24,241.63 429.86,240.79 C430.48,239.94 431.10,239.08 431.73,238.29 C432.35,237.49 432.97,236.80 433.59,236.03 C434.21,235.27 434.83,234.56 435.45,233.70 C436.07,232.84 436.69,231.96 437.31,230.87 C437.94,229.78 438.56,228.52 439.18,227.18 C439.80,225.85 440.42,224.35 441.04,222.85 C441.66,221.35 442.28,219.75 442.90,218.18 C443.52,216.62 444.14,215.00 444.77,213.47 C445.39,211.94 446.01,210.41 446.63,209.01 C447.25,207.62 447.87,206.35 448.49,205.10 C449.11,203.85 449.73,202.70 450.35,201.51 C450.98,200.32 451.60,199.09 452.22,197.93 C452.84,196.77 453.46,195.61 454.08,194.53 C454.70,193.45 455.32,192.40 455.94,191.47 C456.56,190.53 457.18,189.66 457.81,188.92 C458.43,188.18 459.05,187.53 459.67,187.04 C460.29,186.56 460.91,186.21 461.53,186.00 C462.15,185.80 462.77,185.75 463.39,185.79 C464.02,185.84 464.64,186.02 465.26,186.26 C465.88,186.51 466.50,186.86 467.12,187.26 C467.74,187.65 468.36,188.12 468.98,188.61 C469.60,189.10 470.22,189.65 470.85,190.17 C471.47,190.70 472.09,191.21 472.71,191.79 C473.33,192.37 473.95,192.84 474.57,193.65 C475.19,194.47 475.81,195.63 476.43,196.67 C477.06,197.72 477.68,198.98 478.30,199.92 C478.92,200.85 479.54,201.66 480.16,202.30 C480.78,202.93 481.40,203.33 482.02,203.71 C482.64,204.09 483.26,204.34 483.89,204.57 C484.51,204.80 485.13,204.97 485.75,205.10 C486.37,205.23 486.99,205.31 487.61,205.35 C488.23,205.38 488.85,205.35 489.47,205.32 C490.10,205.29 490.72,205.22 491.34,205.18 C491.96,205.15 492.89,205.11 493.20,205.10" fill="none" stroke="#990000" stroke-width="1.8" opacity="0.85" clip-path="url(#clipD)"/>
<path d="M362.80,266.10 C363.11,266.10 364.04,266.12 364.66,266.12 C365.28,266.13 365.90,266.14 366.53,266.15 C367.15,266.16 367.77,266.16 368.39,266.17 C369.01,266.18 369.63,266.19 370.25,266.20 C370.87,266.22 371.49,266.23 372.11,266.24 C372.74,266.25 373.36,266.27 373.98,266.29 C374.60,266.30 375.22,266.32 375.84,266.34 C376.46,266.36 377.08,266.38 377.70,266.41 C378.32,266.43 378.94,266.46 379.57,266.49 C380.19,266.52 380.81,266.55 381.43,266.59 C382.05,266.63 382.67,266.67 383.29,266.72 C383.91,266.77 384.53,266.83 385.15,266.89 C385.78,266.95 386.40,267.02 387.02,267.10 C387.64,267.17 388.26,267.24 388.88,267.32 C389.50,267.40 390.12,267.48 390.74,267.56 C391.36,267.64 391.98,267.70 392.61,267.81 C393.23,267.92 393.85,268.05 394.47,268.21 C395.09,268.36 395.71,268.58 396.33,268.72 C396.95,268.87 397.57,269.04 398.19,269.09 C398.82,269.14 399.44,269.20 400.06,269.03 C400.68,268.85 401.30,268.49 401.92,268.05 C402.54,267.61 403.16,266.92 403.78,266.37 C404.40,265.82 405.02,265.28 405.65,264.75 C406.27,264.21 406.89,263.71 407.51,263.18 C408.13,262.65 408.75,262.12 409.37,261.57 C409.99,261.01 410.61,260.45 411.23,259.86 C411.86,259.27 412.48,258.66 413.10,258.04 C413.72,257.41 414.34,256.78 414.96,256.12 C415.58,255.47 416.20,254.81 416.82,254.12 C417.44,253.44 418.06,252.74 418.69,252.01 C419.31,251.29 419.93,250.54 420.55,249.79 C421.17,249.03 421.79,248.27 422.41,247.49 C423.03,246.71 423.65,245.92 424.27,245.10 C424.90,244.28 425.52,243.45 426.14,242.57 C426.76,241.69 427.38,240.78 428.00,239.84 C428.62,238.89 429.24,237.90 429.86,236.90 C430.48,235.90 431.10,234.88 431.73,233.82 C432.35,232.76 432.97,231.67 433.59,230.52 C434.21,229.38 434.83,228.20 435.45,226.94 C436.07,225.68 436.69,224.37 437.31,222.99 C437.94,221.60 438.56,220.11 439.18,218.61 C439.80,217.10 440.42,215.52 441.04,213.96 C441.66,212.39 442.28,210.78 442.90,209.22 C443.52,207.65 444.14,206.08 444.77,204.58 C445.39,203.08 446.01,201.64 446.63,200.22 C447.25,198.80 447.87,197.41 448.49,196.05 C449.11,194.68 449.73,193.29 450.35,192.03 C450.98,190.76 451.60,189.52 452.22,188.44 C452.84,187.37 453.46,186.41 454.08,185.58 C454.70,184.75 455.32,184.05 455.94,183.47 C456.56,182.89 457.18,182.40 457.81,182.09 C458.43,181.79 459.05,181.62 459.67,181.65 C460.29,181.69 460.91,181.96 461.53,182.31 C462.15,182.66 462.77,183.18 463.39,183.75 C464.02,184.32 464.64,185.01 465.26,185.72 C465.88,186.43 466.50,187.23 467.12,188.03 C467.74,188.82 468.36,189.67 468.98,190.48 C469.60,191.30 470.22,192.04 470.85,192.90 C471.47,193.76 472.09,194.66 472.71,195.64 C473.33,196.62 473.95,197.77 474.57,198.77 C475.19,199.78 475.81,200.84 476.43,201.67 C477.06,202.49 477.68,203.16 478.30,203.72 C478.92,204.27 479.54,204.65 480.16,205.00 C480.78,205.35 481.40,205.60 482.02,205.80 C482.64,206.00 483.26,206.12 483.89,206.21 C484.51,206.29 485.13,206.37 485.75,206.32 C486.37,206.27 486.99,206.14 487.61,205.93 C488.23,205.72 488.85,205.35 489.47,205.04 C490.10,204.73 490.72,204.33 491.34,204.06 C491.96,203.78 492.89,203.50 493.20,203.39" fill="none" stroke="#ee1111" stroke-width="1.8" opacity="0.85" clip-path="url(#clipD)"/>
<path d="M362.80,266.10 C363.11,266.10 364.04,266.12 364.66,266.12 C365.28,266.13 365.90,266.14 366.53,266.15 C367.15,266.16 367.77,266.16 368.39,266.17 C369.01,266.18 369.63,266.19 370.25,266.20 C370.87,266.22 371.49,266.23 372.11,266.24 C372.74,266.25 373.36,266.27 373.98,266.29 C374.60,266.30 375.22,266.32 375.84,266.34 C376.46,266.36 377.08,266.38 377.70,266.41 C378.32,266.43 378.94,266.46 379.57,266.49 C380.19,266.52 380.81,266.55 381.43,266.59 C382.05,266.63 382.67,266.67 383.29,266.72 C383.91,266.77 384.53,266.83 385.15,266.89 C385.78,266.95 386.40,267.02 387.02,267.10 C387.64,267.17 388.26,267.24 388.88,267.32 C389.50,267.40 390.12,267.48 390.74,267.56 C391.36,267.64 391.98,267.70 392.61,267.81 C393.23,267.91 393.85,268.05 394.47,268.20 C395.09,268.35 395.71,268.57 396.33,268.71 C396.95,268.86 397.57,269.03 398.19,269.08 C398.82,269.13 399.44,269.17 400.06,269.03 C400.68,268.89 401.30,268.61 401.92,268.25 C402.54,267.89 403.16,267.37 403.78,266.89 C404.40,266.41 405.02,265.87 405.65,265.37 C406.27,264.86 406.89,264.38 407.51,263.86 C408.13,263.34 408.75,262.81 409.37,262.26 C409.99,261.72 410.61,261.15 411.23,260.57 C411.86,259.99 412.48,259.39 413.10,258.78 C413.72,258.17 414.34,257.54 414.96,256.90 C415.58,256.26 416.20,255.61 416.82,254.93 C417.44,254.26 418.06,253.58 418.69,252.87 C419.31,252.16 419.93,251.44 420.55,250.69 C421.17,249.95 421.79,249.18 422.41,248.40 C423.03,247.61 423.65,246.82 424.27,246.00 C424.90,245.19 425.52,244.36 426.14,243.51 C426.76,242.66 427.38,241.78 428.00,240.89 C428.62,240.00 429.24,239.08 429.86,238.16 C430.48,237.23 431.10,236.31 431.73,235.35 C432.35,234.39 432.97,233.42 433.59,232.39 C434.21,231.36 434.83,230.30 435.45,229.17 C436.07,228.03 436.69,226.83 437.31,225.58 C437.94,224.34 438.56,223.03 439.18,221.71 C439.80,220.39 440.42,219.02 441.04,217.64 C441.66,216.27 442.28,214.86 442.90,213.47 C443.52,212.07 444.14,210.65 444.77,209.26 C445.39,207.86 446.01,206.53 446.63,205.10 C447.25,203.67 447.87,202.21 448.49,200.69 C449.11,199.16 449.73,197.51 450.35,195.96 C450.98,194.41 451.60,192.80 452.22,191.37 C452.84,189.93 453.46,188.52 454.08,187.35 C454.70,186.18 455.32,185.20 455.94,184.36 C456.56,183.52 457.18,182.92 457.81,182.33 C458.43,181.75 459.05,181.28 459.67,180.88 C460.29,180.47 460.91,180.17 461.53,179.92 C462.15,179.68 462.77,179.52 463.39,179.41 C464.02,179.31 464.64,179.28 465.26,179.29 C465.88,179.30 466.50,179.32 467.12,179.48 C467.74,179.64 468.36,179.87 468.98,180.25 C469.60,180.62 470.22,181.16 470.85,181.73 C471.47,182.30 472.09,182.99 472.71,183.68 C473.33,184.37 473.95,185.13 474.57,185.86 C475.19,186.58 475.81,187.31 476.43,188.02 C477.06,188.73 477.68,189.41 478.30,190.14 C478.92,190.87 479.54,191.60 480.16,192.38 C480.78,193.15 481.40,193.94 482.02,194.77 C482.64,195.61 483.26,196.47 483.89,197.37 C484.51,198.28 485.13,199.14 485.75,200.22 C486.37,201.30 486.99,202.53 487.61,203.84 C488.23,205.16 488.85,206.74 489.47,208.12 C490.10,209.49 490.72,210.98 491.34,212.10 C491.96,213.23 492.89,214.40 493.20,214.86" fill="none" stroke="#ff4444" stroke-width="1.8" opacity="0.85" clip-path="url(#clipD)"/>
<path d="M362.80,266.10 C363.11,266.10 364.04,266.12 364.66,266.12 C365.28,266.13 365.90,266.14 366.53,266.15 C367.15,266.16 367.77,266.16 368.39,266.17 C369.01,266.18 369.63,266.19 370.25,266.20 C370.87,266.22 371.49,266.23 372.11,266.24 C372.74,266.25 373.36,266.27 373.98,266.29 C374.60,266.30 375.22,266.32 375.84,266.34 C376.46,266.36 377.08,266.38 377.70,266.41 C378.32,266.43 378.94,266.46 379.57,266.49 C380.19,266.52 380.81,266.55 381.43,266.59 C382.05,266.63 382.67,266.67 383.29,266.72 C383.91,266.77 384.53,266.83 385.15,266.89 C385.78,266.95 386.40,267.02 387.02,267.10 C387.64,267.17 388.26,267.24 388.88,267.32 C389.50,267.40 390.12,267.48 390.74,267.56 C391.36,267.64 391.98,267.70 392.61,267.81 C393.23,267.91 393.85,268.05 394.47,268.20 C395.09,268.35 395.71,268.56 396.33,268.70 C396.95,268.85 397.57,269.01 398.19,269.07 C398.82,269.12 399.44,269.14 400.06,269.03 C400.68,268.91 401.30,268.68 401.92,268.39 C402.54,268.10 403.16,267.69 403.78,267.28 C404.40,266.87 405.02,266.39 405.65,265.93 C406.27,265.46 406.89,265.00 407.51,264.51 C408.13,264.01 408.75,263.50 409.37,262.96 C409.99,262.42 410.61,261.86 411.23,261.29 C411.86,260.71 412.48,260.12 413.10,259.51 C413.72,258.91 414.34,258.29 414.96,257.66 C415.58,257.03 416.20,256.39 416.82,255.73 C417.44,255.07 418.06,254.40 418.69,253.71 C419.31,253.02 419.93,252.31 420.55,251.58 C421.17,250.85 421.79,250.10 422.41,249.32 C423.03,248.55 423.65,247.74 424.27,246.93 C424.90,246.11 425.52,245.28 426.14,244.43 C426.76,243.59 427.38,242.73 428.00,241.87 C428.62,241.00 429.24,240.11 429.86,239.26 C430.48,238.41 431.10,237.59 431.73,236.76 C432.35,235.93 432.97,235.16 433.59,234.29 C434.21,233.43 434.83,232.57 435.45,231.56 C436.07,230.56 436.69,229.48 437.31,228.28 C437.94,227.08 438.56,225.73 439.18,224.36 C439.80,222.99 440.42,221.53 441.04,220.06 C441.66,218.59 442.28,217.05 442.90,215.55 C443.52,214.04 444.14,212.50 444.77,211.02 C445.39,209.54 446.01,208.05 446.63,206.66 C447.25,205.27 447.87,203.96 448.49,202.66 C449.11,201.36 449.73,200.11 450.35,198.84 C450.98,197.57 451.60,196.27 452.22,195.02 C452.84,193.78 453.46,192.53 454.08,191.38 C454.70,190.22 455.32,189.08 455.94,188.07 C456.56,187.05 457.18,186.08 457.81,185.26 C458.43,184.44 459.05,183.72 459.67,183.14 C460.29,182.56 460.91,182.12 461.53,181.76 C462.15,181.40 462.77,181.16 463.39,180.99 C464.02,180.82 464.64,180.75 465.26,180.73 C465.88,180.72 466.50,180.78 467.12,180.88 C467.74,180.97 468.36,181.13 468.98,181.31 C469.60,181.48 470.22,181.65 470.85,181.92 C471.47,182.19 472.09,182.51 472.71,182.96 C473.33,183.40 473.95,183.98 474.57,184.58 C475.19,185.17 475.81,185.86 476.43,186.53 C477.06,187.20 477.68,187.92 478.30,188.57 C478.92,189.23 479.54,189.84 480.16,190.46 C480.78,191.08 481.40,191.66 482.02,192.30 C482.64,192.94 483.26,193.62 483.89,194.29 C484.51,194.96 485.13,195.65 485.75,196.31 C486.37,196.98 486.99,197.65 487.61,198.27 C488.23,198.90 488.85,199.51 489.47,200.06 C490.10,200.60 490.72,201.12 491.34,201.56 C491.96,201.99 492.89,202.48 493.20,202.66" fill="none" stroke="#dd2222" stroke-width="1.8" opacity="0.85" clip-path="url(#clipD)"/>
<path d="M362.80,266.10 C363.11,266.10 364.04,266.12 364.66,266.12 C365.28,266.13 365.90,266.14 366.53,266.15 C367.15,266.16 367.77,266.16 368.39,266.17 C369.01,266.18 369.63,266.19 370.25,266.20 C370.87,266.22 371.49,266.23 372.11,266.24 C372.74,266.25 373.36,266.27 373.98,266.29 C374.60,266.30 375.22,266.32 375.84,266.34 C376.46,266.36 377.08,266.38 377.70,266.41 C378.32,266.43 378.94,266.46 379.57,266.49 C380.19,266.52 380.81,266.55 381.43,266.59 C382.05,266.63 382.67,266.67 383.29,266.72 C383.91,266.77 384.53,266.83 385.15,266.89 C385.78,266.95 386.40,267.02 387.02,267.10 C387.64,267.17 388.26,267.24 388.88,267.32 C389.50,267.40 390.12,267.48 390.74,267.56 C391.36,267.64 391.98,267.70 392.61,267.81 C393.23,267.91 393.85,268.04 394.47,268.19 C395.09,268.34 395.71,268.55 396.33,268.69 C396.95,268.83 397.57,268.99 398.19,269.05 C398.82,269.11 399.44,269.11 400.06,269.03 C400.68,268.95 401.30,268.76 401.92,268.56 C402.54,268.35 403.16,268.08 403.78,267.79 C404.40,267.49 405.02,267.15 405.65,266.79 C406.27,266.42 406.89,266.03 407.51,265.62 C408.13,265.20 408.75,264.76 409.37,264.28 C409.99,263.79 410.61,263.26 411.23,262.71 C411.86,262.16 412.48,261.57 413.10,260.97 C413.72,260.38 414.34,259.76 414.96,259.15 C415.58,258.53 416.20,257.92 416.82,257.28 C417.44,256.65 418.06,256.00 418.69,255.33 C419.31,254.67 419.93,253.99 420.55,253.29 C421.17,252.59 421.79,251.88 422.41,251.14 C423.03,250.39 423.65,249.63 424.27,248.83 C424.90,248.03 425.52,247.17 426.14,246.32 C426.76,245.46 427.38,244.58 428.00,243.72 C428.62,242.86 429.24,241.99 429.86,241.17 C430.48,240.36 431.10,239.52 431.73,238.82 C432.35,238.12 432.97,237.58 433.59,236.99 C434.21,236.40 434.83,235.95 435.45,235.30 C436.07,234.66 436.69,234.00 437.31,233.11 C437.94,232.21 438.56,231.08 439.18,229.93 C439.80,228.77 440.42,227.49 441.04,226.19 C441.66,224.89 442.28,223.51 442.90,222.14 C443.52,220.77 444.14,219.34 444.77,217.96 C445.39,216.58 446.01,215.18 446.63,213.85 C447.25,212.52 447.87,211.25 448.49,209.98 C449.11,208.71 449.73,207.48 450.35,206.20 C450.98,204.92 451.60,203.60 452.22,202.30 C452.84,201.00 453.46,199.69 454.08,198.42 C454.70,197.14 455.32,195.87 455.94,194.67 C456.56,193.47 457.18,192.29 457.81,191.20 C458.43,190.11 459.05,189.06 459.67,188.12 C460.29,187.19 460.91,186.31 461.53,185.58 C462.15,184.85 462.77,184.24 463.39,183.75 C464.02,183.27 464.64,182.93 465.26,182.68 C465.88,182.44 466.50,182.32 467.12,182.29 C467.74,182.25 468.36,182.33 468.98,182.47 C469.60,182.61 470.22,182.84 470.85,183.14 C471.47,183.44 472.09,183.82 472.71,184.26 C473.33,184.71 473.95,185.24 474.57,185.83 C475.19,186.41 475.81,187.07 476.43,187.77 C477.06,188.47 477.68,189.24 478.30,190.04 C478.92,190.84 479.54,191.70 480.16,192.58 C480.78,193.47 481.40,194.32 482.02,195.34 C482.64,196.36 483.26,197.45 483.89,198.69 C484.51,199.92 485.13,201.35 485.75,202.75 C486.37,204.15 486.99,205.67 487.61,207.08 C488.23,208.50 488.85,209.96 489.47,211.25 C490.10,212.53 490.72,213.79 491.34,214.80 C491.96,215.81 492.89,216.88 493.20,217.30" fill="none" stroke="#ff6060" stroke-width="1.8" opacity="0.85" clip-path="url(#clipD)"/>
<path d="M362.80,271.47 C363.11,271.47 364.04,271.48 364.66,271.49 C365.28,271.50 365.90,271.50 366.53,271.51 C367.15,271.52 367.77,271.52 368.39,271.53 C369.01,271.54 369.63,271.55 370.25,271.56 C370.87,271.57 371.49,271.58 372.11,271.59 C372.74,271.60 373.36,271.62 373.98,271.63 C374.60,271.65 375.22,271.67 375.84,271.69 C376.46,271.71 377.08,271.73 377.70,271.76 C378.32,271.78 378.94,271.81 379.57,271.85 C380.19,271.88 380.81,271.91 381.43,271.96 C382.05,272.00 382.67,272.06 383.29,272.13 C383.91,272.20 384.53,272.28 385.15,272.38 C385.78,272.47 386.40,272.57 387.02,272.68 C387.64,272.78 388.26,272.89 388.88,273.00 C389.50,273.11 390.12,273.22 390.74,273.32 C391.36,273.42 391.98,273.52 392.61,273.61 C393.23,273.70 393.85,273.78 394.47,273.84 C395.09,273.90 395.71,273.96 396.33,273.99 C396.95,274.02 397.57,274.03 398.19,274.02 C398.82,274.00 399.44,273.97 400.06,273.91 C400.68,273.84 401.30,273.75 401.92,273.63 C402.54,273.51 403.16,273.35 403.78,273.18 C404.40,273.01 405.02,272.81 405.65,272.60 C406.27,272.39 406.89,272.15 407.51,271.90 C408.13,271.66 408.75,271.39 409.37,271.12 C409.99,270.85 410.61,270.57 411.23,270.29 C411.86,270.00 412.48,269.71 413.10,269.42 C413.72,269.12 414.34,268.84 414.96,268.54 C415.58,268.24 416.20,267.94 416.82,267.62 C417.44,267.31 418.06,266.97 418.69,266.63 C419.31,266.29 419.93,265.93 420.55,265.57 C421.17,265.21 421.79,264.84 422.41,264.47 C423.03,264.10 423.65,263.72 424.27,263.34 C424.90,262.97 425.52,262.58 426.14,262.21 C426.76,261.83 427.38,261.46 428.00,261.09 C428.62,260.72 429.24,260.35 429.86,260.00 C430.48,259.65 431.10,259.31 431.73,258.98 C432.35,258.65 432.97,258.34 433.59,258.02 C434.21,257.71 434.83,257.40 435.45,257.09 C436.07,256.78 436.69,256.47 437.31,256.14 C437.94,255.82 438.56,255.49 439.18,255.15 C439.80,254.80 440.42,254.44 441.04,254.06 C441.66,253.68 442.28,253.28 442.90,252.84 C443.52,252.41 444.14,251.96 444.77,251.46 C445.39,250.96 446.01,250.42 446.63,249.83 C447.25,249.25 447.87,248.62 448.49,247.96 C449.11,247.31 449.73,246.61 450.35,245.90 C450.98,245.20 451.60,244.46 452.22,243.73 C452.84,242.99 453.46,242.24 454.08,241.49 C454.70,240.75 455.32,240.03 455.94,239.26 C456.56,238.49 457.18,237.71 457.81,236.86 C458.43,236.02 459.05,235.11 459.67,234.21 C460.29,233.31 460.91,232.37 461.53,231.47 C462.15,230.57 462.77,229.66 463.39,228.82 C464.02,227.98 464.64,227.16 465.26,226.44 C465.88,225.73 466.50,225.04 467.12,224.51 C467.74,223.98 468.36,223.49 468.98,223.26 C469.60,223.04 470.22,223.06 470.85,223.16 C471.47,223.26 472.09,223.58 472.71,223.86 C473.33,224.14 473.95,224.55 474.57,224.84 C475.19,225.13 475.81,225.41 476.43,225.60 C477.06,225.78 477.68,225.85 478.30,225.95 C478.92,226.05 479.54,226.10 480.16,226.21 C480.78,226.32 481.40,226.41 482.02,226.60 C482.64,226.79 483.26,226.99 483.89,227.34 C484.51,227.70 485.13,228.14 485.75,228.71 C486.37,229.29 486.99,230.06 487.61,230.80 C488.23,231.54 488.85,232.41 489.47,233.17 C490.10,233.93 490.72,234.73 491.34,235.34 C491.96,235.95 492.89,236.57 493.20,236.82" fill="none" stroke="#f0c0a8" stroke-width="1.2" clip-path="url(#clipD)"/>
<path d="M362.80,270.98 C363.11,270.98 364.04,271.00 364.66,271.00 C365.28,271.01 365.90,271.02 366.53,271.02 C367.15,271.03 367.77,271.04 368.39,271.04 C369.01,271.05 369.63,271.06 370.25,271.07 C370.87,271.08 371.49,271.09 372.11,271.10 C372.74,271.11 373.36,271.13 373.98,271.14 C374.60,271.16 375.22,271.18 375.84,271.20 C376.46,271.22 377.08,271.24 377.70,271.27 C378.32,271.30 378.94,271.32 379.57,271.36 C380.19,271.39 380.81,271.42 381.43,271.47 C382.05,271.52 382.67,271.57 383.29,271.64 C383.91,271.71 384.53,271.81 385.15,271.90 C385.78,272.00 386.40,272.11 387.02,272.21 C387.64,272.32 388.26,272.44 388.88,272.55 C389.50,272.66 390.12,272.78 390.74,272.88 C391.36,272.99 391.98,273.09 392.61,273.18 C393.23,273.27 393.85,273.35 394.47,273.41 C395.09,273.48 395.71,273.53 396.33,273.55 C396.95,273.58 397.57,273.58 398.19,273.56 C398.82,273.54 399.44,273.50 400.06,273.42 C400.68,273.34 401.30,273.22 401.92,273.08 C402.54,272.93 403.16,272.75 403.78,272.54 C404.40,272.33 405.02,272.09 405.65,271.84 C406.27,271.59 406.89,271.31 407.51,271.02 C408.13,270.74 408.75,270.43 409.37,270.12 C409.99,269.82 410.61,269.50 411.23,269.18 C411.86,268.87 412.48,268.54 413.10,268.23 C413.72,267.92 414.34,267.62 414.96,267.32 C415.58,267.02 416.20,266.72 416.82,266.41 C417.44,266.09 418.06,265.77 418.69,265.44 C419.31,265.11 419.93,264.78 420.55,264.44 C421.17,264.10 421.79,263.75 422.41,263.41 C423.03,263.06 423.65,262.71 424.27,262.36 C424.90,262.02 425.52,261.66 426.14,261.32 C426.76,260.97 427.38,260.62 428.00,260.28 C428.62,259.94 429.24,259.57 429.86,259.27 C430.48,258.97 431.10,258.73 431.73,258.47 C432.35,258.21 432.97,258.05 433.59,257.69 C434.21,257.34 434.83,256.88 435.45,256.34 C436.07,255.80 436.69,255.10 437.31,254.45 C437.94,253.81 438.56,253.14 439.18,252.46 C439.80,251.79 440.42,251.10 441.04,250.40 C441.66,249.70 442.28,248.99 442.90,248.28 C443.52,247.56 444.14,246.84 444.77,246.12 C445.39,245.40 446.01,244.67 446.63,243.95 C447.25,243.22 447.87,242.50 448.49,241.78 C449.11,241.07 449.73,240.35 450.35,239.65 C450.98,238.95 451.60,238.25 452.22,237.57 C452.84,236.89 453.46,236.21 454.08,235.56 C454.70,234.91 455.32,234.28 455.94,233.65 C456.56,233.01 457.18,232.38 457.81,231.75 C458.43,231.11 459.05,230.46 459.67,229.83 C460.29,229.21 460.91,228.58 461.53,228.00 C462.15,227.42 462.77,226.85 463.39,226.35 C464.02,225.85 464.64,225.37 465.26,224.98 C465.88,224.59 466.50,224.25 467.12,224.00 C467.74,223.76 468.36,223.59 468.98,223.51 C469.60,223.43 470.22,223.45 470.85,223.53 C471.47,223.60 472.09,223.76 472.71,223.95 C473.33,224.15 473.95,224.41 474.57,224.68 C475.19,224.96 475.81,225.29 476.43,225.61 C477.06,225.93 477.68,226.29 478.30,226.62 C478.92,226.95 479.54,227.27 480.16,227.61 C480.78,227.94 481.40,228.24 482.02,228.62 C482.64,228.99 483.26,229.43 483.89,229.86 C484.51,230.30 485.13,230.78 485.75,231.24 C486.37,231.71 486.99,232.19 487.61,232.64 C488.23,233.10 488.85,233.55 489.47,233.95 C490.10,234.35 490.72,234.74 491.34,235.06 C491.96,235.37 492.89,235.71 493.20,235.84" fill="none" stroke="#e09878" stroke-width="1.3" clip-path="url(#clipD)"/>
<path d="M362.80,266.34 C363.11,266.35 364.04,266.36 364.66,266.36 C365.28,266.36 365.90,266.36 366.53,266.36 C367.15,266.36 367.77,266.36 368.39,266.36 C369.01,266.36 369.63,266.36 370.25,266.36 C370.87,266.37 371.49,266.37 372.11,266.37 C372.74,266.38 373.36,266.39 373.98,266.40 C374.60,266.42 375.22,266.43 375.84,266.46 C376.46,266.48 377.08,266.50 377.70,266.54 C378.32,266.57 378.94,266.61 379.57,266.66 C380.19,266.71 380.81,266.76 381.43,266.83 C382.05,266.91 382.67,266.99 383.29,267.11 C383.91,267.22 384.53,267.36 385.15,267.52 C385.78,267.67 386.40,267.84 387.02,268.01 C387.64,268.18 388.26,268.37 388.88,268.55 C389.50,268.73 390.12,268.92 390.74,269.09 C391.36,269.26 391.98,269.43 392.61,269.58 C393.23,269.73 393.85,269.88 394.47,269.99 C395.09,270.11 395.71,270.20 396.33,270.27 C396.95,270.33 397.57,270.37 398.19,270.37 C398.82,270.36 399.44,270.34 400.06,270.25 C400.68,270.16 401.30,270.02 401.92,269.82 C402.54,269.63 403.16,269.37 403.78,269.08 C404.40,268.79 405.02,268.45 405.65,268.10 C406.27,267.75 406.89,267.36 407.51,266.97 C408.13,266.58 408.75,266.16 409.37,265.76 C409.99,265.35 410.61,264.94 411.23,264.55 C411.86,264.16 412.48,263.77 413.10,263.41 C413.72,263.06 414.34,262.74 414.96,262.44 C415.58,262.14 416.20,261.87 416.82,261.60 C417.44,261.32 418.06,261.06 418.69,260.80 C419.31,260.54 419.93,260.29 420.55,260.04 C421.17,259.79 421.79,259.54 422.41,259.30 C423.03,259.05 423.65,258.81 424.27,258.57 C424.90,258.33 425.52,258.09 426.14,257.84 C426.76,257.60 427.38,257.35 428.00,257.10 C428.62,256.85 429.24,256.56 429.86,256.34 C430.48,256.12 431.10,255.98 431.73,255.79 C432.35,255.61 432.97,255.53 433.59,255.22 C434.21,254.90 434.83,254.47 435.45,253.90 C436.07,253.33 436.69,252.54 437.31,251.80 C437.94,251.05 438.56,250.25 439.18,249.43 C439.80,248.61 440.42,247.75 441.04,246.89 C441.66,246.04 442.28,245.15 442.90,244.29 C443.52,243.42 444.14,242.55 444.77,241.71 C445.39,240.87 446.01,240.04 446.63,239.26 C447.25,238.48 447.87,237.72 448.49,237.03 C449.11,236.34 449.73,235.73 450.35,235.10 C450.98,234.48 451.60,233.88 452.22,233.29 C452.84,232.69 453.46,232.11 454.08,231.55 C454.70,230.98 455.32,230.43 455.94,229.90 C456.56,229.38 457.18,228.86 457.81,228.38 C458.43,227.89 459.05,227.42 459.67,226.98 C460.29,226.54 460.91,226.13 461.53,225.74 C462.15,225.36 462.77,225.00 463.39,224.67 C464.02,224.35 464.64,224.03 465.26,223.79 C465.88,223.56 466.50,223.34 467.12,223.25 C467.74,223.15 468.36,223.15 468.98,223.21 C469.60,223.26 470.22,223.41 470.85,223.58 C471.47,223.75 472.09,223.99 472.71,224.23 C473.33,224.48 473.95,224.77 474.57,225.06 C475.19,225.35 475.81,225.64 476.43,225.97 C477.06,226.31 477.68,226.67 478.30,227.07 C478.92,227.46 479.54,227.89 480.16,228.33 C480.78,228.77 481.40,229.24 482.02,229.70 C482.64,230.17 483.26,230.65 483.89,231.13 C484.51,231.60 485.13,232.08 485.75,232.53 C486.37,232.99 486.99,233.45 487.61,233.87 C488.23,234.29 488.85,234.70 489.47,235.07 C490.10,235.44 490.72,235.78 491.34,236.07 C491.96,236.37 492.89,236.70 493.20,236.82" fill="none" stroke="#5a3020" stroke-width="1.2" clip-path="url(#clipD)"/>
<path d="M362.80,266.10 C363.11,266.10 364.04,266.09 364.66,266.08 C365.28,266.08 365.90,266.08 366.53,266.08 C367.15,266.08 367.77,266.08 368.39,266.07 C369.01,266.07 369.63,266.07 370.25,266.07 C370.87,266.07 371.49,266.06 372.11,266.05 C372.74,266.05 373.36,266.04 373.98,266.02 C374.60,266.01 375.22,265.99 375.84,265.97 C376.46,265.95 377.08,265.92 377.70,265.89 C378.32,265.86 378.94,265.82 379.57,265.77 C380.19,265.73 380.81,265.67 381.43,265.61 C382.05,265.55 382.67,265.49 383.29,265.43 C383.91,265.36 384.53,265.30 385.15,265.24 C385.78,265.17 386.40,265.10 387.02,265.03 C387.64,264.95 388.26,264.88 388.88,264.79 C389.50,264.71 390.12,264.62 390.74,264.53 C391.36,264.43 391.98,264.33 392.61,264.22 C393.23,264.11 393.85,264.00 394.47,263.87 C395.09,263.74 395.71,263.61 396.33,263.46 C396.95,263.31 397.57,263.16 398.19,262.99 C398.82,262.82 399.44,262.63 400.06,262.44 C400.68,262.25 401.30,262.04 401.92,261.84 C402.54,261.63 403.16,261.41 403.78,261.19 C404.40,260.97 405.02,260.74 405.65,260.50 C406.27,260.26 406.89,260.02 407.51,259.76 C408.13,259.51 408.75,259.24 409.37,258.96 C409.99,258.69 410.61,258.40 411.23,258.10 C411.86,257.80 412.48,257.49 413.10,257.17 C413.72,256.85 414.34,256.51 414.96,256.16 C415.58,255.81 416.20,255.45 416.82,255.07 C417.44,254.70 418.06,254.32 418.69,253.90 C419.31,253.48 419.93,253.05 420.55,252.57 C421.17,252.10 421.79,251.59 422.41,251.07 C423.03,250.54 423.65,249.98 424.27,249.42 C424.90,248.86 425.52,248.27 426.14,247.69 C426.76,247.10 427.38,246.50 428.00,245.91 C428.62,245.31 429.24,244.71 429.86,244.13 C430.48,243.54 431.10,242.96 431.73,242.40 C432.35,241.84 432.97,241.28 433.59,240.76 C434.21,240.24 434.83,239.74 435.45,239.26 C436.07,238.78 436.69,238.32 437.31,237.86 C437.94,237.40 438.56,236.95 439.18,236.50 C439.80,236.06 440.42,235.62 441.04,235.18 C441.66,234.74 442.28,234.31 442.90,233.89 C443.52,233.46 444.14,233.04 444.77,232.63 C445.39,232.21 446.01,231.80 446.63,231.39 C447.25,230.99 447.87,230.59 448.49,230.19 C449.11,229.79 449.73,229.40 450.35,229.01 C450.98,228.62 451.60,228.23 452.22,227.85 C452.84,227.47 453.46,227.09 454.08,226.71 C454.70,226.34 455.32,225.97 455.94,225.60 C456.56,225.23 457.18,224.86 457.81,224.50 C458.43,224.13 459.05,223.77 459.67,223.42 C460.29,223.06 460.91,222.71 461.53,222.36 C462.15,222.01 462.77,221.67 463.39,221.33 C464.02,220.99 464.64,220.65 465.26,220.32 C465.88,219.99 466.50,219.66 467.12,219.34 C467.74,219.02 468.36,218.70 468.98,218.38 C469.60,218.07 470.22,217.76 470.85,217.46 C471.47,217.15 472.09,216.85 472.71,216.56 C473.33,216.27 473.95,215.98 474.57,215.69 C475.19,215.41 475.81,215.13 476.43,214.86 C477.06,214.59 477.68,214.32 478.30,214.05 C478.92,213.79 479.54,213.53 480.16,213.27 C480.78,213.02 481.40,212.77 482.02,212.52 C482.64,212.28 483.26,212.04 483.89,211.82 C484.51,211.59 485.13,211.37 485.75,211.17 C486.37,210.96 486.99,210.76 487.61,210.57 C488.23,210.39 488.85,210.21 489.47,210.05 C490.10,209.89 490.72,209.74 491.34,209.61 C491.96,209.47 492.89,209.31 493.20,209.25" fill="none" stroke="#c8703a" stroke-width="1.4" clip-path="url(#clipD)"/>
<path d="M362.80,266.10 C363.11,266.10 364.04,266.11 364.66,266.12 C365.28,266.12 365.90,266.12 366.53,266.13 C367.15,266.13 367.77,266.13 368.39,266.13 C369.01,266.14 369.63,266.14 370.25,266.14 C370.87,266.15 371.49,266.15 372.11,266.16 C372.74,266.17 373.36,266.18 373.98,266.19 C374.60,266.21 375.22,266.22 375.84,266.25 C376.46,266.27 377.08,266.29 377.70,266.33 C378.32,266.36 378.94,266.39 379.57,266.44 C380.19,266.48 380.81,266.52 381.43,266.59 C382.05,266.65 382.67,266.73 383.29,266.84 C383.91,266.94 384.53,267.08 385.15,267.22 C385.78,267.36 386.40,267.52 387.02,267.68 C387.64,267.84 388.26,268.01 388.88,268.18 C389.50,268.34 390.12,268.52 390.74,268.67 C391.36,268.83 391.98,268.98 392.61,269.12 C393.23,269.25 393.85,269.38 394.47,269.47 C395.09,269.56 395.71,269.64 396.33,269.68 C396.95,269.72 397.57,269.74 398.19,269.71 C398.82,269.69 399.44,269.64 400.06,269.52 C400.68,269.40 401.30,269.22 401.92,269.00 C402.54,268.77 403.16,268.47 403.78,268.14 C404.40,267.82 405.02,267.44 405.65,267.04 C406.27,266.65 406.89,266.21 407.51,265.77 C408.13,265.34 408.75,264.88 409.37,264.43 C409.99,263.98 410.61,263.51 411.23,263.08 C411.86,262.65 412.48,262.21 413.10,261.82 C413.72,261.43 414.34,261.07 414.96,260.73 C415.58,260.39 416.20,260.09 416.82,259.79 C417.44,259.48 418.06,259.19 418.69,258.90 C419.31,258.61 419.93,258.33 420.55,258.05 C421.17,257.77 421.79,257.50 422.41,257.23 C423.03,256.95 423.65,256.69 424.27,256.42 C424.90,256.14 425.52,255.87 426.14,255.60 C426.76,255.32 427.38,255.05 428.00,254.77 C428.62,254.48 429.24,254.16 429.86,253.90 C430.48,253.64 431.10,253.45 431.73,253.22 C432.35,252.98 432.97,252.85 433.59,252.47 C434.21,252.10 434.83,251.60 435.45,250.97 C436.07,250.34 436.69,249.51 437.31,248.71 C437.94,247.91 438.56,247.06 439.18,246.19 C439.80,245.32 440.42,244.41 441.04,243.50 C441.66,242.59 442.28,241.65 442.90,240.72 C443.52,239.79 444.14,238.85 444.77,237.93 C445.39,237.01 446.01,236.10 446.63,235.21 C447.25,234.33 447.87,233.49 448.49,232.61 C449.11,231.74 449.73,230.84 450.35,229.94 C450.98,229.04 451.60,228.12 452.22,227.22 C452.84,226.32 453.46,225.41 454.08,224.53 C454.70,223.66 455.32,222.79 455.94,221.98 C456.56,221.17 457.18,220.38 457.81,219.66 C458.43,218.94 459.05,218.27 459.67,217.65 C460.29,217.04 460.91,216.51 461.53,216.00 C462.15,215.48 462.77,215.01 463.39,214.58 C464.02,214.14 464.64,213.75 465.26,213.38 C465.88,213.02 466.50,212.69 467.12,212.39 C467.74,212.09 468.36,211.83 468.98,211.59 C469.60,211.35 470.22,211.14 470.85,210.95 C471.47,210.77 472.09,210.59 472.71,210.47 C473.33,210.35 473.95,210.26 474.57,210.25 C475.19,210.23 475.81,210.28 476.43,210.38 C477.06,210.47 477.68,210.63 478.30,210.82 C478.92,211.00 479.54,211.24 480.16,211.51 C480.78,211.78 481.40,212.06 482.02,212.42 C482.64,212.78 483.26,213.20 483.89,213.68 C484.51,214.16 485.13,214.74 485.75,215.31 C486.37,215.89 486.99,216.52 487.61,217.12 C488.23,217.71 488.85,218.34 489.47,218.88 C490.10,219.43 490.72,219.97 491.34,220.40 C491.96,220.82 492.89,221.27 493.20,221.45" fill="none" stroke="#4a2414" stroke-width="1.5" clip-path="url(#clipD)"/>
<line x1="362.8" y1="223" x2="493.2" y2="223" stroke="#000" stroke-width="1.5" stroke-dasharray="1.5,1.5"/>
<text x="507.60" y="28.30" font-size="15.5" text-anchor="start" fill="#000" font-weight="bold">E</text>
<rect x="553.8" y="18.00" width="129.7" height="2.30" fill="url(#eg0)"/>
<rect x="553.8" y="20.00" width="129.7" height="2.30" fill="url(#eg1)"/>
<rect x="553.8" y="22.00" width="129.7" height="2.30" fill="url(#eg2)"/>
<rect x="553.8" y="24.00" width="129.7" height="2.30" fill="url(#eg3)"/>
<rect x="553.8" y="26.00" width="129.7" height="2.30" fill="url(#eg4)"/>
<rect x="553.8" y="28.00" width="129.7" height="2.30" fill="url(#eg5)"/>
<rect x="553.8" y="30.00" width="129.7" height="2.30" fill="url(#eg6)"/>
<rect x="553.8" y="32.00" width="129.7" height="2.30" fill="url(#eg7)"/>
<rect x="553.8" y="34.00" width="129.7" height="2.30" fill="url(#eg8)"/>
<rect x="553.8" y="36.00" width="129.7" height="2.30" fill="url(#eg9)"/>
<rect x="553.8" y="38.00" width="129.7" height="2.30" fill="url(#eg10)"/>
<rect x="553.8" y="40.00" width="129.7" height="2.30" fill="url(#eg11)"/>
<rect x="553.8" y="42.00" width="129.7" height="2.30" fill="url(#eg12)"/>
<rect x="553.8" y="44.00" width="129.7" height="2.30" fill="url(#eg13)"/>
<rect x="553.8" y="46.00" width="129.7" height="2.30" fill="url(#eg14)"/>
<rect x="553.8" y="48.00" width="129.7" height="2.30" fill="url(#eg15)"/>
<rect x="553.8" y="50.00" width="129.7" height="2.30" fill="url(#eg16)"/>
<rect x="553.8" y="52.00" width="129.7" height="2.30" fill="url(#eg17)"/>
<rect x="553.8" y="54.00" width="129.7" height="2.30" fill="url(#eg18)"/>
<rect x="553.8" y="56.00" width="129.7" height="2.30" fill="url(#eg19)"/>
<rect x="553.8" y="58.00" width="129.7" height="2.30" fill="url(#eg20)"/>
<rect x="553.8" y="60.00" width="129.7" height="2.30" fill="url(#eg21)"/>
<rect x="553.8" y="62.00" width="129.7" height="2.30" fill="url(#eg22)"/>
<rect x="553.8" y="64.00" width="129.7" height="2.30" fill="url(#eg23)"/>
<rect x="553.8" y="66.00" width="129.7" height="2.30" fill="url(#eg24)"/>
<rect x="553.8" y="68.00" width="129.7" height="2.30" fill="url(#eg25)"/>
<rect x="553.8" y="70.00" width="129.7" height="2.30" fill="url(#eg26)"/>
<rect x="553.8" y="72.00" width="129.7" height="2.30" fill="url(#eg27)"/>
<rect x="553.8" y="74.00" width="129.7" height="2.30" fill="url(#eg28)"/>
<rect x="553.8" y="76.00" width="129.7" height="2.30" fill="url(#eg29)"/>
<rect x="553.8" y="78.00" width="129.7" height="2.30" fill="url(#eg30)"/>
<rect x="553.8" y="80.00" width="129.7" height="2.30" fill="url(#eg31)"/>
<rect x="553.8" y="82.00" width="129.7" height="2.30" fill="url(#eg32)"/>
<rect x="553.8" y="84.00" width="129.7" height="2.30" fill="url(#eg33)"/>
<rect x="553.8" y="86.00" width="129.7" height="2.30" fill="url(#eg34)"/>
<rect x="553.8" y="88.00" width="129.7" height="2.30" fill="url(#eg35)"/>
<rect x="553.8" y="90.00" width="129.7" height="2.30" fill="url(#eg36)"/>
<rect x="553.8" y="92.00" width="129.7" height="2.30" fill="url(#eg37)"/>
<rect x="553.8" y="94.00" width="129.7" height="2.30" fill="url(#eg38)"/>
<rect x="553.8" y="96.00" width="129.7" height="2.30" fill="url(#eg39)"/>
<rect x="553.8" y="98.00" width="129.7" height="2.30" fill="url(#eg40)"/>
<rect x="553.8" y="100.00" width="129.7" height="2.30" fill="url(#eg41)"/>
<rect x="553.8" y="102.00" width="129.7" height="2.30" fill="url(#eg42)"/>
<rect x="553.8" y="104.00" width="129.7" height="2.30" fill="url(#eg43)"/>
<rect x="553.8" y="106.00" width="129.7" height="2.30" fill="url(#eg44)"/>
<rect x="553.8" y="108.00" width="129.7" height="2.30" fill="url(#eg45)"/>
<rect x="553.8" y="110.00" width="129.7" height="2.30" fill="url(#eg46)"/>
<rect x="553.8" y="112.00" width="129.7" height="2.30" fill="url(#eg47)"/>
<rect x="553.8" y="114.00" width="129.7" height="2.30" fill="url(#eg48)"/>
<rect x="553.8" y="116.00" width="129.7" height="2.30" fill="url(#eg49)"/>
<rect x="553.8" y="118.00" width="129.7" height="2.30" fill="url(#eg50)"/>
<rect x="553.8" y="120.00" width="129.7" height="2.30" fill="url(#eg51)"/>
<rect x="553.8" y="122.00" width="129.7" height="2.30" fill="url(#eg52)"/>
<rect x="553.8" y="124.00" width="129.7" height="2.30" fill="url(#eg53)"/>
<defs><linearGradient id="eg0" gradientUnits="userSpaceOnUse" x1="553.8" y1="0" x2="683.5" y2="0"><stop offset="0.00" stop-color="#e7fd8c"/><stop offset="0.25" stop-color="#fceb7d"/><stop offset="0.50" stop-color="#ffd36e"/><stop offset="0.75" stop-color="#ffb558"/><stop offset="1.00" stop-color="#fda348"/></linearGradient><linearGradient id="eg1" gradientUnits="userSpaceOnUse" x1="553.8" y1="0" x2="683.5" y2="0"><stop offset="0.00" stop-color="#e9fd8f"/><stop offset="0.25" stop-color="#fcea7e"/><stop offset="0.50" stop-color="#ffd16f"/><stop offset="0.75" stop-color="#ffb459"/><stop offset="1.00" stop-color="#fda149"/></linearGradient><linearGradient id="eg2" gradientUnits="userSpaceOnUse" x1="553.8" y1="0" x2="683.5" y2="0"><stop offset="0.00" stop-color="#ebfd92"/><stop offset="0.25" stop-color="#fde980"/><stop offset="0.50" stop-color="#ffd070"/><stop offset="0.75" stop-color="#ffb259"/><stop offset="1.00" stop-color="#fda049"/></linearGradient><linearGradient id="eg3" gradientUnits="userSpaceOnUse" x1="553.8" y1="0" x2="683.5" y2="0"><stop offset="0.00" stop-color="#ecfd95"/><stop offset="0.25" stop-color="#fde881"/><stop offset="0.50" stop-color="#ffce71"/><stop offset="0.75" stop-color="#ffb05a"/><stop offset="1.00" stop-color="#fe9e4a"/></linearGradient><linearGradient id="eg4" gradientUnits="userSpaceOnUse" x1="553.8" y1="0" x2="683.5" y2="0"><stop offset="0.00" stop-color="#eefd98"/><stop offset="0.25" stop-color="#fde783"/><stop offset="0.50" stop-color="#ffcc72"/><stop offset="0.75" stop-color="#ffaf5b"/><stop offset="1.00" stop-color="#fe9c4b"/></linearGradient><linearGradient id="eg5" gradientUnits="userSpaceOnUse" x1="553.8" y1="0" x2="683.5" y2="0"><stop offset="0.00" stop-color="#f0fd9b"/><stop offset="0.25" stop-color="#fde584"/><stop offset="0.50" stop-color="#ffca73"/><stop offset="0.75" stop-color="#ffad5b"/><stop offset="1.00" stop-color="#fe9a4b"/></linearGradient><linearGradient id="eg6" gradientUnits="userSpaceOnUse" x1="553.8" y1="0" x2="683.5" y2="0"><stop offset="0.00" stop-color="#f2fd9e"/><stop offset="0.25" stop-color="#fde486"/><stop offset="0.50" stop-color="#ffc874"/><stop offset="0.75" stop-color="#ffab5c"/><stop offset="1.00" stop-color="#fe984c"/></linearGradient><linearGradient id="eg7" gradientUnits="userSpaceOnUse" x1="553.8" y1="0" x2="683.5" y2="0"><stop offset="0.00" stop-color="#f4fca1"/><stop offset="0.25" stop-color="#fee387"/><stop offset="0.50" stop-color="#ffc775"/><stop offset="0.75" stop-color="#ffaa5c"/><stop offset="1.00" stop-color="#fe974c"/></linearGradient><linearGradient id="eg8" gradientUnits="userSpaceOnUse" x1="553.8" y1="0" x2="683.5" y2="0"><stop offset="0.00" stop-color="#f6fca4"/><stop offset="0.25" stop-color="#fee289"/><stop offset="0.50" stop-color="#ffc576"/><stop offset="0.75" stop-color="#ffa85d"/><stop offset="1.00" stop-color="#fe954d"/></linearGradient><linearGradient id="eg9" gradientUnits="userSpaceOnUse" x1="553.8" y1="0" x2="683.5" y2="0"><stop offset="0.00" stop-color="#f8fca8"/><stop offset="0.25" stop-color="#fee18a"/><stop offset="0.50" stop-color="#ffc376"/><stop offset="0.75" stop-color="#ffa75e"/><stop offset="1.00" stop-color="#fe934e"/></linearGradient><linearGradient id="eg10" gradientUnits="userSpaceOnUse" x1="553.8" y1="0" x2="683.5" y2="0"><stop offset="0.00" stop-color="#f9fcab"/><stop offset="0.25" stop-color="#fee08c"/><stop offset="0.50" stop-color="#ffc177"/><stop offset="0.75" stop-color="#ffa55e"/><stop offset="1.00" stop-color="#ff914e"/></linearGradient><linearGradient id="eg11" gradientUnits="userSpaceOnUse" x1="553.8" y1="0" x2="683.5" y2="0"><stop offset="0.00" stop-color="#fbfcae"/><stop offset="0.25" stop-color="#ffde8d"/><stop offset="0.50" stop-color="#ffc078"/><stop offset="0.75" stop-color="#ffa35f"/><stop offset="1.00" stop-color="#ff904f"/></linearGradient><linearGradient id="eg12" gradientUnits="userSpaceOnUse" x1="553.8" y1="0" x2="683.5" y2="0"><stop offset="0.00" stop-color="#fdfcb1"/><stop offset="0.25" stop-color="#ffdd8f"/><stop offset="0.50" stop-color="#ffbe79"/><stop offset="0.75" stop-color="#ffa25f"/><stop offset="1.00" stop-color="#ff8e4f"/></linearGradient><linearGradient id="eg13" gradientUnits="userSpaceOnUse" x1="553.8" y1="0" x2="683.5" y2="0"><stop offset="0.00" stop-color="#fffcb4"/><stop offset="0.25" stop-color="#ffdc90"/><stop offset="0.50" stop-color="#ffbc7a"/><stop offset="0.75" stop-color="#ffa060"/><stop offset="1.00" stop-color="#ff8c50"/></linearGradient><linearGradient id="eg14" gradientUnits="userSpaceOnUse" x1="553.8" y1="0" x2="683.5" y2="0"><stop offset="0.00" stop-color="#fffab5"/><stop offset="0.25" stop-color="#ffdb91"/><stop offset="0.50" stop-color="#ffbb7b"/><stop offset="0.75" stop-color="#ff9f61"/><stop offset="1.00" stop-color="#ff8b51"/></linearGradient><linearGradient id="eg15" gradientUnits="userSpaceOnUse" x1="553.8" y1="0" x2="683.5" y2="0"><stop offset="0.00" stop-color="#fff8b6"/><stop offset="0.25" stop-color="#ffd992"/><stop offset="0.50" stop-color="#ffb97b"/><stop offset="0.75" stop-color="#ff9d61"/><stop offset="1.00" stop-color="#ff8951"/></linearGradient><linearGradient id="eg16" gradientUnits="userSpaceOnUse" x1="553.8" y1="0" x2="683.5" y2="0"><stop offset="0.00" stop-color="#fff7b7"/><stop offset="0.25" stop-color="#ffd894"/><stop offset="0.50" stop-color="#ffb87c"/><stop offset="0.75" stop-color="#ff9c62"/><stop offset="1.00" stop-color="#ff8852"/></linearGradient><linearGradient id="eg17" gradientUnits="userSpaceOnUse" x1="553.8" y1="0" x2="683.5" y2="0"><stop offset="0.00" stop-color="#fff5b8"/><stop offset="0.25" stop-color="#ffd695"/><stop offset="0.50" stop-color="#ffb67d"/><stop offset="0.75" stop-color="#ff9a62"/><stop offset="1.00" stop-color="#ff8652"/></linearGradient><linearGradient id="eg18" gradientUnits="userSpaceOnUse" x1="553.8" y1="0" x2="683.5" y2="0"><stop offset="0.00" stop-color="#fff3b9"/><stop offset="0.25" stop-color="#ffd596"/><stop offset="0.50" stop-color="#ffb57e"/><stop offset="0.75" stop-color="#ff9963"/><stop offset="1.00" stop-color="#ff8553"/></linearGradient><linearGradient id="eg19" gradientUnits="userSpaceOnUse" x1="553.8" y1="0" x2="683.5" y2="0"><stop offset="0.00" stop-color="#fff1ba"/><stop offset="0.25" stop-color="#ffd397"/><stop offset="0.50" stop-color="#ffb37e"/><stop offset="0.75" stop-color="#ff9764"/><stop offset="1.00" stop-color="#ff8354"/></linearGradient><linearGradient id="eg20" gradientUnits="userSpaceOnUse" x1="553.8" y1="0" x2="683.5" y2="0"><stop offset="0.00" stop-color="#fff0bb"/><stop offset="0.25" stop-color="#ffd298"/><stop offset="0.50" stop-color="#ffb27f"/><stop offset="0.75" stop-color="#ff9664"/><stop offset="1.00" stop-color="#ff8254"/></linearGradient><linearGradient id="eg21" gradientUnits="userSpaceOnUse" x1="553.8" y1="0" x2="683.5" y2="0"><stop offset="0.00" stop-color="#ffeebc"/><stop offset="0.25" stop-color="#ffd099"/><stop offset="0.50" stop-color="#ffb080"/><stop offset="0.75" stop-color="#ff9465"/><stop offset="1.00" stop-color="#ff8055"/></linearGradient><linearGradient id="eg22" gradientUnits="userSpaceOnUse" x1="553.8" y1="0" x2="683.5" y2="0"><stop offset="0.00" stop-color="#ffecbd"/><stop offset="0.25" stop-color="#ffcf9b"/><stop offset="0.50" stop-color="#ffaf81"/><stop offset="0.75" stop-color="#ff9365"/><stop offset="1.00" stop-color="#ff7f55"/></linearGradient><linearGradient id="eg23" gradientUnits="userSpaceOnUse" x1="553.8" y1="0" x2="683.5" y2="0"><stop offset="0.00" stop-color="#ffeabe"/><stop offset="0.25" stop-color="#ffcd9c"/><stop offset="0.50" stop-color="#ffad81"/><stop offset="0.75" stop-color="#ff9166"/><stop offset="1.00" stop-color="#ff7d56"/></linearGradient><linearGradient id="eg24" gradientUnits="userSpaceOnUse" x1="553.8" y1="0" x2="683.5" y2="0"><stop offset="0.00" stop-color="#ffe8bf"/><stop offset="0.25" stop-color="#ffcc9d"/><stop offset="0.50" stop-color="#ffac82"/><stop offset="0.75" stop-color="#ff9067"/><stop offset="1.00" stop-color="#ff7c57"/></linearGradient><linearGradient id="eg25" gradientUnits="userSpaceOnUse" x1="553.8" y1="0" x2="683.5" y2="0"><stop offset="0.00" stop-color="#ffe7c0"/><stop offset="0.25" stop-color="#ffca9e"/><stop offset="0.50" stop-color="#ffaa83"/><stop offset="0.75" stop-color="#ff8e67"/><stop offset="1.00" stop-color="#ff7a57"/></linearGradient><linearGradient id="eg26" gradientUnits="userSpaceOnUse" x1="553.8" y1="0" x2="683.5" y2="0"><stop offset="0.00" stop-color="#ffe5c1"/><stop offset="0.25" stop-color="#ffc99f"/><stop offset="0.50" stop-color="#ffa984"/><stop offset="0.75" stop-color="#ff8d68"/><stop offset="1.00" stop-color="#ff7958"/></linearGradient><linearGradient id="eg27" gradientUnits="userSpaceOnUse" x1="553.8" y1="0" x2="683.5" y2="0"><stop offset="0.00" stop-color="#ffe3c2"/><stop offset="0.25" stop-color="#ffc7a0"/><stop offset="0.50" stop-color="#ffa784"/><stop offset="0.75" stop-color="#ff8b68"/><stop offset="1.00" stop-color="#ff7758"/></linearGradient><linearGradient id="eg28" gradientUnits="userSpaceOnUse" x1="553.8" y1="0" x2="683.5" y2="0"><stop offset="0.00" stop-color="#ffe1c2"/><stop offset="0.25" stop-color="#ffc4a0"/><stop offset="0.50" stop-color="#ffa584"/><stop offset="0.75" stop-color="#ff8a69"/><stop offset="1.00" stop-color="#ff7659"/></linearGradient><linearGradient id="eg29" gradientUnits="userSpaceOnUse" x1="553.8" y1="0" x2="683.5" y2="0"><stop offset="0.00" stop-color="#ffdfc3"/><stop offset="0.25" stop-color="#ffc19f"/><stop offset="0.50" stop-color="#ffa284"/><stop offset="0.75" stop-color="#ff896a"/><stop offset="1.00" stop-color="#ff755a"/></linearGradient><linearGradient id="eg30" gradientUnits="userSpaceOnUse" x1="553.8" y1="0" x2="683.5" y2="0"><stop offset="0.00" stop-color="#ffddc3"/><stop offset="0.25" stop-color="#ffbe9f"/><stop offset="0.50" stop-color="#ffa085"/><stop offset="0.75" stop-color="#ff876b"/><stop offset="1.00" stop-color="#ff745b"/></linearGradient><linearGradient id="eg31" gradientUnits="userSpaceOnUse" x1="553.8" y1="0" x2="683.5" y2="0"><stop offset="0.00" stop-color="#ffdbc3"/><stop offset="0.25" stop-color="#ffbb9f"/><stop offset="0.50" stop-color="#ff9e85"/><stop offset="0.75" stop-color="#ff866c"/><stop offset="1.00" stop-color="#ff735c"/></linearGradient><linearGradient id="eg32" gradientUnits="userSpaceOnUse" x1="553.8" y1="0" x2="683.5" y2="0"><stop offset="0.00" stop-color="#ffd9c4"/><stop offset="0.25" stop-color="#ffb99e"/><stop offset="0.50" stop-color="#ff9c85"/><stop offset="0.75" stop-color="#ff856d"/><stop offset="1.00" stop-color="#ff715d"/></linearGradient><linearGradient id="eg33" gradientUnits="userSpaceOnUse" x1="553.8" y1="0" x2="683.5" y2="0"><stop offset="0.00" stop-color="#ffd7c4"/><stop offset="0.25" stop-color="#ffb69e"/><stop offset="0.50" stop-color="#ff9a85"/><stop offset="0.75" stop-color="#ff836e"/><stop offset="1.00" stop-color="#ff705e"/></linearGradient><linearGradient id="eg34" gradientUnits="userSpaceOnUse" x1="553.8" y1="0" x2="683.5" y2="0"><stop offset="0.00" stop-color="#ffd6c4"/><stop offset="0.25" stop-color="#ffb39e"/><stop offset="0.50" stop-color="#ff9785"/><stop offset="0.75" stop-color="#ff826f"/><stop offset="1.00" stop-color="#ff6f5f"/></linearGradient><linearGradient id="eg35" gradientUnits="userSpaceOnUse" x1="553.8" y1="0" x2="683.5" y2="0"><stop offset="0.00" stop-color="#ffd4c5"/><stop offset="0.25" stop-color="#ffb09d"/><stop offset="0.50" stop-color="#ff9585"/><stop offset="0.75" stop-color="#ff8170"/><stop offset="1.00" stop-color="#ff6e60"/></linearGradient><linearGradient id="eg36" gradientUnits="userSpaceOnUse" x1="553.8" y1="0" x2="683.5" y2="0"><stop offset="0.00" stop-color="#ffd2c5"/><stop offset="0.25" stop-color="#ffad9d"/><stop offset="0.50" stop-color="#ff9385"/><stop offset="0.75" stop-color="#ff7f70"/><stop offset="1.00" stop-color="#ff6d60"/></linearGradient><linearGradient id="eg37" gradientUnits="userSpaceOnUse" x1="553.8" y1="0" x2="683.5" y2="0"><stop offset="0.00" stop-color="#ffd0c5"/><stop offset="0.25" stop-color="#ffaa9d"/><stop offset="0.50" stop-color="#ff9186"/><stop offset="0.75" stop-color="#ff7e71"/><stop offset="1.00" stop-color="#ff6c61"/></linearGradient><linearGradient id="eg38" gradientUnits="userSpaceOnUse" x1="553.8" y1="0" x2="683.5" y2="0"><stop offset="0.00" stop-color="#ffcec5"/><stop offset="0.25" stop-color="#ffa89d"/><stop offset="0.50" stop-color="#ff8e86"/><stop offset="0.75" stop-color="#ff7d72"/><stop offset="1.00" stop-color="#ff6a62"/></linearGradient><linearGradient id="eg39" gradientUnits="userSpaceOnUse" x1="553.8" y1="0" x2="683.5" y2="0"><stop offset="0.00" stop-color="#ffccc6"/><stop offset="0.25" stop-color="#ffa59c"/><stop offset="0.50" stop-color="#ff8c86"/><stop offset="0.75" stop-color="#ff7b73"/><stop offset="1.00" stop-color="#ff6963"/></linearGradient><linearGradient id="eg40" gradientUnits="userSpaceOnUse" x1="553.8" y1="0" x2="683.5" y2="0"><stop offset="0.00" stop-color="#ffcac6"/><stop offset="0.25" stop-color="#ffa29c"/><stop offset="0.50" stop-color="#ff8a86"/><stop offset="0.75" stop-color="#ff7a74"/><stop offset="1.00" stop-color="#ff6864"/></linearGradient><linearGradient id="eg41" gradientUnits="userSpaceOnUse" x1="553.8" y1="0" x2="683.5" y2="0"><stop offset="0.00" stop-color="#ffc7c6"/><stop offset="0.25" stop-color="#ffa19d"/><stop offset="0.50" stop-color="#ff8987"/><stop offset="0.75" stop-color="#ff7975"/><stop offset="1.00" stop-color="#ff6765"/></linearGradient><linearGradient id="eg42" gradientUnits="userSpaceOnUse" x1="553.8" y1="0" x2="683.5" y2="0"><stop offset="0.00" stop-color="#ffc5c6"/><stop offset="0.25" stop-color="#ffa09e"/><stop offset="0.50" stop-color="#ff8987"/><stop offset="0.75" stop-color="#ff7876"/><stop offset="1.00" stop-color="#ff6567"/></linearGradient><linearGradient id="eg43" gradientUnits="userSpaceOnUse" x1="553.8" y1="0" x2="683.5" y2="0"><stop offset="0.00" stop-color="#ffc2c6"/><stop offset="0.25" stop-color="#ff9f9f"/><stop offset="0.50" stop-color="#ff8888"/><stop offset="0.75" stop-color="#ff7777"/><stop offset="1.00" stop-color="#ff6468"/></linearGradient><linearGradient id="eg44" gradientUnits="userSpaceOnUse" x1="553.8" y1="0" x2="683.5" y2="0"><stop offset="0.00" stop-color="#ffc0c5"/><stop offset="0.25" stop-color="#ff9ea0"/><stop offset="0.50" stop-color="#ff8789"/><stop offset="0.75" stop-color="#ff7678"/><stop offset="1.00" stop-color="#ff636a"/></linearGradient><linearGradient id="eg45" gradientUnits="userSpaceOnUse" x1="553.8" y1="0" x2="683.5" y2="0"><stop offset="0.00" stop-color="#ffbdc5"/><stop offset="0.25" stop-color="#ff9da0"/><stop offset="0.50" stop-color="#ff868a"/><stop offset="0.75" stop-color="#ff7578"/><stop offset="1.00" stop-color="#ff616b"/></linearGradient><linearGradient id="eg46" gradientUnits="userSpaceOnUse" x1="553.8" y1="0" x2="683.5" y2="0"><stop offset="0.00" stop-color="#ffbbc5"/><stop offset="0.25" stop-color="#ff9ca1"/><stop offset="0.50" stop-color="#ff868a"/><stop offset="0.75" stop-color="#ff7479"/><stop offset="1.00" stop-color="#ff606d"/></linearGradient><linearGradient id="eg47" gradientUnits="userSpaceOnUse" x1="553.8" y1="0" x2="683.5" y2="0"><stop offset="0.00" stop-color="#ffb8c5"/><stop offset="0.25" stop-color="#ff9ba2"/><stop offset="0.50" stop-color="#ff858b"/><stop offset="0.75" stop-color="#ff737a"/><stop offset="1.00" stop-color="#ff5f6e"/></linearGradient><linearGradient id="eg48" gradientUnits="userSpaceOnUse" x1="553.8" y1="0" x2="683.5" y2="0"><stop offset="0.00" stop-color="#ffb6c5"/><stop offset="0.25" stop-color="#ff9aa3"/><stop offset="0.50" stop-color="#ff848c"/><stop offset="0.75" stop-color="#ff727b"/><stop offset="1.00" stop-color="#ff5d70"/></linearGradient><linearGradient id="eg49" gradientUnits="userSpaceOnUse" x1="553.8" y1="0" x2="683.5" y2="0"><stop offset="0.00" stop-color="#ffb3c5"/><stop offset="0.25" stop-color="#ff99a4"/><stop offset="0.50" stop-color="#ff838d"/><stop offset="0.75" stop-color="#ff717c"/><stop offset="1.00" stop-color="#ff5c71"/></linearGradient><linearGradient id="eg50" gradientUnits="userSpaceOnUse" x1="553.8" y1="0" x2="683.5" y2="0"><stop offset="0.00" stop-color="#ffb1c5"/><stop offset="0.25" stop-color="#ff98a5"/><stop offset="0.50" stop-color="#ff838d"/><stop offset="0.75" stop-color="#ff707d"/><stop offset="1.00" stop-color="#ff5b73"/></linearGradient><linearGradient id="eg51" gradientUnits="userSpaceOnUse" x1="553.8" y1="0" x2="683.5" y2="0"><stop offset="0.00" stop-color="#ffaec4"/><stop offset="0.25" stop-color="#ff97a6"/><stop offset="0.50" stop-color="#ff828e"/><stop offset="0.75" stop-color="#ff6f7e"/><stop offset="1.00" stop-color="#ff5974"/></linearGradient><linearGradient id="eg52" gradientUnits="userSpaceOnUse" x1="553.8" y1="0" x2="683.5" y2="0"><stop offset="0.00" stop-color="#ffacc4"/><stop offset="0.25" stop-color="#ff96a7"/><stop offset="0.50" stop-color="#ff818f"/><stop offset="0.75" stop-color="#ff6e7f"/><stop offset="1.00" stop-color="#ff5876"/></linearGradient><linearGradient id="eg53" gradientUnits="userSpaceOnUse" x1="553.8" y1="0" x2="683.5" y2="0"><stop offset="0.00" stop-color="#ffa9c4"/><stop offset="0.25" stop-color="#ff95a8"/><stop offset="0.50" stop-color="#ff8090"/><stop offset="0.75" stop-color="#ff6d80"/><stop offset="1.00" stop-color="#ff5777"/></linearGradient></defs>
<path d="M553.8,18 L683.5,18 L683.5,126 L553.8,126" fill="none" stroke="#333" stroke-width="1.1"/>
<line x1="553.5" y1="18" x2="553.5" y2="126" stroke="#b8b8b8" stroke-width="1"/>
<line x1="603.7" y1="126" x2="603.7" y2="120" stroke="#333" stroke-width="1.1"/>
<line x1="553.8" y1="81.2" x2="559.8" y2="81.2" stroke="#333" stroke-width="1.1"/>
<line x1="653.4" y1="126" x2="653.4" y2="120" stroke="#333" stroke-width="1.1"/>
<line x1="553.8" y1="35.9" x2="559.8" y2="35.9" stroke="#333" stroke-width="1.1"/>
<text x="554.00" y="141.20" font-size="13" text-anchor="middle" fill="#000" >0.35</text>
<text x="601.50" y="141.20" font-size="13" text-anchor="middle" fill="#000" >0.4</text>
<text x="652.60" y="141.20" font-size="13" text-anchor="middle" fill="#000" >0.45</text>
<text x="549.20" y="129.10" font-size="13" text-anchor="end" fill="#000" >0.35</text>
<text x="549.20" y="86.40" font-size="13" text-anchor="end" fill="#000" >0.4</text>
<text x="549.20" y="41.40" font-size="13" text-anchor="end" fill="#000" >0.45</text>
<text x="617.5" y="155.5" font-size="13.5" font-style="italic" text-anchor="middle">x</text>
<text transform="translate(518.7,74.4) rotate(-90)" font-size="13.5" font-style="italic" text-anchor="middle">y</text>
<text x="650.50" y="32.50" font-size="13" text-anchor="middle" fill="#000" >(reflection)</text>
<text x="589.00" y="64.60" font-size="13" text-anchor="middle" fill="#000" >(scattering)</text>
<ellipse cx="577.1" cy="87.6" rx="13.3" ry="8.6" fill="none" stroke="#555" stroke-width="0.75"/>
<ellipse cx="607.8" cy="78" rx="12.7" ry="8.2" fill="none" stroke="#555" stroke-width="0.75"/>
<circle cx="572" cy="90" r="2.4" fill="none" stroke="#aaa" stroke-width="0.7"/>
<circle cx="576" cy="87.5" r="2.4" fill="none" stroke="#999" stroke-width="0.7"/>
<circle cx="580" cy="86.5" r="2.4" fill="none" stroke="#888" stroke-width="0.7"/>
<circle cx="583" cy="86.5" r="2.4" fill="none" stroke="#666" stroke-width="0.7"/>
<circle cx="584" cy="87.5" r="2.4" fill="none" stroke="#777" stroke-width="0.7"/>
<circle cx="582.5" cy="88" r="2.4" fill="none" stroke="#555" stroke-width="0.7"/>
<circle cx="601" cy="78" r="2.4" fill="none" stroke="#d06060" stroke-width="0.75"/>
<circle cx="605" cy="76.5" r="2.4" fill="none" stroke="#c04040" stroke-width="0.75"/>
<circle cx="608" cy="77" r="2.4" fill="none" stroke="#e02020" stroke-width="0.75"/>
<circle cx="609" cy="78.5" r="2.4" fill="none" stroke="#b02020" stroke-width="0.75"/>
<circle cx="610.5" cy="77" r="2.4" fill="none" stroke="#d03030" stroke-width="0.75"/>
<circle cx="612.5" cy="76.5" r="2.4" fill="none" stroke="#c04040" stroke-width="0.75"/>
<circle cx="616" cy="77.5" r="2.4" fill="none" stroke="#d06060" stroke-width="0.75"/>
<circle cx="607.5" cy="80" r="2.4" fill="none" stroke="#e03030" stroke-width="0.75"/>
<circle cx="608" cy="75" r="2.4" fill="none" stroke="#a02020" stroke-width="0.75"/>
<rect x="636.2" y="42.7" width="4.6" height="4.6" transform="rotate(45 638.5 45)" fill="none" stroke="#b08080" stroke-width="0.75"/>
<rect x="641.2" y="40.7" width="4.6" height="4.6" transform="rotate(45 643.5 43)" fill="none" stroke="#b07070" stroke-width="0.75"/>
<rect x="644.7" y="40.2" width="4.6" height="4.6" transform="rotate(45 647 42.5)" fill="none" stroke="#b05050" stroke-width="0.75"/>
<rect x="648.2" y="37.2" width="4.6" height="4.6" transform="rotate(45 650.5 39.5)" fill="none" stroke="#c04848" stroke-width="0.75"/>
<rect x="649.2" y="33.7" width="4.6" height="4.6" transform="rotate(45 651.5 36)" fill="none" stroke="#a06060" stroke-width="0.75"/>
<rect x="648.7" y="41.7" width="4.6" height="4.6" transform="rotate(45 651 44)" fill="none" stroke="#c03030" stroke-width="0.75"/>
<rect x="651.7" y="37.7" width="4.6" height="4.6" transform="rotate(45 654 40)" fill="none" stroke="#d05050" stroke-width="0.75"/>
<rect x="655.7" y="41.7" width="4.6" height="4.6" transform="rotate(45 658 44)" fill="none" stroke="#d03030" stroke-width="0.75"/>
<rect x="659.7" y="35.2" width="4.6" height="4.6" transform="rotate(45 662 37.5)" fill="none" stroke="#905050" stroke-width="0.75"/>
<rect x="645.7" y="36.2" width="4.6" height="4.6" transform="rotate(45 648 38.5)" fill="none" stroke="#b05050" stroke-width="0.75"/>
<text x="601.1" y="99.5" font-size="17" style="font-family:'Liberation Serif',serif">&gt;</text>
<text x="615.6" y="97.8" font-size="13.2" style="font-family:'Liberation Serif',serif">1</text>
<text x="567.8" y="109.2" font-size="17" style="font-family:'Liberation Serif',serif">&lt;</text>
<text x="582.3" y="107.5" font-size="13.2" style="font-family:'Liberation Serif',serif">1</text>
<text x="561.9" y="117.2" font-size="14" style="font-family:'Liberation Serif',serif" font-style="italic" stroke="#000" stroke-width="0.1">R</text>
<text x="570.3" y="119.5" font-size="11.5" style="font-family:'Liberation Serif',serif" font-style="italic" textLength="55.5" lengthAdjust="spacing" stroke="#000" stroke-width="0.15">oligo/mono</text>
<text x="508.40" y="182.70" font-size="15.5" text-anchor="start" fill="#000" font-weight="bold">F</text>
<rect x="581.3" y="170.6" width="101.2" height="51.9" fill="#ffb1b5"/>
<rect x="553.6" y="222.5" width="27.7" height="54.9" fill="#b4b4b4"/>
<rect x="553.6" y="170.6" width="128.89999999999998" height="106.8" fill="none" stroke="#333" stroke-width="1.1"/>
<line x1="581.3" y1="170.6" x2="581.3" y2="277.4" stroke="#000" stroke-width="1.4" stroke-dasharray="1.4,1.5"/>
<line x1="553.6" y1="222.5" x2="682.5" y2="222.5" stroke="#000" stroke-width="1.4" stroke-dasharray="1.4,1.5"/>
<line x1="562.3" y1="277.4" x2="562.3" y2="271.2" stroke="#333" stroke-width="1.1"/>
<line x1="580.9" y1="277.4" x2="580.9" y2="273.9" stroke="#333" stroke-width="1.1"/>
<line x1="599.5" y1="277.4" x2="599.5" y2="271.2" stroke="#333" stroke-width="1.1"/>
<line x1="618.1" y1="277.4" x2="618.1" y2="273.9" stroke="#333" stroke-width="1.1"/>
<line x1="636.7" y1="277.4" x2="636.7" y2="271.2" stroke="#333" stroke-width="1.1"/>
<line x1="655.3" y1="277.4" x2="655.3" y2="273.9" stroke="#333" stroke-width="1.1"/>
<line x1="673.9" y1="277.4" x2="673.9" y2="271.2" stroke="#333" stroke-width="1.1"/>
<line x1="553.6" y1="266.7" x2="560.1" y2="266.7" stroke="#333" stroke-width="1.1"/>
<line x1="553.6" y1="242.3" x2="560.1" y2="242.3" stroke="#333" stroke-width="1.1"/>
<line x1="553.6" y1="217.9" x2="560.1" y2="217.9" stroke="#333" stroke-width="1.1"/>
<line x1="553.6" y1="193.5" x2="560.1" y2="193.5" stroke="#333" stroke-width="1.1"/>
<text x="548.20" y="270.90" font-size="13" text-anchor="end" fill="#000" >0.2</text>
<text x="548.20" y="247.10" font-size="13" text-anchor="end" fill="#000" >0.3</text>
<text x="548.20" y="223.40" font-size="13" text-anchor="end" fill="#000" >0.4</text>
<text x="548.20" y="199.40" font-size="13" text-anchor="end" fill="#000" >0.5</text>
<text x="548.20" y="177.20" font-size="13" text-anchor="end" fill="#000" >0.6</text>
<text x="562.30" y="292.00" font-size="13" text-anchor="middle" fill="#000" >0</text>
<text x="599.50" y="292.00" font-size="13" text-anchor="middle" fill="#000" >2</text>
<text x="636.70" y="292.00" font-size="13" text-anchor="middle" fill="#000" >4</text>
<text x="673.90" y="292.00" font-size="13" text-anchor="middle" fill="#000" >6</text>
<text x="587.0" y="306.4" font-size="14" style="font-family:'Liberation Serif',serif" font-style="italic" stroke="#000" stroke-width="0.1">R</text>
<text x="595.4" y="308.7" font-size="11.5" style="font-family:'Liberation Serif',serif" font-style="italic" textLength="55.5" lengthAdjust="spacing" stroke="#000" stroke-width="0.15">oligo/mono</text>
<text transform="translate(518.4,232) rotate(-90)" font-size="13.6" text-anchor="middle">S (μm<tspan font-size="9.5" dy="-5">2</tspan><tspan dy="5">)</tspan></text>
<path d="M562.30,242.30 C562.61,241.87 563.54,240.55 564.16,239.71 C564.78,238.87 565.40,238.06 566.02,237.28 C566.64,236.49 567.26,235.74 567.88,235.00 C568.50,234.27 569.12,233.55 569.74,232.87 C570.36,232.18 570.98,231.51 571.60,230.86 C572.22,230.22 572.84,229.59 573.46,228.99 C574.08,228.38 574.70,227.79 575.32,227.23 C575.94,226.66 576.56,226.11 577.18,225.58 C577.80,225.04 578.42,224.53 579.04,224.03 C579.66,223.53 580.28,223.05 580.90,222.58 C581.52,222.11 582.14,221.66 582.76,221.22 C583.38,220.78 584.00,220.36 584.62,219.95 C585.24,219.53 585.86,219.14 586.48,218.75 C587.10,218.36 587.72,217.99 588.34,217.63 C588.96,217.27 589.58,216.92 590.20,216.58 C590.82,216.24 591.44,215.91 592.06,215.60 C592.68,215.28 593.30,214.97 593.92,214.67 C594.54,214.37 595.16,214.09 595.78,213.81 C596.40,213.53 597.02,213.26 597.64,213.00 C598.26,212.73 598.88,212.48 599.50,212.23 C600.12,211.99 600.74,211.75 601.36,211.52 C601.98,211.29 602.60,211.07 603.22,210.85 C603.84,210.64 604.46,210.43 605.08,210.23 C605.70,210.02 606.32,209.83 606.94,209.64 C607.56,209.45 608.18,209.27 608.80,209.09 C609.42,208.91 610.04,208.74 610.66,208.57 C611.28,208.40 611.90,208.24 612.52,208.09 C613.14,207.93 613.76,207.78 614.38,207.63 C615.00,207.49 615.62,207.34 616.24,207.21 C616.86,207.07 617.48,206.94 618.10,206.81 C618.72,206.68 619.34,206.55 619.96,206.43 C620.58,206.31 621.20,206.20 621.82,206.08 C622.44,205.97 623.06,205.86 623.68,205.75 C624.30,205.65 624.92,205.55 625.54,205.45 C626.16,205.35 626.78,205.25 627.40,205.16 C628.02,205.06 628.64,204.97 629.26,204.89 C629.88,204.80 630.50,204.71 631.12,204.63 C631.74,204.55 632.36,204.47 632.98,204.39 C633.60,204.32 634.22,204.24 634.84,204.17 C635.46,204.10 636.08,204.03 636.70,203.96 C637.32,203.89 637.94,203.83 638.56,203.76 C639.18,203.70 639.80,203.64 640.42,203.58 C641.04,203.52 641.66,203.46 642.28,203.41 C642.90,203.35 643.52,203.30 644.14,203.25 C644.76,203.19 645.38,203.14 646.00,203.10 C646.62,203.05 647.24,203.00 647.86,202.95 C648.48,202.91 649.10,202.86 649.72,202.82 C650.34,202.78 650.96,202.74 651.58,202.69 C652.20,202.65 652.82,202.62 653.44,202.58 C654.06,202.54 654.68,202.50 655.30,202.47 C655.92,202.43 656.54,202.40 657.16,202.36 C657.78,202.33 658.40,202.30 659.02,202.27 C659.64,202.24 660.26,202.21 660.88,202.18 C661.50,202.15 662.12,202.12 662.74,202.09 C663.36,202.07 663.98,202.04 664.60,202.01 C665.22,201.99 665.84,201.96 666.46,201.94 C667.08,201.91 667.70,201.89 668.32,201.87 C668.94,201.85 669.56,201.82 670.18,201.80 C670.80,201.78 671.42,201.76 672.04,201.74 C672.66,201.72 673.28,201.70 673.90,201.68 C674.52,201.67 675.14,201.65 675.76,201.63 C676.38,201.61 677.00,201.60 677.62,201.58 C678.24,201.56 678.86,201.55 679.48,201.53 C680.10,201.52 680.72,201.50 681.34,201.49 C681.96,201.47 682.58,201.46 683.20,201.45 C683.82,201.43 684.44,201.42 685.06,201.41 C685.68,201.39 686.30,201.38 686.92,201.37 C687.54,201.36 688.16,201.35 688.78,201.34 C689.40,201.32 690.02,201.31 690.64,201.30 C691.26,201.29 692.19,201.28 692.50,201.27" fill="none" stroke="#3a0a0a" stroke-width="1.5" stroke-dasharray="5.5,5" stroke-dashoffset="0" clip-path="url(#clipF)"/>
<circle cx="608.5" cy="212" r="2.9" fill="#f03030" opacity="0.9"/>
<circle cx="628" cy="195.1" r="2.9" fill="#d02020" opacity="0.9"/>
<circle cx="623.8" cy="203.5" r="2.9" fill="#ee2a2a" opacity="0.9"/>
<circle cx="630.9" cy="204.1" r="2.9" fill="#b82020" opacity="0.9"/>
<circle cx="635.2" cy="206" r="2.9" fill="#f03a3a" opacity="0.9"/>
<circle cx="638.8" cy="200.6" r="2.9" fill="#a82020" opacity="0.9"/>
<circle cx="640.4" cy="206.9" r="2.9" fill="#e02a2a" opacity="0.9"/>
<circle cx="662.7" cy="199.9" r="2.9" fill="#c82222" opacity="0.9"/>
<circle cx="672.6" cy="199.9" r="2.9" fill="#f05050" opacity="0.9"/>
<circle cx="565.1" cy="231.3" r="2.9" fill="#404040" opacity="0.9"/>
<circle cx="568" cy="228.7" r="2.9" fill="#808080" opacity="0.9"/>
<circle cx="565.1" cy="236" r="2.9" fill="#707070" opacity="0.9"/>
<circle cx="571.2" cy="237.5" r="2.9" fill="#505050" opacity="0.9"/>
<circle cx="568" cy="246.3" r="2.9" fill="#888" opacity="0.9"/>
<circle cx="564.1" cy="253.7" r="2.9" fill="#888" opacity="0.9"/>
<text x="624.20" y="183.20" font-size="13" text-anchor="middle" fill="#000" >@ <tspan font-style="italic">λ</tspan> = 633 nm</text>
<text x="627.70" y="239.00" font-size="13" text-anchor="middle" fill="#f01010" >(response: 1)</text>
<text x="627.70" y="267.70" font-size="13" text-anchor="middle" fill="#5a3a2a" >(response: 0)</text>
<line x1="630" y1="229" x2="630" y2="221" stroke="#000" stroke-width="1.5"/><path d="M630,216.3 L627.2,222 L632.8,222 Z" fill="#000"/>
<line x1="586.5" y1="265.4" x2="579" y2="265.4" stroke="#000" stroke-width="1.5"/><path d="M574.6,265.4 L580.3,262.6 L580.3,268.2 Z" fill="#000"/>
</svg></body></html>
